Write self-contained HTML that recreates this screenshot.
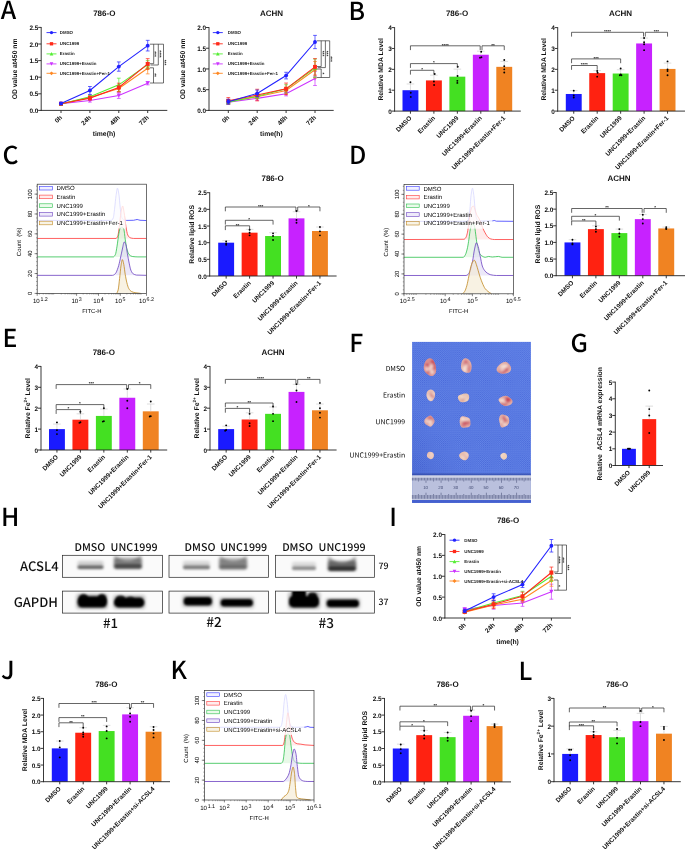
<!DOCTYPE html>
<html lang="en">
<head>
<meta charset="utf-8">
<title>Figure: UNC1999 and Erastin ferroptosis panels</title>
<style>
html,body{margin:0;padding:0;background:#fff;}
body{width:685px;height:851px;overflow:hidden;font-family:"Liberation Sans",sans-serif;}
svg{display:block;will-change:transform;}
</style>
</head>
<body>
<svg width="685" height="851" viewBox="0 0 685 851" text-rendering="geometricPrecision" font-family='"Liberation Sans", sans-serif'>
<defs><filter id="b1" x="-30%" y="-80%" width="160%" height="260%"><feGaussianBlur stdDeviation="1.1"/></filter><filter id="b2" x="-30%" y="-80%" width="160%" height="260%"><feGaussianBlur stdDeviation="1.8"/></filter><filter id="b05" x="-30%" y="-30%" width="160%" height="160%"><feGaussianBlur stdDeviation="0.7"/></filter><filter id="b08" x="-50%" y="-50%" width="200%" height="200%"><feGaussianBlur stdDeviation="1.0"/></filter><pattern id="mesh" width="2.1" height="2.1" patternUnits="userSpaceOnUse"><rect width="2.1" height="2.1" fill="#6587e8"/><circle cx="0.5" cy="0.5" r="0.58" fill="#4767d8"/><circle cx="1.55" cy="1.55" r="0.58" fill="#4767d8"/></pattern><linearGradient id="shade" x1="1" y1="0" x2="0" y2="1"><stop offset="0" stop-color="#6d8cf0" stop-opacity="0.2"/><stop offset="0.6" stop-color="#4f6fe0" stop-opacity="0"/><stop offset="1" stop-color="#2c44b0" stop-opacity="0.45"/></linearGradient></defs>
<rect width="685" height="851" fill="#fff"/>
<text x="0.71" y="19" font-size="24.8" font-weight="500" text-anchor="start" fill="#000" font-family='"Noto Sans CJK SC", "Liberation Sans", sans-serif'>A</text>
<text x="348.38" y="19.8" font-size="24.8" font-weight="500" text-anchor="start" fill="#000" font-family='"Noto Sans CJK SC", "Liberation Sans", sans-serif'>B</text>
<text x="2.4" y="163.5" font-size="24.8" font-weight="500" text-anchor="start" fill="#000" font-family='"Noto Sans CJK SC", "Liberation Sans", sans-serif'>C</text>
<text x="349" y="163.6" font-size="24.8" font-weight="500" text-anchor="start" fill="#000" font-family='"Noto Sans CJK SC", "Liberation Sans", sans-serif'>D</text>
<text x="2.4" y="346.8" font-size="24.8" font-weight="500" text-anchor="start" fill="#000" font-family='"Noto Sans CJK SC", "Liberation Sans", sans-serif'>E</text>
<text x="349.2" y="351.8" font-size="24.8" font-weight="500" text-anchor="start" fill="#000" font-family='"Noto Sans CJK SC", "Liberation Sans", sans-serif'>F</text>
<text x="570.6" y="352.1" font-size="24.8" font-weight="500" text-anchor="start" fill="#000" font-family='"Noto Sans CJK SC", "Liberation Sans", sans-serif'>G</text>
<text x="1.02" y="525.6" font-size="24.8" font-weight="500" text-anchor="start" fill="#000" font-family='"Noto Sans CJK SC", "Liberation Sans", sans-serif'>H</text>
<text x="389.2" y="525.6" font-size="24.8" font-weight="500" text-anchor="start" fill="#000" font-family='"Noto Sans CJK SC", "Liberation Sans", sans-serif'>I</text>
<text x="1.1" y="679.3" font-size="24.8" font-weight="500" text-anchor="start" fill="#000" font-family='"Noto Sans CJK SC", "Liberation Sans", sans-serif'>J</text>
<text x="170.58" y="679" font-size="24.8" font-weight="500" text-anchor="start" fill="#000" font-family='"Noto Sans CJK SC", "Liberation Sans", sans-serif'>K</text>
<text x="518.38" y="680.4" font-size="24.8" font-weight="500" text-anchor="start" fill="#000" font-family='"Noto Sans CJK SC", "Liberation Sans", sans-serif'>L</text>
<line x1="61" y1="102.76" x2="61" y2="104.76" stroke="#cc33ff" stroke-width="0.7"/>
<line x1="59.1" y1="102.76" x2="62.9" y2="102.76" stroke="#cc33ff" stroke-width="0.7"/>
<line x1="59.1" y1="104.76" x2="62.9" y2="104.76" stroke="#cc33ff" stroke-width="0.7"/>
<line x1="89.9" y1="98.78" x2="89.9" y2="102.1" stroke="#cc33ff" stroke-width="0.7"/>
<line x1="88" y1="98.78" x2="91.8" y2="98.78" stroke="#cc33ff" stroke-width="0.7"/>
<line x1="88" y1="102.1" x2="91.8" y2="102.1" stroke="#cc33ff" stroke-width="0.7"/>
<line x1="118.8" y1="92.47" x2="118.8" y2="98.45" stroke="#cc33ff" stroke-width="0.7"/>
<line x1="116.9" y1="92.47" x2="120.7" y2="92.47" stroke="#cc33ff" stroke-width="0.7"/>
<line x1="116.9" y1="98.45" x2="120.7" y2="98.45" stroke="#cc33ff" stroke-width="0.7"/>
<line x1="147.7" y1="81.52" x2="147.7" y2="84.84" stroke="#cc33ff" stroke-width="0.7"/>
<line x1="145.8" y1="81.52" x2="149.6" y2="81.52" stroke="#cc33ff" stroke-width="0.7"/>
<line x1="145.8" y1="84.84" x2="149.6" y2="84.84" stroke="#cc33ff" stroke-width="0.7"/>
<polyline points="61,103.76 89.9,100.44 118.8,95.46 147.7,83.18" fill="none" stroke="#cc33ff" stroke-width="1.1"/>
<path d="M58.85 101.81L63.15 101.81L61 105.91Z" fill="#cc33ff"/>
<path d="M87.76 98.49L92.05 98.49L89.9 102.58Z" fill="#cc33ff"/>
<path d="M116.66 93.51L120.94 93.51L118.8 97.61Z" fill="#cc33ff"/>
<path d="M145.55 81.23L149.84 81.23L147.7 85.32Z" fill="#cc33ff"/>
<line x1="61" y1="102.76" x2="61" y2="104.76" stroke="#ff8822" stroke-width="0.7"/>
<line x1="59.1" y1="102.76" x2="62.9" y2="102.76" stroke="#ff8822" stroke-width="0.7"/>
<line x1="59.1" y1="104.76" x2="62.9" y2="104.76" stroke="#ff8822" stroke-width="0.7"/>
<line x1="89.9" y1="95.79" x2="89.9" y2="99.11" stroke="#ff8822" stroke-width="0.7"/>
<line x1="88" y1="95.79" x2="91.8" y2="95.79" stroke="#ff8822" stroke-width="0.7"/>
<line x1="88" y1="99.11" x2="91.8" y2="99.11" stroke="#ff8822" stroke-width="0.7"/>
<line x1="118.8" y1="85.17" x2="118.8" y2="91.81" stroke="#ff8822" stroke-width="0.7"/>
<line x1="116.9" y1="85.17" x2="120.7" y2="85.17" stroke="#ff8822" stroke-width="0.7"/>
<line x1="116.9" y1="91.81" x2="120.7" y2="91.81" stroke="#ff8822" stroke-width="0.7"/>
<line x1="147.7" y1="62.59" x2="147.7" y2="73.88" stroke="#ff8822" stroke-width="0.7"/>
<line x1="145.8" y1="62.59" x2="149.6" y2="62.59" stroke="#ff8822" stroke-width="0.7"/>
<line x1="145.8" y1="73.88" x2="149.6" y2="73.88" stroke="#ff8822" stroke-width="0.7"/>
<polyline points="61,103.76 89.9,97.45 118.8,88.49 147.7,68.24" fill="none" stroke="#ff8822" stroke-width="1.1"/>
<path d="M58.76 103.76L61 101.52L63.24 103.76L61 106Z" fill="#ff8822"/>
<path d="M87.66 97.45L89.9 95.21L92.14 97.45L89.9 99.69Z" fill="#ff8822"/>
<path d="M116.56 88.49L118.8 86.25L121.04 88.49L118.8 90.73Z" fill="#ff8822"/>
<path d="M145.46 68.24L147.7 65.99L149.94 68.24L147.7 70.48Z" fill="#ff8822"/>
<line x1="61" y1="103.1" x2="61" y2="105.09" stroke="#55ee33" stroke-width="0.7"/>
<line x1="59.1" y1="103.1" x2="62.9" y2="103.1" stroke="#55ee33" stroke-width="0.7"/>
<line x1="59.1" y1="105.09" x2="62.9" y2="105.09" stroke="#55ee33" stroke-width="0.7"/>
<line x1="89.9" y1="95.13" x2="89.9" y2="98.45" stroke="#55ee33" stroke-width="0.7"/>
<line x1="88" y1="95.13" x2="91.8" y2="95.13" stroke="#55ee33" stroke-width="0.7"/>
<line x1="88" y1="98.45" x2="91.8" y2="98.45" stroke="#55ee33" stroke-width="0.7"/>
<line x1="118.8" y1="78.2" x2="118.8" y2="91.48" stroke="#55ee33" stroke-width="0.7"/>
<line x1="116.9" y1="78.2" x2="120.7" y2="78.2" stroke="#55ee33" stroke-width="0.7"/>
<line x1="116.9" y1="91.48" x2="120.7" y2="91.48" stroke="#55ee33" stroke-width="0.7"/>
<line x1="147.7" y1="60.6" x2="147.7" y2="68.57" stroke="#55ee33" stroke-width="0.7"/>
<line x1="145.8" y1="60.6" x2="149.6" y2="60.6" stroke="#55ee33" stroke-width="0.7"/>
<line x1="145.8" y1="68.57" x2="149.6" y2="68.57" stroke="#55ee33" stroke-width="0.7"/>
<polyline points="61,104.09 89.9,96.79 118.8,84.84 147.7,64.58" fill="none" stroke="#55ee33" stroke-width="1.1"/>
<path d="M58.85 106.04L63.15 106.04L61 101.95Z" fill="#55ee33"/>
<path d="M87.76 98.74L92.05 98.74L89.9 94.64Z" fill="#55ee33"/>
<path d="M116.66 86.79L120.94 86.79L118.8 82.69Z" fill="#55ee33"/>
<path d="M145.55 66.53L149.84 66.53L147.7 62.44Z" fill="#55ee33"/>
<line x1="61" y1="102.76" x2="61" y2="104.76" stroke="#ff2a1a" stroke-width="0.7"/>
<line x1="59.1" y1="102.76" x2="62.9" y2="102.76" stroke="#ff2a1a" stroke-width="0.7"/>
<line x1="59.1" y1="104.76" x2="62.9" y2="104.76" stroke="#ff2a1a" stroke-width="0.7"/>
<line x1="89.9" y1="96.12" x2="89.9" y2="100.11" stroke="#ff2a1a" stroke-width="0.7"/>
<line x1="88" y1="96.12" x2="91.8" y2="96.12" stroke="#ff2a1a" stroke-width="0.7"/>
<line x1="88" y1="100.11" x2="91.8" y2="100.11" stroke="#ff2a1a" stroke-width="0.7"/>
<line x1="118.8" y1="83.18" x2="118.8" y2="91.81" stroke="#ff2a1a" stroke-width="0.7"/>
<line x1="116.9" y1="83.18" x2="120.7" y2="83.18" stroke="#ff2a1a" stroke-width="0.7"/>
<line x1="116.9" y1="91.81" x2="120.7" y2="91.81" stroke="#ff2a1a" stroke-width="0.7"/>
<line x1="147.7" y1="58.61" x2="147.7" y2="69.23" stroke="#ff2a1a" stroke-width="0.7"/>
<line x1="145.8" y1="58.61" x2="149.6" y2="58.61" stroke="#ff2a1a" stroke-width="0.7"/>
<line x1="145.8" y1="69.23" x2="149.6" y2="69.23" stroke="#ff2a1a" stroke-width="0.7"/>
<polyline points="61,103.76 89.9,98.12 118.8,87.49 147.7,63.92" fill="none" stroke="#ff2a1a" stroke-width="1.1"/>
<rect x="59.05" y="101.81" width="3.9" height="3.9" fill="#ff2a1a"/>
<rect x="87.95" y="96.17" width="3.9" height="3.9" fill="#ff2a1a"/>
<rect x="116.85" y="85.54" width="3.9" height="3.9" fill="#ff2a1a"/>
<rect x="145.75" y="61.97" width="3.9" height="3.9" fill="#ff2a1a"/>
<line x1="61" y1="102.43" x2="61" y2="104.42" stroke="#2222ff" stroke-width="0.7"/>
<line x1="59.1" y1="102.43" x2="62.9" y2="102.43" stroke="#2222ff" stroke-width="0.7"/>
<line x1="59.1" y1="104.42" x2="62.9" y2="104.42" stroke="#2222ff" stroke-width="0.7"/>
<line x1="89.9" y1="86.5" x2="89.9" y2="94.46" stroke="#2222ff" stroke-width="0.7"/>
<line x1="88" y1="86.5" x2="91.8" y2="86.5" stroke="#2222ff" stroke-width="0.7"/>
<line x1="88" y1="94.46" x2="91.8" y2="94.46" stroke="#2222ff" stroke-width="0.7"/>
<line x1="118.8" y1="61.93" x2="118.8" y2="71.22" stroke="#2222ff" stroke-width="0.7"/>
<line x1="116.9" y1="61.93" x2="120.7" y2="61.93" stroke="#2222ff" stroke-width="0.7"/>
<line x1="116.9" y1="71.22" x2="120.7" y2="71.22" stroke="#2222ff" stroke-width="0.7"/>
<line x1="147.7" y1="40.35" x2="147.7" y2="50.97" stroke="#2222ff" stroke-width="0.7"/>
<line x1="145.8" y1="40.35" x2="149.6" y2="40.35" stroke="#2222ff" stroke-width="0.7"/>
<line x1="145.8" y1="50.97" x2="149.6" y2="50.97" stroke="#2222ff" stroke-width="0.7"/>
<polyline points="61,103.43 89.9,90.48 118.8,66.58 147.7,45.66" fill="none" stroke="#2222ff" stroke-width="1.1"/>
<circle cx="61" cy="103.43" r="1.95" fill="#2222ff"/>
<circle cx="89.9" cy="90.48" r="1.95" fill="#2222ff"/>
<circle cx="118.8" cy="66.58" r="1.95" fill="#2222ff"/>
<circle cx="147.7" cy="45.66" r="1.95" fill="#2222ff"/>
<line x1="40.75" y1="110.4" x2="167.3" y2="110.4" stroke="#222" stroke-width="0.9"/>
<line x1="41.2" y1="27" x2="41.2" y2="110.8" stroke="#222" stroke-width="0.9"/>
<line x1="38.2" y1="110.4" x2="41.2" y2="110.4" stroke="#222" stroke-width="0.9"/>
<text x="38.3" y="113.05" font-size="6.4" font-weight="bold" text-anchor="end" fill="#111">0.0</text>
<line x1="38.2" y1="93.8" x2="41.2" y2="93.8" stroke="#222" stroke-width="0.9"/>
<text x="38.3" y="96.45" font-size="6.4" font-weight="bold" text-anchor="end" fill="#111">0.5</text>
<line x1="38.2" y1="77.2" x2="41.2" y2="77.2" stroke="#222" stroke-width="0.9"/>
<text x="38.3" y="79.85" font-size="6.4" font-weight="bold" text-anchor="end" fill="#111">1.0</text>
<line x1="38.2" y1="60.6" x2="41.2" y2="60.6" stroke="#222" stroke-width="0.9"/>
<text x="38.3" y="63.25" font-size="6.4" font-weight="bold" text-anchor="end" fill="#111">1.5</text>
<line x1="38.2" y1="44" x2="41.2" y2="44" stroke="#222" stroke-width="0.9"/>
<text x="38.3" y="46.65" font-size="6.4" font-weight="bold" text-anchor="end" fill="#111">2.0</text>
<line x1="38.2" y1="27.4" x2="41.2" y2="27.4" stroke="#222" stroke-width="0.9"/>
<text x="38.3" y="30.05" font-size="6.4" font-weight="bold" text-anchor="end" fill="#111">2.5</text>
<line x1="61" y1="110.4" x2="61" y2="113" stroke="#222" stroke-width="0.9"/>
<text x="62.6" y="117.9" font-size="6.4" font-weight="bold" text-anchor="end" fill="#111" transform="rotate(-45 62.6 117.9)">0h</text>
<line x1="89.9" y1="110.4" x2="89.9" y2="113" stroke="#222" stroke-width="0.9"/>
<text x="91.5" y="117.9" font-size="6.4" font-weight="bold" text-anchor="end" fill="#111" transform="rotate(-45 91.5 117.9)">24h</text>
<line x1="118.8" y1="110.4" x2="118.8" y2="113" stroke="#222" stroke-width="0.9"/>
<text x="120.4" y="117.9" font-size="6.4" font-weight="bold" text-anchor="end" fill="#111" transform="rotate(-45 120.4 117.9)">48h</text>
<line x1="147.7" y1="110.4" x2="147.7" y2="113" stroke="#222" stroke-width="0.9"/>
<text x="149.3" y="117.9" font-size="6.4" font-weight="bold" text-anchor="end" fill="#111" transform="rotate(-45 149.3 117.9)">72h</text>
<line x1="46.5" y1="32.6" x2="56.5" y2="32.6" stroke="#2222ff" stroke-width="0.9"/>
<circle cx="51.5" cy="32.6" r="1.66" fill="#2222ff"/>
<text x="59.8" y="34.18" font-size="4.4" font-weight="bold" text-anchor="start" fill="#222">DMSO</text>
<line x1="46.5" y1="43.8" x2="56.5" y2="43.8" stroke="#ff2a1a" stroke-width="0.9"/>
<rect x="49.84" y="42.14" width="3.31" height="3.31" fill="#ff2a1a"/>
<text x="59.8" y="45.38" font-size="4.4" font-weight="bold" text-anchor="start" fill="#222">UNC1999</text>
<line x1="46.5" y1="53.9" x2="56.5" y2="53.9" stroke="#55ee33" stroke-width="0.9"/>
<path d="M49.68 55.56L53.32 55.56L51.5 52.08Z" fill="#55ee33"/>
<text x="59.8" y="55.48" font-size="4.4" font-weight="bold" text-anchor="start" fill="#222">Erastin</text>
<line x1="46.5" y1="63.9" x2="56.5" y2="63.9" stroke="#cc33ff" stroke-width="0.9"/>
<path d="M49.68 62.24L53.32 62.24L51.5 65.72Z" fill="#cc33ff"/>
<text x="59.8" y="65.48" font-size="4.4" font-weight="bold" text-anchor="start" fill="#222">UNC1999+Erastin</text>
<line x1="46.5" y1="73.3" x2="56.5" y2="73.3" stroke="#ff8822" stroke-width="0.9"/>
<path d="M49.59 73.3L51.5 71.39L53.41 73.3L51.5 75.21Z" fill="#ff8822"/>
<text x="59.8" y="74.88" font-size="4.4" font-weight="bold" text-anchor="start" fill="#222">UNC1999+Erastin+Fer-1</text>
<path d="M149.8 44.2H163.5V83H149.8M153.7 44.2V63.7H149.8M158.3 44.2V65H150.6M149.8 67.8H153.5V83" stroke="#222" stroke-width="0.65" fill="none"/>
<text x="153.2" y="54" font-size="4.8" font-weight="bold" text-anchor="middle" fill="#222" transform="rotate(90 153.2 54)">***</text>
<text x="157.8" y="54" font-size="4.8" font-weight="bold" text-anchor="middle" fill="#222" transform="rotate(90 157.8 54)">****</text>
<text x="163" y="62.5" font-size="4.8" font-weight="bold" text-anchor="middle" fill="#222" transform="rotate(90 163 62.5)">***</text>
<text x="153" y="75" font-size="4.8" font-weight="bold" text-anchor="middle" fill="#222" transform="rotate(90 153 75)">**</text>
<text x="104.3" y="16.2" font-size="8" font-weight="bold" text-anchor="middle" fill="#111">786-O</text>
<text x="17.5" y="68.9" font-size="6.8" font-weight="bold" text-anchor="middle" fill="#111" transform="rotate(-90 17.5 68.9)">OD value at450 nm</text>
<text x="104" y="136.2" font-size="6.8" font-weight="bold" text-anchor="middle" fill="#111">time(h)</text>
<line x1="228.3" y1="100.45" x2="228.3" y2="103.77" stroke="#cc33ff" stroke-width="0.7"/>
<line x1="226.4" y1="100.45" x2="230.2" y2="100.45" stroke="#cc33ff" stroke-width="0.7"/>
<line x1="226.4" y1="103.77" x2="230.2" y2="103.77" stroke="#cc33ff" stroke-width="0.7"/>
<line x1="257.2" y1="96.31" x2="257.2" y2="100.45" stroke="#cc33ff" stroke-width="0.7"/>
<line x1="255.3" y1="96.31" x2="259.1" y2="96.31" stroke="#cc33ff" stroke-width="0.7"/>
<line x1="255.3" y1="100.45" x2="259.1" y2="100.45" stroke="#cc33ff" stroke-width="0.7"/>
<line x1="286.1" y1="91.75" x2="286.1" y2="95.89" stroke="#cc33ff" stroke-width="0.7"/>
<line x1="284.2" y1="91.75" x2="288" y2="91.75" stroke="#cc33ff" stroke-width="0.7"/>
<line x1="284.2" y1="95.89" x2="288" y2="95.89" stroke="#cc33ff" stroke-width="0.7"/>
<line x1="315" y1="71.44" x2="315" y2="85.53" stroke="#cc33ff" stroke-width="0.7"/>
<line x1="313.1" y1="71.44" x2="316.9" y2="71.44" stroke="#cc33ff" stroke-width="0.7"/>
<line x1="313.1" y1="85.53" x2="316.9" y2="85.53" stroke="#cc33ff" stroke-width="0.7"/>
<polyline points="228.3,102.11 257.2,98.38 286.1,93.82 315,78.48" fill="none" stroke="#cc33ff" stroke-width="1.1"/>
<path d="M226.16 100.16L230.45 100.16L228.3 104.25Z" fill="#cc33ff"/>
<path d="M255.05 96.43L259.34 96.43L257.2 100.52Z" fill="#cc33ff"/>
<path d="M283.96 91.87L288.25 91.87L286.1 95.97Z" fill="#cc33ff"/>
<path d="M312.86 76.53L317.14 76.53L315 80.63Z" fill="#cc33ff"/>
<line x1="228.3" y1="100.04" x2="228.3" y2="103.35" stroke="#ff8822" stroke-width="0.7"/>
<line x1="226.4" y1="100.04" x2="230.2" y2="100.04" stroke="#ff8822" stroke-width="0.7"/>
<line x1="226.4" y1="103.35" x2="230.2" y2="103.35" stroke="#ff8822" stroke-width="0.7"/>
<line x1="257.2" y1="94.65" x2="257.2" y2="98.79" stroke="#ff8822" stroke-width="0.7"/>
<line x1="255.3" y1="94.65" x2="259.1" y2="94.65" stroke="#ff8822" stroke-width="0.7"/>
<line x1="255.3" y1="98.79" x2="259.1" y2="98.79" stroke="#ff8822" stroke-width="0.7"/>
<line x1="286.1" y1="87.19" x2="286.1" y2="93.82" stroke="#ff8822" stroke-width="0.7"/>
<line x1="284.2" y1="87.19" x2="288" y2="87.19" stroke="#ff8822" stroke-width="0.7"/>
<line x1="284.2" y1="93.82" x2="288" y2="93.82" stroke="#ff8822" stroke-width="0.7"/>
<line x1="315" y1="61.49" x2="315" y2="78.07" stroke="#ff8822" stroke-width="0.7"/>
<line x1="313.1" y1="61.49" x2="316.9" y2="61.49" stroke="#ff8822" stroke-width="0.7"/>
<line x1="313.1" y1="78.07" x2="316.9" y2="78.07" stroke="#ff8822" stroke-width="0.7"/>
<polyline points="228.3,101.7 257.2,96.72 286.1,90.5 315,69.78" fill="none" stroke="#ff8822" stroke-width="1.1"/>
<path d="M226.06 101.7L228.3 99.45L230.54 101.7L228.3 103.94Z" fill="#ff8822"/>
<path d="M254.96 96.72L257.2 94.48L259.44 96.72L257.2 98.96Z" fill="#ff8822"/>
<path d="M283.86 90.5L286.1 88.26L288.34 90.5L286.1 92.75Z" fill="#ff8822"/>
<path d="M312.76 69.78L315 67.54L317.24 69.78L315 72.02Z" fill="#ff8822"/>
<line x1="228.3" y1="100.04" x2="228.3" y2="104.18" stroke="#55ee33" stroke-width="0.7"/>
<line x1="226.4" y1="100.04" x2="230.2" y2="100.04" stroke="#55ee33" stroke-width="0.7"/>
<line x1="226.4" y1="104.18" x2="230.2" y2="104.18" stroke="#55ee33" stroke-width="0.7"/>
<line x1="257.2" y1="93.82" x2="257.2" y2="98.79" stroke="#55ee33" stroke-width="0.7"/>
<line x1="255.3" y1="93.82" x2="259.1" y2="93.82" stroke="#55ee33" stroke-width="0.7"/>
<line x1="255.3" y1="98.79" x2="259.1" y2="98.79" stroke="#55ee33" stroke-width="0.7"/>
<line x1="286.1" y1="84.7" x2="286.1" y2="92.99" stroke="#55ee33" stroke-width="0.7"/>
<line x1="284.2" y1="84.7" x2="288" y2="84.7" stroke="#55ee33" stroke-width="0.7"/>
<line x1="284.2" y1="92.99" x2="288" y2="92.99" stroke="#55ee33" stroke-width="0.7"/>
<line x1="315" y1="59" x2="315" y2="77.24" stroke="#55ee33" stroke-width="0.7"/>
<line x1="313.1" y1="59" x2="316.9" y2="59" stroke="#55ee33" stroke-width="0.7"/>
<line x1="313.1" y1="77.24" x2="316.9" y2="77.24" stroke="#55ee33" stroke-width="0.7"/>
<polyline points="228.3,102.11 257.2,96.31 286.1,88.85 315,68.12" fill="none" stroke="#55ee33" stroke-width="1.1"/>
<path d="M226.16 104.06L230.45 104.06L228.3 99.97Z" fill="#55ee33"/>
<path d="M255.05 98.26L259.34 98.26L257.2 94.16Z" fill="#55ee33"/>
<path d="M283.96 90.8L288.25 90.8L286.1 86.7Z" fill="#55ee33"/>
<path d="M312.86 70.07L317.14 70.07L315 65.98Z" fill="#55ee33"/>
<line x1="228.3" y1="97.55" x2="228.3" y2="104.18" stroke="#ff2a1a" stroke-width="0.7"/>
<line x1="226.4" y1="97.55" x2="230.2" y2="97.55" stroke="#ff2a1a" stroke-width="0.7"/>
<line x1="226.4" y1="104.18" x2="230.2" y2="104.18" stroke="#ff2a1a" stroke-width="0.7"/>
<line x1="257.2" y1="89.26" x2="257.2" y2="100.87" stroke="#ff2a1a" stroke-width="0.7"/>
<line x1="255.3" y1="89.26" x2="259.1" y2="89.26" stroke="#ff2a1a" stroke-width="0.7"/>
<line x1="255.3" y1="100.87" x2="259.1" y2="100.87" stroke="#ff2a1a" stroke-width="0.7"/>
<line x1="286.1" y1="83.04" x2="286.1" y2="94.65" stroke="#ff2a1a" stroke-width="0.7"/>
<line x1="284.2" y1="83.04" x2="288" y2="83.04" stroke="#ff2a1a" stroke-width="0.7"/>
<line x1="284.2" y1="94.65" x2="288" y2="94.65" stroke="#ff2a1a" stroke-width="0.7"/>
<line x1="315" y1="58.59" x2="315" y2="75.17" stroke="#ff2a1a" stroke-width="0.7"/>
<line x1="313.1" y1="58.59" x2="316.9" y2="58.59" stroke="#ff2a1a" stroke-width="0.7"/>
<line x1="313.1" y1="75.17" x2="316.9" y2="75.17" stroke="#ff2a1a" stroke-width="0.7"/>
<polyline points="228.3,100.87 257.2,95.06 286.1,88.85 315,66.88" fill="none" stroke="#ff2a1a" stroke-width="1.1"/>
<rect x="226.35" y="98.92" width="3.9" height="3.9" fill="#ff2a1a"/>
<rect x="255.25" y="93.11" width="3.9" height="3.9" fill="#ff2a1a"/>
<rect x="284.15" y="86.9" width="3.9" height="3.9" fill="#ff2a1a"/>
<rect x="313.05" y="64.93" width="3.9" height="3.9" fill="#ff2a1a"/>
<line x1="228.3" y1="99.21" x2="228.3" y2="104.18" stroke="#2222ff" stroke-width="0.7"/>
<line x1="226.4" y1="99.21" x2="230.2" y2="99.21" stroke="#2222ff" stroke-width="0.7"/>
<line x1="226.4" y1="104.18" x2="230.2" y2="104.18" stroke="#2222ff" stroke-width="0.7"/>
<line x1="257.2" y1="90.09" x2="257.2" y2="96.72" stroke="#2222ff" stroke-width="0.7"/>
<line x1="255.3" y1="90.09" x2="259.1" y2="90.09" stroke="#2222ff" stroke-width="0.7"/>
<line x1="255.3" y1="96.72" x2="259.1" y2="96.72" stroke="#2222ff" stroke-width="0.7"/>
<line x1="286.1" y1="72.27" x2="286.1" y2="78.9" stroke="#2222ff" stroke-width="0.7"/>
<line x1="284.2" y1="72.27" x2="288" y2="72.27" stroke="#2222ff" stroke-width="0.7"/>
<line x1="284.2" y1="78.9" x2="288" y2="78.9" stroke="#2222ff" stroke-width="0.7"/>
<line x1="315" y1="35.38" x2="315" y2="48.64" stroke="#2222ff" stroke-width="0.7"/>
<line x1="313.1" y1="35.38" x2="316.9" y2="35.38" stroke="#2222ff" stroke-width="0.7"/>
<line x1="313.1" y1="48.64" x2="316.9" y2="48.64" stroke="#2222ff" stroke-width="0.7"/>
<polyline points="228.3,101.7 257.2,93.41 286.1,75.58 315,42.01" fill="none" stroke="#2222ff" stroke-width="1.1"/>
<circle cx="228.3" cy="101.7" r="1.95" fill="#2222ff"/>
<circle cx="257.2" cy="93.41" r="1.95" fill="#2222ff"/>
<circle cx="286.1" cy="75.58" r="1.95" fill="#2222ff"/>
<circle cx="315" cy="42.01" r="1.95" fill="#2222ff"/>
<line x1="208.55" y1="110.4" x2="333.7" y2="110.4" stroke="#222" stroke-width="0.9"/>
<line x1="209" y1="27.1" x2="209" y2="110.8" stroke="#222" stroke-width="0.9"/>
<line x1="206" y1="110.4" x2="209" y2="110.4" stroke="#222" stroke-width="0.9"/>
<text x="206.1" y="113.05" font-size="6.4" font-weight="bold" text-anchor="end" fill="#111">0.0</text>
<line x1="206" y1="89.68" x2="209" y2="89.68" stroke="#222" stroke-width="0.9"/>
<text x="206.1" y="92.33" font-size="6.4" font-weight="bold" text-anchor="end" fill="#111">0.5</text>
<line x1="206" y1="68.95" x2="209" y2="68.95" stroke="#222" stroke-width="0.9"/>
<text x="206.1" y="71.6" font-size="6.4" font-weight="bold" text-anchor="end" fill="#111">1.0</text>
<line x1="206" y1="48.23" x2="209" y2="48.23" stroke="#222" stroke-width="0.9"/>
<text x="206.1" y="50.88" font-size="6.4" font-weight="bold" text-anchor="end" fill="#111">1.5</text>
<line x1="206" y1="27.5" x2="209" y2="27.5" stroke="#222" stroke-width="0.9"/>
<text x="206.1" y="30.15" font-size="6.4" font-weight="bold" text-anchor="end" fill="#111">2.0</text>
<line x1="228.3" y1="110.4" x2="228.3" y2="113" stroke="#222" stroke-width="0.9"/>
<text x="229.9" y="117.9" font-size="6.4" font-weight="bold" text-anchor="end" fill="#111" transform="rotate(-45 229.9 117.9)">0h</text>
<line x1="257.2" y1="110.4" x2="257.2" y2="113" stroke="#222" stroke-width="0.9"/>
<text x="258.8" y="117.9" font-size="6.4" font-weight="bold" text-anchor="end" fill="#111" transform="rotate(-45 258.8 117.9)">24h</text>
<line x1="286.1" y1="110.4" x2="286.1" y2="113" stroke="#222" stroke-width="0.9"/>
<text x="287.7" y="117.9" font-size="6.4" font-weight="bold" text-anchor="end" fill="#111" transform="rotate(-45 287.7 117.9)">48h</text>
<line x1="315" y1="110.4" x2="315" y2="113" stroke="#222" stroke-width="0.9"/>
<text x="316.6" y="117.9" font-size="6.4" font-weight="bold" text-anchor="end" fill="#111" transform="rotate(-45 316.6 117.9)">72h</text>
<line x1="212.8" y1="32.6" x2="222.8" y2="32.6" stroke="#2222ff" stroke-width="0.9"/>
<circle cx="217.8" cy="32.6" r="1.66" fill="#2222ff"/>
<text x="227.8" y="34.18" font-size="4.4" font-weight="bold" text-anchor="start" fill="#222">DMSO</text>
<line x1="212.8" y1="43.8" x2="222.8" y2="43.8" stroke="#ff2a1a" stroke-width="0.9"/>
<rect x="216.14" y="42.14" width="3.31" height="3.31" fill="#ff2a1a"/>
<text x="227.8" y="45.38" font-size="4.4" font-weight="bold" text-anchor="start" fill="#222">UNC1999</text>
<line x1="212.8" y1="53.9" x2="222.8" y2="53.9" stroke="#55ee33" stroke-width="0.9"/>
<path d="M215.98 55.56L219.62 55.56L217.8 52.08Z" fill="#55ee33"/>
<text x="227.8" y="55.48" font-size="4.4" font-weight="bold" text-anchor="start" fill="#222">Erastin</text>
<line x1="212.8" y1="63.9" x2="222.8" y2="63.9" stroke="#cc33ff" stroke-width="0.9"/>
<path d="M215.98 62.24L219.62 62.24L217.8 65.72Z" fill="#cc33ff"/>
<text x="227.8" y="65.48" font-size="4.4" font-weight="bold" text-anchor="start" fill="#222">UNC1999+Erastin</text>
<line x1="212.8" y1="73.3" x2="222.8" y2="73.3" stroke="#ff8822" stroke-width="0.9"/>
<path d="M215.89 73.3L217.8 71.39L219.71 73.3L217.8 75.21Z" fill="#ff8822"/>
<text x="227.8" y="74.88" font-size="4.4" font-weight="bold" text-anchor="start" fill="#222">UNC1999+Erastin+Fer-1</text>
<path d="M317 40.8H329.7V77.5H317M321.2 40.8V66.5H317M325.4 40.8V67.6H317.8M317 69H321.2V77.5" stroke="#222" stroke-width="0.65" fill="none"/>
<text x="320.7" y="53.5" font-size="4.8" font-weight="bold" text-anchor="middle" fill="#222" transform="rotate(90 320.7 53.5)">***</text>
<text x="324.9" y="53.5" font-size="4.8" font-weight="bold" text-anchor="middle" fill="#222" transform="rotate(90 324.9 53.5)">***</text>
<text x="329.2" y="59" font-size="4.8" font-weight="bold" text-anchor="middle" fill="#222" transform="rotate(90 329.2 59)">***</text>
<text x="320.7" y="73.5" font-size="4.8" font-weight="bold" text-anchor="middle" fill="#222" transform="rotate(90 320.7 73.5)">*</text>
<text x="271.5" y="16.2" font-size="8" font-weight="bold" text-anchor="middle" fill="#111">ACHN</text>
<text x="185.2" y="68.95" font-size="6.8" font-weight="bold" text-anchor="middle" fill="#111" transform="rotate(-90 185.2 68.95)">OD value at450 nm</text>
<text x="271.4" y="136.2" font-size="6.8" font-weight="bold" text-anchor="middle" fill="#111">time(h)</text>
<rect x="402.5" y="90.22" width="15.9" height="20.88" fill="#1a1aff"/>
<rect x="425.95" y="80.41" width="15.9" height="30.69" fill="#ff2211"/>
<rect x="449.4" y="76.66" width="15.9" height="34.44" fill="#44e022"/>
<rect x="472.85" y="54.74" width="15.9" height="56.36" fill="#c722ff"/>
<rect x="496.3" y="66.84" width="15.9" height="44.26" fill="#f08322"/>
<line x1="410.45" y1="83.96" x2="410.45" y2="90.22" stroke="#c8c8c8" stroke-width="0.6"/>
<line x1="406.65" y1="83.96" x2="414.25" y2="83.96" stroke="#c8c8c8" stroke-width="0.6"/>
<line x1="433.9" y1="75.19" x2="433.9" y2="80.41" stroke="#c8c8c8" stroke-width="0.6"/>
<line x1="430.1" y1="75.19" x2="437.7" y2="75.19" stroke="#c8c8c8" stroke-width="0.6"/>
<line x1="457.35" y1="69.14" x2="457.35" y2="76.66" stroke="#c8c8c8" stroke-width="0.6"/>
<line x1="453.55" y1="69.14" x2="461.15" y2="69.14" stroke="#c8c8c8" stroke-width="0.6"/>
<line x1="480.8" y1="51.19" x2="480.8" y2="54.74" stroke="#c8c8c8" stroke-width="0.6"/>
<line x1="477" y1="51.19" x2="484.6" y2="51.19" stroke="#c8c8c8" stroke-width="0.6"/>
<line x1="504.25" y1="61.42" x2="504.25" y2="66.84" stroke="#c8c8c8" stroke-width="0.6"/>
<line x1="500.45" y1="61.42" x2="508.05" y2="61.42" stroke="#c8c8c8" stroke-width="0.6"/>
<circle cx="410.45" cy="82.29" r="0.95" fill="#000"/>
<circle cx="410.75" cy="92.73" r="0.95" fill="#000"/>
<circle cx="410.75" cy="96.91" r="0.95" fill="#000"/>
<circle cx="434.7" cy="73.94" r="0.95" fill="#000"/>
<circle cx="433.9" cy="81.46" r="0.95" fill="#000"/>
<circle cx="434.1" cy="85.01" r="0.95" fill="#000"/>
<circle cx="457.75" cy="66.64" r="0.95" fill="#000"/>
<circle cx="457.55" cy="76.03" r="0.95" fill="#000"/>
<circle cx="457.35" cy="80.83" r="0.95" fill="#000"/>
<circle cx="457.35" cy="82.92" r="0.95" fill="#000"/>
<circle cx="481.2" cy="51.81" r="0.95" fill="#000"/>
<circle cx="481.4" cy="57.24" r="0.95" fill="#000"/>
<circle cx="480" cy="57.66" r="0.95" fill="#000"/>
<circle cx="504.25" cy="59.96" r="0.95" fill="#000"/>
<circle cx="504.25" cy="66.22" r="0.95" fill="#000"/>
<circle cx="504.25" cy="69.35" r="0.95" fill="#000"/>
<circle cx="504.25" cy="72.48" r="0.95" fill="#000"/>
<line x1="394.15" y1="111.1" x2="520.8" y2="111.1" stroke="#222" stroke-width="0.9"/>
<line x1="394.6" y1="27.2" x2="394.6" y2="111.5" stroke="#222" stroke-width="0.9"/>
<line x1="391.6" y1="111.1" x2="394.6" y2="111.1" stroke="#222" stroke-width="0.9"/>
<text x="391.7" y="113.75" font-size="6.4" font-weight="bold" text-anchor="end" fill="#111">0</text>
<line x1="391.6" y1="90.22" x2="394.6" y2="90.22" stroke="#222" stroke-width="0.9"/>
<text x="391.7" y="92.88" font-size="6.4" font-weight="bold" text-anchor="end" fill="#111">1</text>
<line x1="391.6" y1="69.35" x2="394.6" y2="69.35" stroke="#222" stroke-width="0.9"/>
<text x="391.7" y="72" font-size="6.4" font-weight="bold" text-anchor="end" fill="#111">2</text>
<line x1="391.6" y1="48.47" x2="394.6" y2="48.47" stroke="#222" stroke-width="0.9"/>
<text x="391.7" y="51.13" font-size="6.4" font-weight="bold" text-anchor="end" fill="#111">3</text>
<line x1="391.6" y1="27.6" x2="394.6" y2="27.6" stroke="#222" stroke-width="0.9"/>
<text x="391.7" y="30.25" font-size="6.4" font-weight="bold" text-anchor="end" fill="#111">4</text>
<line x1="410.45" y1="111.1" x2="410.45" y2="113.7" stroke="#222" stroke-width="0.9"/>
<text x="412.05" y="118.6" font-size="6.4" font-weight="bold" text-anchor="end" fill="#111" transform="rotate(-45 412.05 118.6)">DMSO</text>
<line x1="433.9" y1="111.1" x2="433.9" y2="113.7" stroke="#222" stroke-width="0.9"/>
<text x="435.5" y="118.6" font-size="6.4" font-weight="bold" text-anchor="end" fill="#111" transform="rotate(-45 435.5 118.6)">Erastin</text>
<line x1="457.35" y1="111.1" x2="457.35" y2="113.7" stroke="#222" stroke-width="0.9"/>
<text x="458.95" y="118.6" font-size="6.4" font-weight="bold" text-anchor="end" fill="#111" transform="rotate(-45 458.95 118.6)">UNC1999</text>
<line x1="480.8" y1="111.1" x2="480.8" y2="113.7" stroke="#222" stroke-width="0.9"/>
<text x="482.4" y="118.6" font-size="6.4" font-weight="bold" text-anchor="end" fill="#111" transform="rotate(-45 482.4 118.6)">UNC1999+Erastin</text>
<line x1="504.25" y1="111.1" x2="504.25" y2="113.7" stroke="#222" stroke-width="0.9"/>
<text x="505.85" y="118.6" font-size="6.4" font-weight="bold" text-anchor="end" fill="#111" transform="rotate(-45 505.85 118.6)">UNC1999+Erastin+Fer-1</text>
<path d="M410.45 50.1V45.8H480.2V50.1" stroke="#2a2a2a" stroke-width="0.72" fill="none"/>
<text x="445.32" y="46.5" font-size="4.5" font-weight="bold" text-anchor="middle" fill="#111">****</text>
<path d="M482 50.1V45.8H504.25V50.1" stroke="#2a2a2a" stroke-width="0.72" fill="none"/>
<text x="493.12" y="46.5" font-size="4.5" font-weight="bold" text-anchor="middle" fill="#111">**</text>
<path d="M410.45 67.9V63.6H457.35V67.9" stroke="#2a2a2a" stroke-width="0.72" fill="none"/>
<text x="433.9" y="64.3" font-size="4.5" font-weight="bold" text-anchor="middle" fill="#111">*</text>
<path d="M410.45 74.6V70.3H433.9V74.6" stroke="#2a2a2a" stroke-width="0.72" fill="none"/>
<text x="422.17" y="71" font-size="4.5" font-weight="bold" text-anchor="middle" fill="#111">*</text>
<text x="457" y="16.2" font-size="8" font-weight="bold" text-anchor="middle" fill="#111">786-O</text>
<text x="383.5" y="69.35" font-size="6.8" font-weight="bold" text-anchor="middle" fill="#111" transform="rotate(-90 383.5 69.35)">Relative MDA Level</text>
<rect x="565.8" y="93.98" width="15.9" height="17.12" fill="#1a1aff"/>
<rect x="589.25" y="73.11" width="15.9" height="37.99" fill="#ff2211"/>
<rect x="612.7" y="73.52" width="15.9" height="37.58" fill="#44e022"/>
<rect x="636.15" y="43.46" width="15.9" height="67.64" fill="#c722ff"/>
<rect x="659.6" y="68.93" width="15.9" height="42.17" fill="#f08322"/>
<line x1="573.75" y1="90.64" x2="573.75" y2="93.98" stroke="#c8c8c8" stroke-width="0.6"/>
<line x1="569.95" y1="90.64" x2="577.55" y2="90.64" stroke="#c8c8c8" stroke-width="0.6"/>
<line x1="597.2" y1="70.6" x2="597.2" y2="73.11" stroke="#c8c8c8" stroke-width="0.6"/>
<line x1="593.4" y1="70.6" x2="601" y2="70.6" stroke="#c8c8c8" stroke-width="0.6"/>
<line x1="620.65" y1="69.77" x2="620.65" y2="73.52" stroke="#c8c8c8" stroke-width="0.6"/>
<line x1="616.85" y1="69.77" x2="624.45" y2="69.77" stroke="#c8c8c8" stroke-width="0.6"/>
<line x1="644.1" y1="38.04" x2="644.1" y2="43.46" stroke="#c8c8c8" stroke-width="0.6"/>
<line x1="640.3" y1="38.04" x2="647.9" y2="38.04" stroke="#c8c8c8" stroke-width="0.6"/>
<line x1="667.55" y1="63.09" x2="667.55" y2="68.93" stroke="#c8c8c8" stroke-width="0.6"/>
<line x1="663.75" y1="63.09" x2="671.35" y2="63.09" stroke="#c8c8c8" stroke-width="0.6"/>
<circle cx="573.75" cy="90.64" r="0.95" fill="#000"/>
<circle cx="573.75" cy="95.44" r="0.95" fill="#000"/>
<circle cx="573.75" cy="97.53" r="0.95" fill="#000"/>
<circle cx="597.2" cy="71.02" r="0.95" fill="#000"/>
<circle cx="597.6" cy="72.69" r="0.95" fill="#000"/>
<circle cx="597.2" cy="76.66" r="0.95" fill="#000"/>
<circle cx="620.65" cy="68.51" r="0.95" fill="#000"/>
<circle cx="620.65" cy="74.57" r="0.95" fill="#000"/>
<circle cx="621.45" cy="75.19" r="0.95" fill="#000"/>
<circle cx="619.85" cy="75.19" r="0.95" fill="#000"/>
<circle cx="644.1" cy="38.04" r="0.95" fill="#000"/>
<circle cx="644.1" cy="42.21" r="0.95" fill="#000"/>
<circle cx="644.1" cy="44.3" r="0.95" fill="#000"/>
<circle cx="644.1" cy="50.14" r="0.95" fill="#000"/>
<circle cx="667.55" cy="61.42" r="0.95" fill="#000"/>
<circle cx="667.55" cy="69.35" r="0.95" fill="#000"/>
<circle cx="667.55" cy="71.02" r="0.95" fill="#000"/>
<circle cx="667.55" cy="75.19" r="0.95" fill="#000"/>
<line x1="557.25" y1="111.1" x2="685" y2="111.1" stroke="#222" stroke-width="0.9"/>
<line x1="557.7" y1="27.2" x2="557.7" y2="111.5" stroke="#222" stroke-width="0.9"/>
<line x1="554.7" y1="111.1" x2="557.7" y2="111.1" stroke="#222" stroke-width="0.9"/>
<text x="554.8" y="113.75" font-size="6.4" font-weight="bold" text-anchor="end" fill="#111">0</text>
<line x1="554.7" y1="90.22" x2="557.7" y2="90.22" stroke="#222" stroke-width="0.9"/>
<text x="554.8" y="92.88" font-size="6.4" font-weight="bold" text-anchor="end" fill="#111">1</text>
<line x1="554.7" y1="69.35" x2="557.7" y2="69.35" stroke="#222" stroke-width="0.9"/>
<text x="554.8" y="72" font-size="6.4" font-weight="bold" text-anchor="end" fill="#111">2</text>
<line x1="554.7" y1="48.47" x2="557.7" y2="48.47" stroke="#222" stroke-width="0.9"/>
<text x="554.8" y="51.13" font-size="6.4" font-weight="bold" text-anchor="end" fill="#111">3</text>
<line x1="554.7" y1="27.6" x2="557.7" y2="27.6" stroke="#222" stroke-width="0.9"/>
<text x="554.8" y="30.25" font-size="6.4" font-weight="bold" text-anchor="end" fill="#111">4</text>
<line x1="573.75" y1="111.1" x2="573.75" y2="113.7" stroke="#222" stroke-width="0.9"/>
<text x="575.35" y="118.6" font-size="6.4" font-weight="bold" text-anchor="end" fill="#111" transform="rotate(-45 575.35 118.6)">DMSO</text>
<line x1="597.2" y1="111.1" x2="597.2" y2="113.7" stroke="#222" stroke-width="0.9"/>
<text x="598.8" y="118.6" font-size="6.4" font-weight="bold" text-anchor="end" fill="#111" transform="rotate(-45 598.8 118.6)">Erastin</text>
<line x1="620.65" y1="111.1" x2="620.65" y2="113.7" stroke="#222" stroke-width="0.9"/>
<text x="622.25" y="118.6" font-size="6.4" font-weight="bold" text-anchor="end" fill="#111" transform="rotate(-45 622.25 118.6)">UNC1999</text>
<line x1="644.1" y1="111.1" x2="644.1" y2="113.7" stroke="#222" stroke-width="0.9"/>
<text x="645.7" y="118.6" font-size="6.4" font-weight="bold" text-anchor="end" fill="#111" transform="rotate(-45 645.7 118.6)">UNC1999+Erastin</text>
<line x1="667.55" y1="111.1" x2="667.55" y2="113.7" stroke="#222" stroke-width="0.9"/>
<text x="669.15" y="118.6" font-size="6.4" font-weight="bold" text-anchor="end" fill="#111" transform="rotate(-45 669.15 118.6)">UNC1999+Erastin+Fer-1</text>
<path d="M571.55 36.6V32.3H643.5V36.6" stroke="#2a2a2a" stroke-width="0.72" fill="none"/>
<text x="607.52" y="33" font-size="4.5" font-weight="bold" text-anchor="middle" fill="#111">****</text>
<path d="M645.3 36.6V32.3H667.55V36.6" stroke="#2a2a2a" stroke-width="0.72" fill="none"/>
<text x="656.42" y="33" font-size="4.5" font-weight="bold" text-anchor="middle" fill="#111">***</text>
<path d="M571.55 63.2V58.9H620.65V63.2" stroke="#2a2a2a" stroke-width="0.72" fill="none"/>
<text x="596.1" y="59.6" font-size="4.5" font-weight="bold" text-anchor="middle" fill="#111">***</text>
<path d="M571.55 69.8V65.5H597.2V69.8" stroke="#2a2a2a" stroke-width="0.72" fill="none"/>
<text x="584.38" y="66.2" font-size="4.5" font-weight="bold" text-anchor="middle" fill="#111">****</text>
<text x="620.5" y="16.2" font-size="8" font-weight="bold" text-anchor="middle" fill="#111">ACHN</text>
<text x="546.5" y="69.35" font-size="6.8" font-weight="bold" text-anchor="middle" fill="#111" transform="rotate(-90 546.5 69.35)">Relative MDA Level</text>
<clipPath id="fc37"><rect x="37.2" y="184.2" width="109.3" height="109.2"/></clipPath>
<g clip-path="url(#fc37)">
<path d="M37.2 220.42C61.84 220.42 86.49 220.42 111.13 220.42C111.83 220.42 112.54 219.47 113.24 218.03C113.71 217.07 114.18 211.87 114.65 208.17C115.12 204.47 115.59 198.6 116.06 195.49C116.53 192.41 116.99 188.17 117.46 188.17C117.93 188.17 118.4 191.3 118.87 194.08C119.34 196.86 119.81 204.47 120.28 208.17C120.75 211.87 121.22 216.37 121.69 217.32C122.39 218.75 123.1 219.42 123.8 219.72C124.74 220.12 125.68 220.42 126.62 220.42C128.97 220.42 131.31 220.38 133.66 220.28C134.83 220.23 136.01 219.44 137.18 219.44C138.12 219.44 139.06 220.2 140 220.28C142.17 220.46 144.33 220.47 146.5 220.56L146.5 220.56L37.2 220.56Z" fill="#e4e4ff" fill-opacity="0.6" stroke="none"/>
<path d="M37.2 220.42C61.84 220.42 86.49 220.42 111.13 220.42C111.83 220.42 112.54 219.47 113.24 218.03C113.71 217.07 114.18 211.87 114.65 208.17C115.12 204.47 115.59 198.6 116.06 195.49C116.53 192.41 116.99 188.17 117.46 188.17C117.93 188.17 118.4 191.3 118.87 194.08C119.34 196.86 119.81 204.47 120.28 208.17C120.75 211.87 121.22 216.37 121.69 217.32C122.39 218.75 123.1 219.42 123.8 219.72C124.74 220.12 125.68 220.42 126.62 220.42C128.97 220.42 131.31 220.38 133.66 220.28C134.83 220.23 136.01 219.44 137.18 219.44C138.12 219.44 139.06 220.2 140 220.28C142.17 220.46 144.33 220.47 146.5 220.56" fill="none" stroke="#3a3aff" stroke-width="0.8"/>
<path d="M37.2 238.45C63.49 238.45 89.77 238.45 116.06 238.45C116.67 238.45 117.28 237.19 117.89 235.63C118.36 234.43 118.83 229.9 119.3 226.48C119.86 222.38 120.43 215.3 120.99 212.39C121.55 209.48 122.12 206.06 122.68 206.06C123.15 206.06 123.61 209.77 124.08 212.39C124.69 215.84 125.31 222.95 125.92 226.48C126.53 229.99 127.14 233.75 127.75 234.93C128.55 236.47 129.34 237.47 130.14 237.75C131.31 238.17 132.49 238.45 133.66 238.45C137.94 238.45 142.22 238.45 146.5 238.45L146.5 238.45L37.2 238.45Z" fill="#ffdede" fill-opacity="0.6" stroke="none"/>
<path d="M37.2 238.45C63.49 238.45 89.77 238.45 116.06 238.45C116.67 238.45 117.28 237.19 117.89 235.63C118.36 234.43 118.83 229.9 119.3 226.48C119.86 222.38 120.43 215.3 120.99 212.39C121.55 209.48 122.12 206.06 122.68 206.06C123.15 206.06 123.61 209.77 124.08 212.39C124.69 215.84 125.31 222.95 125.92 226.48C126.53 229.99 127.14 233.75 127.75 234.93C128.55 236.47 129.34 237.47 130.14 237.75C131.31 238.17 132.49 238.45 133.66 238.45C137.94 238.45 142.22 238.45 146.5 238.45" fill="none" stroke="#ff3a3a" stroke-width="0.8"/>
<path d="M37.2 256.9C62.55 256.9 87.89 256.9 113.24 256.9C113.94 256.9 114.65 255.92 115.35 254.65C115.91 253.64 116.48 249.47 117.04 246.2C117.65 242.66 118.26 236.57 118.87 233.52C119.34 231.17 119.81 228.23 120.28 227.89C120.89 227.44 121.5 227.18 122.11 227.18C122.67 227.18 123.24 228.08 123.8 229.3C124.27 230.32 124.74 236.15 125.21 239.15C125.77 242.74 126.34 247 126.9 249.01C127.65 251.69 128.4 253.91 129.15 254.65C130.18 255.67 131.22 256.33 132.25 256.48C134.13 256.75 136.01 256.9 137.89 256.9C140.76 256.9 143.63 256.9 146.5 256.9L146.5 256.9L37.2 256.9Z" fill="#d8f5d8" fill-opacity="0.6" stroke="none"/>
<path d="M37.2 256.9C62.55 256.9 87.89 256.9 113.24 256.9C113.94 256.9 114.65 255.92 115.35 254.65C115.91 253.64 116.48 249.47 117.04 246.2C117.65 242.66 118.26 236.57 118.87 233.52C119.34 231.17 119.81 228.23 120.28 227.89C120.89 227.44 121.5 227.18 122.11 227.18C122.67 227.18 123.24 228.08 123.8 229.3C124.27 230.32 124.74 236.15 125.21 239.15C125.77 242.74 126.34 247 126.9 249.01C127.65 251.69 128.4 253.91 129.15 254.65C130.18 255.67 131.22 256.33 132.25 256.48C134.13 256.75 136.01 256.9 137.89 256.9C140.76 256.9 143.63 256.9 146.5 256.9" fill="none" stroke="#2cc04c" stroke-width="0.8"/>
<path d="M37.2 275.35C62.31 275.35 87.43 275.35 112.54 275.35C113.48 275.35 114.41 274.55 115.35 273.66C116.29 272.77 117.23 270.06 118.17 267.32C118.87 265.27 119.58 261.9 120.28 258.87C120.98 255.84 121.69 251.96 122.39 249.01C123 246.44 123.62 241.97 124.23 241.97C124.79 241.97 125.36 243.29 125.92 244.79C126.39 246.03 126.85 250.58 127.32 253.24C127.93 256.72 128.54 260.25 129.15 263.1C129.72 265.75 130.28 268.77 130.85 270.14C131.55 271.84 132.26 273.18 132.96 273.66C134.13 274.46 135.31 275 136.48 275.07C139.82 275.27 143.16 275.26 146.5 275.35L146.5 275.35L37.2 275.35Z" fill="#e0d8f5" fill-opacity="0.6" stroke="none"/>
<path d="M37.2 275.35C62.31 275.35 87.43 275.35 112.54 275.35C113.48 275.35 114.41 274.55 115.35 273.66C116.29 272.77 117.23 270.06 118.17 267.32C118.87 265.27 119.58 261.9 120.28 258.87C120.98 255.84 121.69 251.96 122.39 249.01C123 246.44 123.62 241.97 124.23 241.97C124.79 241.97 125.36 243.29 125.92 244.79C126.39 246.03 126.85 250.58 127.32 253.24C127.93 256.72 128.54 260.25 129.15 263.1C129.72 265.75 130.28 268.77 130.85 270.14C131.55 271.84 132.26 273.18 132.96 273.66C134.13 274.46 135.31 275 136.48 275.07C139.82 275.27 143.16 275.26 146.5 275.35" fill="none" stroke="#6a3fc0" stroke-width="0.8"/>
<path d="M116.76 293.4C117.23 292.22 117.7 291.66 118.17 289.86C118.64 288.06 119.11 282.57 119.58 278.59C120.05 274.61 120.52 268.75 120.99 265.92C121.46 263.11 121.92 259.58 122.39 259.58C122.86 259.58 123.33 262.32 123.8 264.51C124.27 266.7 124.74 271.62 125.21 274.37C125.77 277.67 126.34 280.67 126.9 282.82C127.51 285.15 128.12 287.43 128.73 288.45C129.67 290.03 130.61 291.07 131.55 291.55C132.72 292.15 133.9 292.46 135.07 292.68C136.95 293.03 138.82 293.16 140.7 293.4L140.7 293.4L116.76 293.4Z" fill="#f3ead0" fill-opacity="0.6" stroke="none"/>
<path d="M116.76 293.4C117.23 292.22 117.7 291.66 118.17 289.86C118.64 288.06 119.11 282.57 119.58 278.59C120.05 274.61 120.52 268.75 120.99 265.92C121.46 263.11 121.92 259.58 122.39 259.58C122.86 259.58 123.33 262.32 123.8 264.51C124.27 266.7 124.74 271.62 125.21 274.37C125.77 277.67 126.34 280.67 126.9 282.82C127.51 285.15 128.12 287.43 128.73 288.45C129.67 290.03 130.61 291.07 131.55 291.55C132.72 292.15 133.9 292.46 135.07 292.68C136.95 293.03 138.82 293.16 140.7 293.4" fill="none" stroke="#c08820" stroke-width="0.8"/>
</g>
<rect x="37.5" y="184.5" width="88.3" height="44" fill="#fff" fill-opacity="0.8"/>
<rect x="37.2" y="184.2" width="109.3" height="109.2" fill="none" stroke="#333" stroke-width="0.7"/>
<line x1="34.6" y1="293.4" x2="37.2" y2="293.4" stroke="#333" stroke-width="0.6"/>
<text x="32" y="293.4" font-size="6" font-weight="normal" text-anchor="middle" fill="#000" transform="rotate(-90 32 293.4)">0</text>
<line x1="34.6" y1="273.55" x2="37.2" y2="273.55" stroke="#333" stroke-width="0.6"/>
<text x="32" y="273.55" font-size="6" font-weight="normal" text-anchor="middle" fill="#000" transform="rotate(-90 32 273.55)">20</text>
<line x1="34.6" y1="253.69" x2="37.2" y2="253.69" stroke="#333" stroke-width="0.6"/>
<text x="32" y="253.69" font-size="6" font-weight="normal" text-anchor="middle" fill="#000" transform="rotate(-90 32 253.69)">40</text>
<line x1="34.6" y1="233.84" x2="37.2" y2="233.84" stroke="#333" stroke-width="0.6"/>
<text x="32" y="233.84" font-size="6" font-weight="normal" text-anchor="middle" fill="#000" transform="rotate(-90 32 233.84)">60</text>
<line x1="34.6" y1="213.98" x2="37.2" y2="213.98" stroke="#333" stroke-width="0.6"/>
<text x="32" y="213.98" font-size="6" font-weight="normal" text-anchor="middle" fill="#000" transform="rotate(-90 32 213.98)">80</text>
<line x1="34.6" y1="194.13" x2="37.2" y2="194.13" stroke="#333" stroke-width="0.6"/>
<text x="32" y="194.13" font-size="6" font-weight="normal" text-anchor="middle" fill="#000" transform="rotate(-90 32 194.13)">100</text>
<line x1="36" y1="293.4" x2="37.2" y2="293.4" stroke="#333" stroke-width="0.4"/>
<line x1="36" y1="289.43" x2="37.2" y2="289.43" stroke="#333" stroke-width="0.4"/>
<line x1="36" y1="285.46" x2="37.2" y2="285.46" stroke="#333" stroke-width="0.4"/>
<line x1="36" y1="281.49" x2="37.2" y2="281.49" stroke="#333" stroke-width="0.4"/>
<line x1="36" y1="277.52" x2="37.2" y2="277.52" stroke="#333" stroke-width="0.4"/>
<line x1="36" y1="273.55" x2="37.2" y2="273.55" stroke="#333" stroke-width="0.4"/>
<line x1="36" y1="269.57" x2="37.2" y2="269.57" stroke="#333" stroke-width="0.4"/>
<line x1="36" y1="265.6" x2="37.2" y2="265.6" stroke="#333" stroke-width="0.4"/>
<line x1="36" y1="261.63" x2="37.2" y2="261.63" stroke="#333" stroke-width="0.4"/>
<line x1="36" y1="257.66" x2="37.2" y2="257.66" stroke="#333" stroke-width="0.4"/>
<line x1="36" y1="253.69" x2="37.2" y2="253.69" stroke="#333" stroke-width="0.4"/>
<line x1="36" y1="249.72" x2="37.2" y2="249.72" stroke="#333" stroke-width="0.4"/>
<line x1="36" y1="245.75" x2="37.2" y2="245.75" stroke="#333" stroke-width="0.4"/>
<line x1="36" y1="241.78" x2="37.2" y2="241.78" stroke="#333" stroke-width="0.4"/>
<line x1="36" y1="237.81" x2="37.2" y2="237.81" stroke="#333" stroke-width="0.4"/>
<line x1="36" y1="233.84" x2="37.2" y2="233.84" stroke="#333" stroke-width="0.4"/>
<line x1="36" y1="229.87" x2="37.2" y2="229.87" stroke="#333" stroke-width="0.4"/>
<line x1="36" y1="225.89" x2="37.2" y2="225.89" stroke="#333" stroke-width="0.4"/>
<line x1="36" y1="221.92" x2="37.2" y2="221.92" stroke="#333" stroke-width="0.4"/>
<line x1="36" y1="217.95" x2="37.2" y2="217.95" stroke="#333" stroke-width="0.4"/>
<line x1="36" y1="213.98" x2="37.2" y2="213.98" stroke="#333" stroke-width="0.4"/>
<line x1="36" y1="210.01" x2="37.2" y2="210.01" stroke="#333" stroke-width="0.4"/>
<line x1="36" y1="206.04" x2="37.2" y2="206.04" stroke="#333" stroke-width="0.4"/>
<line x1="36" y1="202.07" x2="37.2" y2="202.07" stroke="#333" stroke-width="0.4"/>
<line x1="36" y1="198.1" x2="37.2" y2="198.1" stroke="#333" stroke-width="0.4"/>
<line x1="36" y1="194.13" x2="37.2" y2="194.13" stroke="#333" stroke-width="0.4"/>
<line x1="36" y1="190.16" x2="37.2" y2="190.16" stroke="#333" stroke-width="0.4"/>
<line x1="36" y1="186.19" x2="37.2" y2="186.19" stroke="#333" stroke-width="0.4"/>
<text x="21.2" y="241.8" font-size="6" font-weight="normal" text-anchor="middle" fill="#000" transform="rotate(-90 21.2 241.8)">Count&#160; (%)</text>
<line x1="37.2" y1="293.4" x2="37.2" y2="295.8" stroke="#333" stroke-width="0.6"/>
<text x="40.4" y="303" font-size="6.1" font-weight="normal" text-anchor="middle" fill="#000">10<tspan dx="0.7" dy="-2" font-size="5.3">1.2</tspan></text>
<line x1="76.6" y1="293.4" x2="76.6" y2="295.8" stroke="#333" stroke-width="0.6"/>
<text x="76.6" y="303" font-size="6.1" font-weight="normal" text-anchor="middle" fill="#000">10<tspan dx="0.7" dy="-2" font-size="5.3">3</tspan></text>
<line x1="98.5" y1="293.4" x2="98.5" y2="295.8" stroke="#333" stroke-width="0.6"/>
<text x="98.5" y="303" font-size="6.1" font-weight="normal" text-anchor="middle" fill="#000">10<tspan dx="0.7" dy="-2" font-size="5.3">4</tspan></text>
<line x1="120.3" y1="293.4" x2="120.3" y2="295.8" stroke="#333" stroke-width="0.6"/>
<text x="120.3" y="303" font-size="6.1" font-weight="normal" text-anchor="middle" fill="#000">10<tspan dx="0.7" dy="-2" font-size="5.3">5</tspan></text>
<line x1="146.5" y1="293.4" x2="146.5" y2="295.8" stroke="#333" stroke-width="0.6"/>
<text x="146.5" y="303" font-size="6.1" font-weight="normal" text-anchor="middle" fill="#000">10<tspan dx="0.7" dy="-2" font-size="5.3">6.2</tspan></text>
<line x1="39.41" y1="293.4" x2="39.41" y2="294.6" stroke="#333" stroke-width="0.35"/>
<line x1="43.26" y1="293.4" x2="43.26" y2="294.6" stroke="#333" stroke-width="0.35"/>
<line x1="45.99" y1="293.4" x2="45.99" y2="294.6" stroke="#333" stroke-width="0.35"/>
<line x1="48.11" y1="293.4" x2="48.11" y2="294.6" stroke="#333" stroke-width="0.35"/>
<line x1="49.84" y1="293.4" x2="49.84" y2="294.6" stroke="#333" stroke-width="0.35"/>
<line x1="51.3" y1="293.4" x2="51.3" y2="294.6" stroke="#333" stroke-width="0.35"/>
<line x1="52.57" y1="293.4" x2="52.57" y2="294.6" stroke="#333" stroke-width="0.35"/>
<line x1="53.69" y1="293.4" x2="53.69" y2="294.6" stroke="#333" stroke-width="0.35"/>
<line x1="61.27" y1="293.4" x2="61.27" y2="294.6" stroke="#333" stroke-width="0.35"/>
<line x1="65.12" y1="293.4" x2="65.12" y2="294.6" stroke="#333" stroke-width="0.35"/>
<line x1="67.85" y1="293.4" x2="67.85" y2="294.6" stroke="#333" stroke-width="0.35"/>
<line x1="69.97" y1="293.4" x2="69.97" y2="294.6" stroke="#333" stroke-width="0.35"/>
<line x1="71.7" y1="293.4" x2="71.7" y2="294.6" stroke="#333" stroke-width="0.35"/>
<line x1="73.16" y1="293.4" x2="73.16" y2="294.6" stroke="#333" stroke-width="0.35"/>
<line x1="74.43" y1="293.4" x2="74.43" y2="294.6" stroke="#333" stroke-width="0.35"/>
<line x1="75.55" y1="293.4" x2="75.55" y2="294.6" stroke="#333" stroke-width="0.35"/>
<line x1="83.13" y1="293.4" x2="83.13" y2="294.6" stroke="#333" stroke-width="0.35"/>
<line x1="86.98" y1="293.4" x2="86.98" y2="294.6" stroke="#333" stroke-width="0.35"/>
<line x1="89.71" y1="293.4" x2="89.71" y2="294.6" stroke="#333" stroke-width="0.35"/>
<line x1="91.83" y1="293.4" x2="91.83" y2="294.6" stroke="#333" stroke-width="0.35"/>
<line x1="93.56" y1="293.4" x2="93.56" y2="294.6" stroke="#333" stroke-width="0.35"/>
<line x1="95.02" y1="293.4" x2="95.02" y2="294.6" stroke="#333" stroke-width="0.35"/>
<line x1="96.29" y1="293.4" x2="96.29" y2="294.6" stroke="#333" stroke-width="0.35"/>
<line x1="97.41" y1="293.4" x2="97.41" y2="294.6" stroke="#333" stroke-width="0.35"/>
<line x1="104.99" y1="293.4" x2="104.99" y2="294.6" stroke="#333" stroke-width="0.35"/>
<line x1="108.84" y1="293.4" x2="108.84" y2="294.6" stroke="#333" stroke-width="0.35"/>
<line x1="111.57" y1="293.4" x2="111.57" y2="294.6" stroke="#333" stroke-width="0.35"/>
<line x1="113.69" y1="293.4" x2="113.69" y2="294.6" stroke="#333" stroke-width="0.35"/>
<line x1="115.42" y1="293.4" x2="115.42" y2="294.6" stroke="#333" stroke-width="0.35"/>
<line x1="116.88" y1="293.4" x2="116.88" y2="294.6" stroke="#333" stroke-width="0.35"/>
<line x1="118.15" y1="293.4" x2="118.15" y2="294.6" stroke="#333" stroke-width="0.35"/>
<line x1="119.27" y1="293.4" x2="119.27" y2="294.6" stroke="#333" stroke-width="0.35"/>
<line x1="126.85" y1="293.4" x2="126.85" y2="294.6" stroke="#333" stroke-width="0.35"/>
<line x1="130.7" y1="293.4" x2="130.7" y2="294.6" stroke="#333" stroke-width="0.35"/>
<line x1="133.43" y1="293.4" x2="133.43" y2="294.6" stroke="#333" stroke-width="0.35"/>
<line x1="135.55" y1="293.4" x2="135.55" y2="294.6" stroke="#333" stroke-width="0.35"/>
<line x1="137.28" y1="293.4" x2="137.28" y2="294.6" stroke="#333" stroke-width="0.35"/>
<line x1="138.74" y1="293.4" x2="138.74" y2="294.6" stroke="#333" stroke-width="0.35"/>
<line x1="140.01" y1="293.4" x2="140.01" y2="294.6" stroke="#333" stroke-width="0.35"/>
<line x1="141.13" y1="293.4" x2="141.13" y2="294.6" stroke="#333" stroke-width="0.35"/>
<text x="91.85" y="312.9" font-size="5.9" font-weight="normal" text-anchor="middle" fill="#000">FITC-H</text>
<rect x="39.6" y="186.4" width="12.8" height="3.6" fill="#e4e4ff" fill-opacity="0.55" stroke="#3a3aff" stroke-width="0.6"/>
<text x="56.6" y="190.3" font-size="6" font-weight="normal" text-anchor="start" fill="#000">DMSO</text>
<rect x="39.6" y="195.1" width="12.8" height="3.6" fill="#ffdede" fill-opacity="0.55" stroke="#ff3a3a" stroke-width="0.6"/>
<text x="56.6" y="199" font-size="6" font-weight="normal" text-anchor="start" fill="#000">Erastin</text>
<rect x="39.6" y="203.8" width="12.8" height="3.6" fill="#d8f5d8" fill-opacity="0.55" stroke="#2cc04c" stroke-width="0.6"/>
<text x="56.6" y="207.7" font-size="6" font-weight="normal" text-anchor="start" fill="#000">UNC1999</text>
<rect x="39.6" y="212.5" width="12.8" height="3.6" fill="#e0d8f5" fill-opacity="0.55" stroke="#6a3fc0" stroke-width="0.6"/>
<text x="56.6" y="216.4" font-size="6" font-weight="normal" text-anchor="start" fill="#000">UNC1999+Erastin</text>
<rect x="39.6" y="221.2" width="12.8" height="3.6" fill="#f3ead0" fill-opacity="0.55" stroke="#c08820" stroke-width="0.6"/>
<text x="56.6" y="225.1" font-size="6" font-weight="normal" text-anchor="start" fill="#000">UNC1999+Erastin+Fer-1</text>
<rect x="218.2" y="242.68" width="15.9" height="33.32" fill="#1a1aff"/>
<rect x="241.65" y="232.68" width="15.9" height="43.32" fill="#ff2211"/>
<rect x="265.1" y="236.02" width="15.9" height="39.98" fill="#44e022"/>
<rect x="288.55" y="218.36" width="15.9" height="57.64" fill="#c722ff"/>
<rect x="312" y="231.02" width="15.9" height="44.98" fill="#f08322"/>
<line x1="226.15" y1="240.68" x2="226.15" y2="242.68" stroke="#c8c8c8" stroke-width="0.6"/>
<line x1="222.35" y1="240.68" x2="229.95" y2="240.68" stroke="#c8c8c8" stroke-width="0.6"/>
<line x1="249.6" y1="229.35" x2="249.6" y2="232.68" stroke="#c8c8c8" stroke-width="0.6"/>
<line x1="245.8" y1="229.35" x2="253.4" y2="229.35" stroke="#c8c8c8" stroke-width="0.6"/>
<line x1="273.05" y1="232.68" x2="273.05" y2="236.02" stroke="#c8c8c8" stroke-width="0.6"/>
<line x1="269.25" y1="232.68" x2="276.85" y2="232.68" stroke="#c8c8c8" stroke-width="0.6"/>
<line x1="296.5" y1="211.69" x2="296.5" y2="218.36" stroke="#c8c8c8" stroke-width="0.6"/>
<line x1="292.7" y1="211.69" x2="300.3" y2="211.69" stroke="#c8c8c8" stroke-width="0.6"/>
<line x1="319.95" y1="227.02" x2="319.95" y2="231.02" stroke="#c8c8c8" stroke-width="0.6"/>
<line x1="316.15" y1="227.02" x2="323.75" y2="227.02" stroke="#c8c8c8" stroke-width="0.6"/>
<circle cx="226.15" cy="241.35" r="0.95" fill="#000"/>
<circle cx="226.15" cy="243.35" r="0.95" fill="#000"/>
<circle cx="226.15" cy="244.68" r="0.95" fill="#000"/>
<circle cx="249.6" cy="229.69" r="0.95" fill="#000"/>
<circle cx="249.6" cy="232.68" r="0.95" fill="#000"/>
<circle cx="249.6" cy="235.35" r="0.95" fill="#000"/>
<circle cx="273.05" cy="233.35" r="0.95" fill="#000"/>
<circle cx="273.05" cy="236.02" r="0.95" fill="#000"/>
<circle cx="273.05" cy="240.01" r="0.95" fill="#000"/>
<circle cx="296.5" cy="211.03" r="0.95" fill="#000"/>
<circle cx="296.5" cy="220.02" r="0.95" fill="#000"/>
<circle cx="296.5" cy="222.69" r="0.95" fill="#000"/>
<circle cx="319.95" cy="227.02" r="0.95" fill="#000"/>
<circle cx="319.95" cy="231.35" r="0.95" fill="#000"/>
<circle cx="319.95" cy="235.35" r="0.95" fill="#000"/>
<line x1="209.25" y1="276" x2="336.6" y2="276" stroke="#222" stroke-width="0.9"/>
<line x1="209.7" y1="192.3" x2="209.7" y2="276.4" stroke="#222" stroke-width="0.9"/>
<line x1="206.7" y1="276" x2="209.7" y2="276" stroke="#222" stroke-width="0.9"/>
<text x="206.8" y="278.65" font-size="6.4" font-weight="bold" text-anchor="end" fill="#111">0.0</text>
<line x1="206.7" y1="259.34" x2="209.7" y2="259.34" stroke="#222" stroke-width="0.9"/>
<text x="206.8" y="261.99" font-size="6.4" font-weight="bold" text-anchor="end" fill="#111">0.5</text>
<line x1="206.7" y1="242.68" x2="209.7" y2="242.68" stroke="#222" stroke-width="0.9"/>
<text x="206.8" y="245.33" font-size="6.4" font-weight="bold" text-anchor="end" fill="#111">1.0</text>
<line x1="206.7" y1="226.02" x2="209.7" y2="226.02" stroke="#222" stroke-width="0.9"/>
<text x="206.8" y="228.67" font-size="6.4" font-weight="bold" text-anchor="end" fill="#111">1.5</text>
<line x1="206.7" y1="209.36" x2="209.7" y2="209.36" stroke="#222" stroke-width="0.9"/>
<text x="206.8" y="212.01" font-size="6.4" font-weight="bold" text-anchor="end" fill="#111">2.0</text>
<line x1="206.7" y1="192.7" x2="209.7" y2="192.7" stroke="#222" stroke-width="0.9"/>
<text x="206.8" y="195.35" font-size="6.4" font-weight="bold" text-anchor="end" fill="#111">2.5</text>
<line x1="226.15" y1="276" x2="226.15" y2="278.6" stroke="#222" stroke-width="0.9"/>
<text x="227.75" y="283.5" font-size="6.4" font-weight="bold" text-anchor="end" fill="#111" transform="rotate(-45 227.75 283.5)">DMSO</text>
<line x1="249.6" y1="276" x2="249.6" y2="278.6" stroke="#222" stroke-width="0.9"/>
<text x="251.2" y="283.5" font-size="6.4" font-weight="bold" text-anchor="end" fill="#111" transform="rotate(-45 251.2 283.5)">Erastin</text>
<line x1="273.05" y1="276" x2="273.05" y2="278.6" stroke="#222" stroke-width="0.9"/>
<text x="274.65" y="283.5" font-size="6.4" font-weight="bold" text-anchor="end" fill="#111" transform="rotate(-45 274.65 283.5)">UNC1999</text>
<line x1="296.5" y1="276" x2="296.5" y2="278.6" stroke="#222" stroke-width="0.9"/>
<text x="298.1" y="283.5" font-size="6.4" font-weight="bold" text-anchor="end" fill="#111" transform="rotate(-45 298.1 283.5)">UNC1999+Erastin</text>
<line x1="319.95" y1="276" x2="319.95" y2="278.6" stroke="#222" stroke-width="0.9"/>
<text x="321.55" y="283.5" font-size="6.4" font-weight="bold" text-anchor="end" fill="#111" transform="rotate(-45 321.55 283.5)">UNC1999+Erastin+Fer-1</text>
<path d="M225.35 211.3V207H295.9V211.3" stroke="#2a2a2a" stroke-width="0.72" fill="none"/>
<text x="260.62" y="207.7" font-size="4.5" font-weight="bold" text-anchor="middle" fill="#111">***</text>
<path d="M297.7 211.3V207H319.95V211.3" stroke="#2a2a2a" stroke-width="0.72" fill="none"/>
<text x="308.82" y="207.7" font-size="4.5" font-weight="bold" text-anchor="middle" fill="#111">*</text>
<path d="M225.35 224.6V220.3H273.05V224.6" stroke="#2a2a2a" stroke-width="0.72" fill="none"/>
<text x="249.2" y="221" font-size="4.5" font-weight="bold" text-anchor="middle" fill="#111">*</text>
<path d="M225.35 230.1V225.8H249.6V230.1" stroke="#2a2a2a" stroke-width="0.72" fill="none"/>
<text x="237.47" y="226.5" font-size="4.5" font-weight="bold" text-anchor="middle" fill="#111">**</text>
<text x="272.6" y="181.3" font-size="8" font-weight="bold" text-anchor="middle" fill="#111">786-O</text>
<text x="194" y="234.35" font-size="6.8" font-weight="bold" text-anchor="middle" fill="#111" transform="rotate(-90 194 234.35)">Relative lipid ROS</text>
<clipPath id="fc404"><rect x="404" y="184.4" width="109.4" height="109.4"/></clipPath>
<g clip-path="url(#fc404)">
<path d="M404 221.33C424.93 221.33 445.87 221.33 466.8 221.33C467.27 221.33 467.74 220.86 468.21 220.2C468.68 219.54 469.15 215.99 469.62 212.44C470.09 208.89 470.56 198.92 471.03 195.51C471.5 192.1 471.97 188.18 472.44 188.18C472.91 188.18 473.38 192.19 473.85 195.51C474.32 198.83 474.79 207.32 475.26 211.03C475.64 214 476.01 217.13 476.39 218.08C476.95 219.5 477.52 220.5 478.08 220.62C479.49 220.92 480.9 221.04 482.31 221.04C485.6 221.04 488.9 221.01 492.19 220.9C492.89 220.88 493.6 220.48 494.3 220.48C495.01 220.48 495.71 221.16 496.42 221.18C502.08 221.31 507.74 221.28 513.4 221.33L513.4 221.33L404 221.33Z" fill="#e4e4ff" fill-opacity="0.6" stroke="none"/>
<path d="M404 221.33C424.93 221.33 445.87 221.33 466.8 221.33C467.27 221.33 467.74 220.86 468.21 220.2C468.68 219.54 469.15 215.99 469.62 212.44C470.09 208.89 470.56 198.92 471.03 195.51C471.5 192.1 471.97 188.18 472.44 188.18C472.91 188.18 473.38 192.19 473.85 195.51C474.32 198.83 474.79 207.32 475.26 211.03C475.64 214 476.01 217.13 476.39 218.08C476.95 219.5 477.52 220.5 478.08 220.62C479.49 220.92 480.9 221.04 482.31 221.04C485.6 221.04 488.9 221.01 492.19 220.9C492.89 220.88 493.6 220.48 494.3 220.48C495.01 220.48 495.71 221.16 496.42 221.18C502.08 221.31 507.74 221.28 513.4 221.33" fill="none" stroke="#3a3aff" stroke-width="0.8"/>
<path d="M404 239.52C423.99 239.43 443.99 239.51 463.98 239.24C464.68 239.23 465.39 238.26 466.09 237.12C466.56 236.36 467.03 234.38 467.5 232.19C467.97 230 468.44 225.6 468.91 222.31C469.38 219.02 469.85 214.48 470.32 212.44C470.93 209.78 471.55 207.31 472.16 206.8C472.63 206.41 473.1 206.09 473.57 206.09C474.13 206.09 474.7 208.8 475.26 210.32C475.82 211.84 476.39 214.12 476.95 215.26C477.56 216.5 478.18 216.95 478.79 218.08C479.49 219.38 480.2 221.27 480.9 223.02C481.61 224.78 482.31 227.04 483.02 228.66C483.72 230.27 484.43 231.67 485.13 232.89C486.07 234.51 487.01 236.27 487.95 237.12C488.89 237.98 489.84 238.71 490.78 238.96C491.95 239.27 493.13 239.52 494.3 239.52C500.67 239.52 507.03 239.52 513.4 239.52L513.4 239.52L404 239.52Z" fill="#ffdede" fill-opacity="0.6" stroke="none"/>
<path d="M404 239.52C423.99 239.43 443.99 239.51 463.98 239.24C464.68 239.23 465.39 238.26 466.09 237.12C466.56 236.36 467.03 234.38 467.5 232.19C467.97 230 468.44 225.6 468.91 222.31C469.38 219.02 469.85 214.48 470.32 212.44C470.93 209.78 471.55 207.31 472.16 206.8C472.63 206.41 473.1 206.09 473.57 206.09C474.13 206.09 474.7 208.8 475.26 210.32C475.82 211.84 476.39 214.12 476.95 215.26C477.56 216.5 478.18 216.95 478.79 218.08C479.49 219.38 480.2 221.27 480.9 223.02C481.61 224.78 482.31 227.04 483.02 228.66C483.72 230.27 484.43 231.67 485.13 232.89C486.07 234.51 487.01 236.27 487.95 237.12C488.89 237.98 489.84 238.71 490.78 238.96C491.95 239.27 493.13 239.52 494.3 239.52C500.67 239.52 507.03 239.52 513.4 239.52" fill="none" stroke="#ff3a3a" stroke-width="0.8"/>
<path d="M404 257.29C423.76 257.29 443.51 257.29 463.27 257.29C463.98 257.29 464.68 256 465.39 254.75C466.09 253.51 466.8 250.78 467.5 247.7C467.97 245.64 468.44 242.28 468.91 239.24C469.38 236.2 469.85 231.44 470.32 229.37C470.79 227.3 471.26 225.38 471.73 224.85C472.3 224.21 472.86 223.72 473.43 223.72C473.9 223.72 474.37 225.9 474.84 227.95C475.22 229.59 475.59 233.69 475.97 236.42C476.44 239.83 476.91 244.11 477.38 246.29C478.08 249.55 478.79 252.23 479.49 253.34C480.43 254.83 481.37 255.62 482.31 256.16C483.25 256.7 484.19 257.29 485.13 257.29C486.31 257.29 487.48 256.45 488.66 256.45C489.84 256.45 491.01 257.01 492.19 257.01C494.3 257.01 496.42 256.45 498.53 256.45C499.71 256.45 500.88 257.29 502.06 257.29C505.84 257.29 509.62 257.29 513.4 257.29L513.4 257.29L404 257.29Z" fill="#d8f5d8" fill-opacity="0.6" stroke="none"/>
<path d="M404 257.29C423.76 257.29 443.51 257.29 463.27 257.29C463.98 257.29 464.68 256 465.39 254.75C466.09 253.51 466.8 250.78 467.5 247.7C467.97 245.64 468.44 242.28 468.91 239.24C469.38 236.2 469.85 231.44 470.32 229.37C470.79 227.3 471.26 225.38 471.73 224.85C472.3 224.21 472.86 223.72 473.43 223.72C473.9 223.72 474.37 225.9 474.84 227.95C475.22 229.59 475.59 233.69 475.97 236.42C476.44 239.83 476.91 244.11 477.38 246.29C478.08 249.55 478.79 252.23 479.49 253.34C480.43 254.83 481.37 255.62 482.31 256.16C483.25 256.7 484.19 257.29 485.13 257.29C486.31 257.29 487.48 256.45 488.66 256.45C489.84 256.45 491.01 257.01 492.19 257.01C494.3 257.01 496.42 256.45 498.53 256.45C499.71 256.45 500.88 257.29 502.06 257.29C505.84 257.29 509.62 257.29 513.4 257.29" fill="none" stroke="#2cc04c" stroke-width="0.8"/>
<path d="M404 275.49C424.7 275.49 445.39 275.49 466.09 275.49C466.8 275.49 467.5 274.86 468.21 274.22C468.91 273.58 469.62 272.06 470.32 270.27C471.03 268.47 471.73 265.2 472.44 261.81C473.15 258.42 473.85 252.2 474.56 249.11C475.17 246.45 475.78 242.76 476.39 242.76C476.95 242.76 477.52 244.69 478.08 246.29C478.79 248.3 479.49 252.86 480.2 256.16C480.9 259.44 481.61 264.07 482.31 266.04C483.02 268.02 483.72 269.31 484.43 270.27C485.37 271.54 486.31 272.47 487.25 273.09C488.43 273.86 489.6 274.53 490.78 274.78C492.66 275.17 494.54 275.49 496.42 275.49C502.08 275.49 507.74 275.49 513.4 275.49L513.4 275.49L404 275.49Z" fill="#e0d8f5" fill-opacity="0.6" stroke="none"/>
<path d="M404 275.49C424.7 275.49 445.39 275.49 466.09 275.49C466.8 275.49 467.5 274.86 468.21 274.22C468.91 273.58 469.62 272.06 470.32 270.27C471.03 268.47 471.73 265.2 472.44 261.81C473.15 258.42 473.85 252.2 474.56 249.11C475.17 246.45 475.78 242.76 476.39 242.76C476.95 242.76 477.52 244.69 478.08 246.29C478.79 248.3 479.49 252.86 480.2 256.16C480.9 259.44 481.61 264.07 482.31 266.04C483.02 268.02 483.72 269.31 484.43 270.27C485.37 271.54 486.31 272.47 487.25 273.09C488.43 273.86 489.6 274.53 490.78 274.78C492.66 275.17 494.54 275.49 496.42 275.49C502.08 275.49 507.74 275.49 513.4 275.49" fill="none" stroke="#6a3fc0" stroke-width="0.8"/>
<path d="M462.57 293.8C463.27 293.01 463.98 292.53 464.68 291.42C465.39 290.3 466.09 288.18 466.8 285.78C467.5 283.39 468.21 279.19 468.91 275.91C469.62 272.61 470.32 268.23 471.03 266.04C471.74 263.85 472.44 261.66 473.15 261.1C473.62 260.73 474.09 260.39 474.56 260.39C475.17 260.39 475.78 262.96 476.39 264.63C476.95 266.17 477.52 268.39 478.08 270.27C478.79 272.62 479.49 275.23 480.2 277.32C480.9 279.4 481.61 281.34 482.31 282.96C483.25 285.13 484.19 287.35 485.13 288.6C486.07 289.85 487.01 290.66 487.95 291.42C489.13 292.37 490.3 293.01 491.48 293.8L491.48 293.8L462.57 293.8Z" fill="#f3ead0" fill-opacity="0.6" stroke="none"/>
<path d="M462.57 293.8C463.27 293.01 463.98 292.53 464.68 291.42C465.39 290.3 466.09 288.18 466.8 285.78C467.5 283.39 468.21 279.19 468.91 275.91C469.62 272.61 470.32 268.23 471.03 266.04C471.74 263.85 472.44 261.66 473.15 261.1C473.62 260.73 474.09 260.39 474.56 260.39C475.17 260.39 475.78 262.96 476.39 264.63C476.95 266.17 477.52 268.39 478.08 270.27C478.79 272.62 479.49 275.23 480.2 277.32C480.9 279.4 481.61 281.34 482.31 282.96C483.25 285.13 484.19 287.35 485.13 288.6C486.07 289.85 487.01 290.66 487.95 291.42C489.13 292.37 490.3 293.01 491.48 293.8" fill="none" stroke="#c08820" stroke-width="0.8"/>
</g>
<rect x="404.3" y="184.7" width="88" height="44" fill="#fff" fill-opacity="0.8"/>
<rect x="404" y="184.4" width="109.4" height="109.4" fill="none" stroke="#333" stroke-width="0.7"/>
<line x1="401.4" y1="293.8" x2="404" y2="293.8" stroke="#333" stroke-width="0.6"/>
<text x="398.8" y="293.8" font-size="6" font-weight="normal" text-anchor="middle" fill="#000" transform="rotate(-90 398.8 293.8)">0</text>
<line x1="401.4" y1="273.91" x2="404" y2="273.91" stroke="#333" stroke-width="0.6"/>
<text x="398.8" y="273.91" font-size="6" font-weight="normal" text-anchor="middle" fill="#000" transform="rotate(-90 398.8 273.91)">20</text>
<line x1="401.4" y1="254.02" x2="404" y2="254.02" stroke="#333" stroke-width="0.6"/>
<text x="398.8" y="254.02" font-size="6" font-weight="normal" text-anchor="middle" fill="#000" transform="rotate(-90 398.8 254.02)">40</text>
<line x1="401.4" y1="234.13" x2="404" y2="234.13" stroke="#333" stroke-width="0.6"/>
<text x="398.8" y="234.13" font-size="6" font-weight="normal" text-anchor="middle" fill="#000" transform="rotate(-90 398.8 234.13)">60</text>
<line x1="401.4" y1="214.24" x2="404" y2="214.24" stroke="#333" stroke-width="0.6"/>
<text x="398.8" y="214.24" font-size="6" font-weight="normal" text-anchor="middle" fill="#000" transform="rotate(-90 398.8 214.24)">80</text>
<line x1="401.4" y1="194.35" x2="404" y2="194.35" stroke="#333" stroke-width="0.6"/>
<text x="398.8" y="194.35" font-size="6" font-weight="normal" text-anchor="middle" fill="#000" transform="rotate(-90 398.8 194.35)">100</text>
<line x1="402.8" y1="293.8" x2="404" y2="293.8" stroke="#333" stroke-width="0.4"/>
<line x1="402.8" y1="289.82" x2="404" y2="289.82" stroke="#333" stroke-width="0.4"/>
<line x1="402.8" y1="285.84" x2="404" y2="285.84" stroke="#333" stroke-width="0.4"/>
<line x1="402.8" y1="281.87" x2="404" y2="281.87" stroke="#333" stroke-width="0.4"/>
<line x1="402.8" y1="277.89" x2="404" y2="277.89" stroke="#333" stroke-width="0.4"/>
<line x1="402.8" y1="273.91" x2="404" y2="273.91" stroke="#333" stroke-width="0.4"/>
<line x1="402.8" y1="269.93" x2="404" y2="269.93" stroke="#333" stroke-width="0.4"/>
<line x1="402.8" y1="265.95" x2="404" y2="265.95" stroke="#333" stroke-width="0.4"/>
<line x1="402.8" y1="261.97" x2="404" y2="261.97" stroke="#333" stroke-width="0.4"/>
<line x1="402.8" y1="258" x2="404" y2="258" stroke="#333" stroke-width="0.4"/>
<line x1="402.8" y1="254.02" x2="404" y2="254.02" stroke="#333" stroke-width="0.4"/>
<line x1="402.8" y1="250.04" x2="404" y2="250.04" stroke="#333" stroke-width="0.4"/>
<line x1="402.8" y1="246.06" x2="404" y2="246.06" stroke="#333" stroke-width="0.4"/>
<line x1="402.8" y1="242.08" x2="404" y2="242.08" stroke="#333" stroke-width="0.4"/>
<line x1="402.8" y1="238.11" x2="404" y2="238.11" stroke="#333" stroke-width="0.4"/>
<line x1="402.8" y1="234.13" x2="404" y2="234.13" stroke="#333" stroke-width="0.4"/>
<line x1="402.8" y1="230.15" x2="404" y2="230.15" stroke="#333" stroke-width="0.4"/>
<line x1="402.8" y1="226.17" x2="404" y2="226.17" stroke="#333" stroke-width="0.4"/>
<line x1="402.8" y1="222.19" x2="404" y2="222.19" stroke="#333" stroke-width="0.4"/>
<line x1="402.8" y1="218.21" x2="404" y2="218.21" stroke="#333" stroke-width="0.4"/>
<line x1="402.8" y1="214.24" x2="404" y2="214.24" stroke="#333" stroke-width="0.4"/>
<line x1="402.8" y1="210.26" x2="404" y2="210.26" stroke="#333" stroke-width="0.4"/>
<line x1="402.8" y1="206.28" x2="404" y2="206.28" stroke="#333" stroke-width="0.4"/>
<line x1="402.8" y1="202.3" x2="404" y2="202.3" stroke="#333" stroke-width="0.4"/>
<line x1="402.8" y1="198.32" x2="404" y2="198.32" stroke="#333" stroke-width="0.4"/>
<line x1="402.8" y1="194.35" x2="404" y2="194.35" stroke="#333" stroke-width="0.4"/>
<line x1="402.8" y1="190.37" x2="404" y2="190.37" stroke="#333" stroke-width="0.4"/>
<line x1="402.8" y1="186.39" x2="404" y2="186.39" stroke="#333" stroke-width="0.4"/>
<text x="388" y="242.1" font-size="6" font-weight="normal" text-anchor="middle" fill="#000" transform="rotate(-90 388 242.1)">Count&#160; (%)</text>
<line x1="404" y1="293.8" x2="404" y2="296.2" stroke="#333" stroke-width="0.6"/>
<text x="407.2" y="303.4" font-size="6.1" font-weight="normal" text-anchor="middle" fill="#000">10<tspan dx="0.7" dy="-2" font-size="5.3">2.5</tspan></text>
<line x1="445.2" y1="293.8" x2="445.2" y2="296.2" stroke="#333" stroke-width="0.6"/>
<text x="445.2" y="303.4" font-size="6.1" font-weight="normal" text-anchor="middle" fill="#000">10<tspan dx="0.7" dy="-2" font-size="5.3">4</tspan></text>
<line x1="472.4" y1="293.8" x2="472.4" y2="296.2" stroke="#333" stroke-width="0.6"/>
<text x="472.4" y="303.4" font-size="6.1" font-weight="normal" text-anchor="middle" fill="#000">10<tspan dx="0.7" dy="-2" font-size="5.3">5</tspan></text>
<line x1="513.4" y1="293.8" x2="513.4" y2="296.2" stroke="#333" stroke-width="0.6"/>
<text x="513.4" y="303.4" font-size="6.1" font-weight="normal" text-anchor="middle" fill="#000">10<tspan dx="0.7" dy="-2" font-size="5.3">6.5</tspan></text>
<line x1="406.79" y1="293.8" x2="406.79" y2="295" stroke="#333" stroke-width="0.35"/>
<line x1="409.44" y1="293.8" x2="409.44" y2="295" stroke="#333" stroke-width="0.35"/>
<line x1="411.61" y1="293.8" x2="411.61" y2="295" stroke="#333" stroke-width="0.35"/>
<line x1="413.44" y1="293.8" x2="413.44" y2="295" stroke="#333" stroke-width="0.35"/>
<line x1="415.02" y1="293.8" x2="415.02" y2="295" stroke="#333" stroke-width="0.35"/>
<line x1="416.42" y1="293.8" x2="416.42" y2="295" stroke="#333" stroke-width="0.35"/>
<line x1="425.91" y1="293.8" x2="425.91" y2="295" stroke="#333" stroke-width="0.35"/>
<line x1="430.72" y1="293.8" x2="430.72" y2="295" stroke="#333" stroke-width="0.35"/>
<line x1="434.14" y1="293.8" x2="434.14" y2="295" stroke="#333" stroke-width="0.35"/>
<line x1="436.79" y1="293.8" x2="436.79" y2="295" stroke="#333" stroke-width="0.35"/>
<line x1="438.96" y1="293.8" x2="438.96" y2="295" stroke="#333" stroke-width="0.35"/>
<line x1="440.79" y1="293.8" x2="440.79" y2="295" stroke="#333" stroke-width="0.35"/>
<line x1="442.37" y1="293.8" x2="442.37" y2="295" stroke="#333" stroke-width="0.35"/>
<line x1="443.77" y1="293.8" x2="443.77" y2="295" stroke="#333" stroke-width="0.35"/>
<line x1="453.26" y1="293.8" x2="453.26" y2="295" stroke="#333" stroke-width="0.35"/>
<line x1="458.07" y1="293.8" x2="458.07" y2="295" stroke="#333" stroke-width="0.35"/>
<line x1="461.49" y1="293.8" x2="461.49" y2="295" stroke="#333" stroke-width="0.35"/>
<line x1="464.14" y1="293.8" x2="464.14" y2="295" stroke="#333" stroke-width="0.35"/>
<line x1="466.31" y1="293.8" x2="466.31" y2="295" stroke="#333" stroke-width="0.35"/>
<line x1="468.14" y1="293.8" x2="468.14" y2="295" stroke="#333" stroke-width="0.35"/>
<line x1="469.72" y1="293.8" x2="469.72" y2="295" stroke="#333" stroke-width="0.35"/>
<line x1="471.12" y1="293.8" x2="471.12" y2="295" stroke="#333" stroke-width="0.35"/>
<line x1="480.61" y1="293.8" x2="480.61" y2="295" stroke="#333" stroke-width="0.35"/>
<line x1="485.42" y1="293.8" x2="485.42" y2="295" stroke="#333" stroke-width="0.35"/>
<line x1="488.84" y1="293.8" x2="488.84" y2="295" stroke="#333" stroke-width="0.35"/>
<line x1="491.49" y1="293.8" x2="491.49" y2="295" stroke="#333" stroke-width="0.35"/>
<line x1="493.66" y1="293.8" x2="493.66" y2="295" stroke="#333" stroke-width="0.35"/>
<line x1="495.49" y1="293.8" x2="495.49" y2="295" stroke="#333" stroke-width="0.35"/>
<line x1="497.07" y1="293.8" x2="497.07" y2="295" stroke="#333" stroke-width="0.35"/>
<line x1="498.47" y1="293.8" x2="498.47" y2="295" stroke="#333" stroke-width="0.35"/>
<line x1="507.96" y1="293.8" x2="507.96" y2="295" stroke="#333" stroke-width="0.35"/>
<line x1="512.77" y1="293.8" x2="512.77" y2="295" stroke="#333" stroke-width="0.35"/>
<text x="458.7" y="313.3" font-size="5.9" font-weight="normal" text-anchor="middle" fill="#000">FITC-H</text>
<rect x="406.4" y="186.6" width="12.8" height="3.6" fill="#e4e4ff" fill-opacity="0.55" stroke="#3a3aff" stroke-width="0.6"/>
<text x="423.4" y="190.5" font-size="6" font-weight="normal" text-anchor="start" fill="#000">DMSO</text>
<rect x="406.4" y="195.3" width="12.8" height="3.6" fill="#ffdede" fill-opacity="0.55" stroke="#ff3a3a" stroke-width="0.6"/>
<text x="423.4" y="199.2" font-size="6" font-weight="normal" text-anchor="start" fill="#000">Erastin</text>
<rect x="406.4" y="204" width="12.8" height="3.6" fill="#d8f5d8" fill-opacity="0.55" stroke="#2cc04c" stroke-width="0.6"/>
<text x="423.4" y="207.9" font-size="6" font-weight="normal" text-anchor="start" fill="#000">UNC1999</text>
<rect x="406.4" y="212.7" width="12.8" height="3.6" fill="#e0d8f5" fill-opacity="0.55" stroke="#6a3fc0" stroke-width="0.6"/>
<text x="423.4" y="216.6" font-size="6" font-weight="normal" text-anchor="start" fill="#000">UNC1999+Erastin</text>
<rect x="406.4" y="221.4" width="12.8" height="3.6" fill="#f3ead0" fill-opacity="0.55" stroke="#c08820" stroke-width="0.6"/>
<text x="423.4" y="225.3" font-size="6" font-weight="normal" text-anchor="start" fill="#000">UNC1999+Erastin+Fer-1</text>
<rect x="564.5" y="242.42" width="15.9" height="33.28" fill="#1a1aff"/>
<rect x="587.95" y="229.11" width="15.9" height="46.59" fill="#ff2211"/>
<rect x="611.4" y="233.1" width="15.9" height="42.6" fill="#44e022"/>
<rect x="634.85" y="219.12" width="15.9" height="56.58" fill="#c722ff"/>
<rect x="658.3" y="228.44" width="15.9" height="47.26" fill="#f08322"/>
<line x1="572.45" y1="239.76" x2="572.45" y2="242.42" stroke="#c8c8c8" stroke-width="0.6"/>
<line x1="568.65" y1="239.76" x2="576.25" y2="239.76" stroke="#c8c8c8" stroke-width="0.6"/>
<line x1="595.9" y1="225.78" x2="595.9" y2="229.11" stroke="#c8c8c8" stroke-width="0.6"/>
<line x1="592.1" y1="225.78" x2="599.7" y2="225.78" stroke="#c8c8c8" stroke-width="0.6"/>
<line x1="619.35" y1="229.11" x2="619.35" y2="233.1" stroke="#c8c8c8" stroke-width="0.6"/>
<line x1="615.55" y1="229.11" x2="623.15" y2="229.11" stroke="#c8c8c8" stroke-width="0.6"/>
<line x1="642.8" y1="214.46" x2="642.8" y2="219.12" stroke="#c8c8c8" stroke-width="0.6"/>
<line x1="639" y1="214.46" x2="646.6" y2="214.46" stroke="#c8c8c8" stroke-width="0.6"/>
<line x1="666.25" y1="227.11" x2="666.25" y2="228.44" stroke="#c8c8c8" stroke-width="0.6"/>
<line x1="662.45" y1="227.11" x2="670.05" y2="227.11" stroke="#c8c8c8" stroke-width="0.6"/>
<circle cx="572.45" cy="239.76" r="0.95" fill="#000"/>
<circle cx="572.45" cy="243.42" r="0.95" fill="#000"/>
<circle cx="572.45" cy="244.42" r="0.95" fill="#000"/>
<circle cx="595.9" cy="226.45" r="0.95" fill="#000"/>
<circle cx="595.9" cy="229.11" r="0.95" fill="#000"/>
<circle cx="595.9" cy="231.77" r="0.95" fill="#000"/>
<circle cx="619.35" cy="229.11" r="0.95" fill="#000"/>
<circle cx="619.35" cy="233.43" r="0.95" fill="#000"/>
<circle cx="619.35" cy="236.76" r="0.95" fill="#000"/>
<circle cx="642.8" cy="214.8" r="0.95" fill="#000"/>
<circle cx="642.8" cy="219.12" r="0.95" fill="#000"/>
<circle cx="642.8" cy="223.45" r="0.95" fill="#000"/>
<circle cx="666.25" cy="227.11" r="0.95" fill="#000"/>
<circle cx="666.25" cy="228.44" r="0.95" fill="#000"/>
<circle cx="666.25" cy="229.11" r="0.95" fill="#000"/>
<line x1="555.75" y1="275.7" x2="685" y2="275.7" stroke="#222" stroke-width="0.9"/>
<line x1="556.2" y1="192.1" x2="556.2" y2="276.1" stroke="#222" stroke-width="0.9"/>
<line x1="553.2" y1="275.7" x2="556.2" y2="275.7" stroke="#222" stroke-width="0.9"/>
<text x="553.3" y="278.35" font-size="6.4" font-weight="bold" text-anchor="end" fill="#111">0.0</text>
<line x1="553.2" y1="259.06" x2="556.2" y2="259.06" stroke="#222" stroke-width="0.9"/>
<text x="553.3" y="261.71" font-size="6.4" font-weight="bold" text-anchor="end" fill="#111">0.5</text>
<line x1="553.2" y1="242.42" x2="556.2" y2="242.42" stroke="#222" stroke-width="0.9"/>
<text x="553.3" y="245.07" font-size="6.4" font-weight="bold" text-anchor="end" fill="#111">1.0</text>
<line x1="553.2" y1="225.78" x2="556.2" y2="225.78" stroke="#222" stroke-width="0.9"/>
<text x="553.3" y="228.43" font-size="6.4" font-weight="bold" text-anchor="end" fill="#111">1.5</text>
<line x1="553.2" y1="209.14" x2="556.2" y2="209.14" stroke="#222" stroke-width="0.9"/>
<text x="553.3" y="211.79" font-size="6.4" font-weight="bold" text-anchor="end" fill="#111">2.0</text>
<line x1="553.2" y1="192.5" x2="556.2" y2="192.5" stroke="#222" stroke-width="0.9"/>
<text x="553.3" y="195.15" font-size="6.4" font-weight="bold" text-anchor="end" fill="#111">2.5</text>
<line x1="572.45" y1="275.7" x2="572.45" y2="278.3" stroke="#222" stroke-width="0.9"/>
<text x="574.05" y="283.2" font-size="6.4" font-weight="bold" text-anchor="end" fill="#111" transform="rotate(-45 574.05 283.2)">DMSO</text>
<line x1="595.9" y1="275.7" x2="595.9" y2="278.3" stroke="#222" stroke-width="0.9"/>
<text x="597.5" y="283.2" font-size="6.4" font-weight="bold" text-anchor="end" fill="#111" transform="rotate(-45 597.5 283.2)">Erastin</text>
<line x1="619.35" y1="275.7" x2="619.35" y2="278.3" stroke="#222" stroke-width="0.9"/>
<text x="620.95" y="283.2" font-size="6.4" font-weight="bold" text-anchor="end" fill="#111" transform="rotate(-45 620.95 283.2)">UNC1999</text>
<line x1="642.8" y1="275.7" x2="642.8" y2="278.3" stroke="#222" stroke-width="0.9"/>
<text x="644.4" y="283.2" font-size="6.4" font-weight="bold" text-anchor="end" fill="#111" transform="rotate(-45 644.4 283.2)">UNC1999+Erastin</text>
<line x1="666.25" y1="275.7" x2="666.25" y2="278.3" stroke="#222" stroke-width="0.9"/>
<text x="667.85" y="283.2" font-size="6.4" font-weight="bold" text-anchor="end" fill="#111" transform="rotate(-45 667.85 283.2)">UNC1999+Erastin+Fer-1</text>
<path d="M571.65 212.8V208.5H642.2V212.8" stroke="#2a2a2a" stroke-width="0.72" fill="none"/>
<text x="606.93" y="209.2" font-size="4.5" font-weight="bold" text-anchor="middle" fill="#111">**</text>
<path d="M644 212.8V208.5H666.25V212.8" stroke="#2a2a2a" stroke-width="0.72" fill="none"/>
<text x="655.12" y="209.2" font-size="4.5" font-weight="bold" text-anchor="middle" fill="#111">*</text>
<path d="M571.65 220.6V216.3H619.35V220.6" stroke="#2a2a2a" stroke-width="0.72" fill="none"/>
<text x="595.5" y="217" font-size="4.5" font-weight="bold" text-anchor="middle" fill="#111">*</text>
<path d="M571.65 225.3V221H595.9V225.3" stroke="#2a2a2a" stroke-width="0.72" fill="none"/>
<text x="583.78" y="221.7" font-size="4.5" font-weight="bold" text-anchor="middle" fill="#111">**</text>
<text x="619" y="181.3" font-size="8" font-weight="bold" text-anchor="middle" fill="#111">ACHN</text>
<text x="540.2" y="234.1" font-size="6.8" font-weight="bold" text-anchor="middle" fill="#111" transform="rotate(-90 540.2 234.1)">Relative lipid ROS</text>
<rect x="49" y="429.1" width="15.9" height="20.9" fill="#1a1aff"/>
<rect x="72.45" y="419.69" width="15.9" height="30.31" fill="#ff2211"/>
<rect x="95.9" y="415.93" width="15.9" height="34.07" fill="#44e022"/>
<rect x="119.35" y="397.75" width="15.9" height="52.25" fill="#c722ff"/>
<rect x="142.8" y="411.33" width="15.9" height="38.67" fill="#f08322"/>
<line x1="56.95" y1="424.08" x2="56.95" y2="429.1" stroke="#c8c8c8" stroke-width="0.6"/>
<line x1="53.15" y1="424.08" x2="60.75" y2="424.08" stroke="#c8c8c8" stroke-width="0.6"/>
<line x1="80.4" y1="413.84" x2="80.4" y2="419.69" stroke="#c8c8c8" stroke-width="0.6"/>
<line x1="76.6" y1="413.84" x2="84.2" y2="413.84" stroke="#c8c8c8" stroke-width="0.6"/>
<line x1="103.85" y1="409.04" x2="103.85" y2="415.93" stroke="#c8c8c8" stroke-width="0.6"/>
<line x1="100.05" y1="409.04" x2="107.65" y2="409.04" stroke="#c8c8c8" stroke-width="0.6"/>
<line x1="127.3" y1="388.97" x2="127.3" y2="397.75" stroke="#c8c8c8" stroke-width="0.6"/>
<line x1="123.5" y1="388.97" x2="131.1" y2="388.97" stroke="#c8c8c8" stroke-width="0.6"/>
<line x1="150.75" y1="404.02" x2="150.75" y2="411.33" stroke="#c8c8c8" stroke-width="0.6"/>
<line x1="146.95" y1="404.02" x2="154.55" y2="404.02" stroke="#c8c8c8" stroke-width="0.6"/>
<circle cx="56.95" cy="422.41" r="0.95" fill="#000"/>
<circle cx="56.95" cy="430.14" r="0.95" fill="#000"/>
<circle cx="56.95" cy="434.12" r="0.95" fill="#000"/>
<circle cx="80.4" cy="411.75" r="0.95" fill="#000"/>
<circle cx="80.4" cy="422.2" r="0.95" fill="#000"/>
<circle cx="79.4" cy="422.83" r="0.95" fill="#000"/>
<circle cx="103.85" cy="408.2" r="0.95" fill="#000"/>
<circle cx="103.85" cy="421.16" r="0.95" fill="#000"/>
<circle cx="102.85" cy="421.58" r="0.95" fill="#000"/>
<circle cx="127.3" cy="388.97" r="0.95" fill="#000"/>
<circle cx="127.3" cy="400.68" r="0.95" fill="#000"/>
<circle cx="127.3" cy="408.2" r="0.95" fill="#000"/>
<circle cx="150.75" cy="401.51" r="0.95" fill="#000"/>
<circle cx="150.75" cy="416.14" r="0.95" fill="#000"/>
<circle cx="149.75" cy="416.56" r="0.95" fill="#000"/>
<line x1="40.55" y1="450" x2="167.2" y2="450" stroke="#222" stroke-width="0.9"/>
<line x1="41" y1="366" x2="41" y2="450.4" stroke="#222" stroke-width="0.9"/>
<line x1="38" y1="450" x2="41" y2="450" stroke="#222" stroke-width="0.9"/>
<text x="38.1" y="452.65" font-size="6.4" font-weight="bold" text-anchor="end" fill="#111">0</text>
<line x1="38" y1="429.1" x2="41" y2="429.1" stroke="#222" stroke-width="0.9"/>
<text x="38.1" y="431.75" font-size="6.4" font-weight="bold" text-anchor="end" fill="#111">1</text>
<line x1="38" y1="408.2" x2="41" y2="408.2" stroke="#222" stroke-width="0.9"/>
<text x="38.1" y="410.85" font-size="6.4" font-weight="bold" text-anchor="end" fill="#111">2</text>
<line x1="38" y1="387.3" x2="41" y2="387.3" stroke="#222" stroke-width="0.9"/>
<text x="38.1" y="389.95" font-size="6.4" font-weight="bold" text-anchor="end" fill="#111">3</text>
<line x1="38" y1="366.4" x2="41" y2="366.4" stroke="#222" stroke-width="0.9"/>
<text x="38.1" y="369.05" font-size="6.4" font-weight="bold" text-anchor="end" fill="#111">4</text>
<line x1="56.95" y1="450" x2="56.95" y2="452.6" stroke="#222" stroke-width="0.9"/>
<text x="58.55" y="457.5" font-size="6.4" font-weight="bold" text-anchor="end" fill="#111" transform="rotate(-45 58.55 457.5)">DMSO</text>
<line x1="80.4" y1="450" x2="80.4" y2="452.6" stroke="#222" stroke-width="0.9"/>
<text x="82" y="457.5" font-size="6.4" font-weight="bold" text-anchor="end" fill="#111" transform="rotate(-45 82 457.5)">UNC1999</text>
<line x1="103.85" y1="450" x2="103.85" y2="452.6" stroke="#222" stroke-width="0.9"/>
<text x="105.45" y="457.5" font-size="6.4" font-weight="bold" text-anchor="end" fill="#111" transform="rotate(-45 105.45 457.5)">Erastin</text>
<line x1="127.3" y1="450" x2="127.3" y2="452.6" stroke="#222" stroke-width="0.9"/>
<text x="128.9" y="457.5" font-size="6.4" font-weight="bold" text-anchor="end" fill="#111" transform="rotate(-45 128.9 457.5)">UNC1999+Erastin</text>
<line x1="150.75" y1="450" x2="150.75" y2="452.6" stroke="#222" stroke-width="0.9"/>
<text x="152.35" y="457.5" font-size="6.4" font-weight="bold" text-anchor="end" fill="#111" transform="rotate(-45 152.35 457.5)">UNC1999+Erastin+Fer-1</text>
<path d="M56.15 388.9V384.6H126.7V388.9" stroke="#2a2a2a" stroke-width="0.72" fill="none"/>
<text x="91.43" y="385.3" font-size="4.5" font-weight="bold" text-anchor="middle" fill="#111">***</text>
<path d="M128.5 388.9V384.6H150.75V388.9" stroke="#2a2a2a" stroke-width="0.72" fill="none"/>
<text x="139.62" y="385.3" font-size="4.5" font-weight="bold" text-anchor="middle" fill="#111">*</text>
<path d="M56.15 408.9V404.6H103.85V408.9" stroke="#2a2a2a" stroke-width="0.72" fill="none"/>
<text x="80" y="405.3" font-size="4.5" font-weight="bold" text-anchor="middle" fill="#111">*</text>
<path d="M56.15 413.9V409.6H80.4V413.9" stroke="#2a2a2a" stroke-width="0.72" fill="none"/>
<text x="68.28" y="410.3" font-size="4.5" font-weight="bold" text-anchor="middle" fill="#111">*</text>
<text x="103.8" y="355.3" font-size="8" font-weight="bold" text-anchor="middle" fill="#111">786-O</text>
<text x="30" y="408.2" font-size="6.8" font-weight="bold" text-anchor="middle" fill="#111" transform="rotate(-90 30 408.2)">Relative Fe<tspan dy="-2.6" font-size="4.6">2+</tspan><tspan dy="2.6"> Level</tspan></text>
<rect x="218.2" y="429.1" width="15.9" height="20.9" fill="#1a1aff"/>
<rect x="241.65" y="419.49" width="15.9" height="30.51" fill="#ff2211"/>
<rect x="265.1" y="413.84" width="15.9" height="36.16" fill="#44e022"/>
<rect x="288.55" y="391.9" width="15.9" height="58.1" fill="#c722ff"/>
<rect x="312" y="410.29" width="15.9" height="39.71" fill="#f08322"/>
<line x1="226.15" y1="426.17" x2="226.15" y2="429.1" stroke="#c8c8c8" stroke-width="0.6"/>
<line x1="222.35" y1="426.17" x2="229.95" y2="426.17" stroke="#c8c8c8" stroke-width="0.6"/>
<line x1="249.6" y1="412.8" x2="249.6" y2="419.49" stroke="#c8c8c8" stroke-width="0.6"/>
<line x1="245.8" y1="412.8" x2="253.4" y2="412.8" stroke="#c8c8c8" stroke-width="0.6"/>
<line x1="273.05" y1="406.95" x2="273.05" y2="413.84" stroke="#c8c8c8" stroke-width="0.6"/>
<line x1="269.25" y1="406.95" x2="276.85" y2="406.95" stroke="#c8c8c8" stroke-width="0.6"/>
<line x1="296.5" y1="384.37" x2="296.5" y2="391.9" stroke="#c8c8c8" stroke-width="0.6"/>
<line x1="292.7" y1="384.37" x2="300.3" y2="384.37" stroke="#c8c8c8" stroke-width="0.6"/>
<line x1="319.95" y1="404.02" x2="319.95" y2="410.29" stroke="#c8c8c8" stroke-width="0.6"/>
<line x1="316.15" y1="404.02" x2="323.75" y2="404.02" stroke="#c8c8c8" stroke-width="0.6"/>
<circle cx="226.15" cy="425.34" r="0.95" fill="#000"/>
<circle cx="226.15" cy="429.94" r="0.95" fill="#000"/>
<circle cx="225.15" cy="430.77" r="0.95" fill="#000"/>
<circle cx="249.6" cy="413.84" r="0.95" fill="#000"/>
<circle cx="249.6" cy="423.25" r="0.95" fill="#000"/>
<circle cx="249.6" cy="425.96" r="0.95" fill="#000"/>
<circle cx="273.05" cy="406.53" r="0.95" fill="#000"/>
<circle cx="273.05" cy="413.84" r="0.95" fill="#000"/>
<circle cx="273.05" cy="421.16" r="0.95" fill="#000"/>
<circle cx="296.5" cy="384.16" r="0.95" fill="#000"/>
<circle cx="296.5" cy="390.44" r="0.95" fill="#000"/>
<circle cx="296.5" cy="401.93" r="0.95" fill="#000"/>
<circle cx="319.95" cy="402.97" r="0.95" fill="#000"/>
<circle cx="319.95" cy="408.2" r="0.95" fill="#000"/>
<circle cx="319.95" cy="412.8" r="0.95" fill="#000"/>
<circle cx="319.95" cy="417.61" r="0.95" fill="#000"/>
<line x1="209.55" y1="450" x2="336.6" y2="450" stroke="#222" stroke-width="0.9"/>
<line x1="210" y1="366" x2="210" y2="450.4" stroke="#222" stroke-width="0.9"/>
<line x1="207" y1="450" x2="210" y2="450" stroke="#222" stroke-width="0.9"/>
<text x="207.1" y="452.65" font-size="6.4" font-weight="bold" text-anchor="end" fill="#111">0</text>
<line x1="207" y1="429.1" x2="210" y2="429.1" stroke="#222" stroke-width="0.9"/>
<text x="207.1" y="431.75" font-size="6.4" font-weight="bold" text-anchor="end" fill="#111">1</text>
<line x1="207" y1="408.2" x2="210" y2="408.2" stroke="#222" stroke-width="0.9"/>
<text x="207.1" y="410.85" font-size="6.4" font-weight="bold" text-anchor="end" fill="#111">2</text>
<line x1="207" y1="387.3" x2="210" y2="387.3" stroke="#222" stroke-width="0.9"/>
<text x="207.1" y="389.95" font-size="6.4" font-weight="bold" text-anchor="end" fill="#111">3</text>
<line x1="207" y1="366.4" x2="210" y2="366.4" stroke="#222" stroke-width="0.9"/>
<text x="207.1" y="369.05" font-size="6.4" font-weight="bold" text-anchor="end" fill="#111">4</text>
<line x1="226.15" y1="450" x2="226.15" y2="452.6" stroke="#222" stroke-width="0.9"/>
<text x="227.75" y="457.5" font-size="6.4" font-weight="bold" text-anchor="end" fill="#111" transform="rotate(-45 227.75 457.5)">DMSO</text>
<line x1="249.6" y1="450" x2="249.6" y2="452.6" stroke="#222" stroke-width="0.9"/>
<text x="251.2" y="457.5" font-size="6.4" font-weight="bold" text-anchor="end" fill="#111" transform="rotate(-45 251.2 457.5)">UNC1999</text>
<line x1="273.05" y1="450" x2="273.05" y2="452.6" stroke="#222" stroke-width="0.9"/>
<text x="274.65" y="457.5" font-size="6.4" font-weight="bold" text-anchor="end" fill="#111" transform="rotate(-45 274.65 457.5)">Erastin</text>
<line x1="296.5" y1="450" x2="296.5" y2="452.6" stroke="#222" stroke-width="0.9"/>
<text x="298.1" y="457.5" font-size="6.4" font-weight="bold" text-anchor="end" fill="#111" transform="rotate(-45 298.1 457.5)">UNC1999+Erastin</text>
<line x1="319.95" y1="450" x2="319.95" y2="452.6" stroke="#222" stroke-width="0.9"/>
<text x="321.55" y="457.5" font-size="6.4" font-weight="bold" text-anchor="end" fill="#111" transform="rotate(-45 321.55 457.5)">UNC1999+Erastin+Fer-1</text>
<path d="M225.35 383.7V379.4H295.9V383.7" stroke="#2a2a2a" stroke-width="0.72" fill="none"/>
<text x="260.62" y="380.1" font-size="4.5" font-weight="bold" text-anchor="middle" fill="#111">****</text>
<path d="M297.7 383.7V379.4H319.95V383.7" stroke="#2a2a2a" stroke-width="0.72" fill="none"/>
<text x="308.82" y="380.1" font-size="4.5" font-weight="bold" text-anchor="middle" fill="#111">**</text>
<path d="M225.35 407.3V403H273.05V407.3" stroke="#2a2a2a" stroke-width="0.72" fill="none"/>
<text x="249.2" y="403.7" font-size="4.5" font-weight="bold" text-anchor="middle" fill="#111">**</text>
<path d="M225.35 412.7V408.4H249.6V412.7" stroke="#2a2a2a" stroke-width="0.72" fill="none"/>
<text x="237.47" y="409.1" font-size="4.5" font-weight="bold" text-anchor="middle" fill="#111">*</text>
<text x="273" y="355.3" font-size="8" font-weight="bold" text-anchor="middle" fill="#111">ACHN</text>
<text x="199" y="408.2" font-size="6.8" font-weight="bold" text-anchor="middle" fill="#111" transform="rotate(-90 199 408.2)">Relative Fe<tspan dy="-2.6" font-size="4.6">2+</tspan><tspan dy="2.6"> Level</tspan></text>
<rect x="412.1" y="341.9" width="118.8" height="160.9" fill="url(#mesh)"/>
<rect x="412.1" y="341.9" width="118.8" height="160.9" fill="url(#shade)"/>
<rect x="412.1" y="473.4" width="118.8" height="2.4" fill="#2c3f9a" fill-opacity="0.55" filter="url(#b05)"/>
<rect x="412.1" y="475.5" width="118.8" height="24.4" fill="#bac0dd"/>
<rect x="412.1" y="475.5" width="118.8" height="2.3" fill="#cfd3e6"/>
<rect x="412.1" y="498.8" width="118.8" height="1.3" fill="#c3c8de"/>
<rect x="412.1" y="500.1" width="118.8" height="2.7" fill="#4560cf"/>
<line x1="412.4" y1="477.8" x2="412.4" y2="480.5" stroke="#434b74" stroke-width="0.55"/>
<line x1="412.4" y1="498.8" x2="412.4" y2="495" stroke="#434b74" stroke-width="0.55"/>
<line x1="413.91" y1="477.8" x2="413.91" y2="480.5" stroke="#434b74" stroke-width="0.55"/>
<line x1="413.91" y1="498.8" x2="413.91" y2="495" stroke="#434b74" stroke-width="0.55"/>
<line x1="415.42" y1="477.8" x2="415.42" y2="480.5" stroke="#434b74" stroke-width="0.55"/>
<line x1="415.42" y1="498.8" x2="415.42" y2="495" stroke="#434b74" stroke-width="0.55"/>
<line x1="416.93" y1="477.8" x2="416.93" y2="480.5" stroke="#434b74" stroke-width="0.55"/>
<line x1="416.93" y1="498.8" x2="416.93" y2="495" stroke="#434b74" stroke-width="0.55"/>
<line x1="418.44" y1="477.8" x2="418.44" y2="481.5" stroke="#434b74" stroke-width="0.55"/>
<line x1="418.44" y1="498.8" x2="418.44" y2="494" stroke="#434b74" stroke-width="0.55"/>
<line x1="419.95" y1="477.8" x2="419.95" y2="480.5" stroke="#434b74" stroke-width="0.55"/>
<line x1="419.95" y1="498.8" x2="419.95" y2="495" stroke="#434b74" stroke-width="0.55"/>
<line x1="421.46" y1="477.8" x2="421.46" y2="480.5" stroke="#434b74" stroke-width="0.55"/>
<line x1="421.46" y1="498.8" x2="421.46" y2="495" stroke="#434b74" stroke-width="0.55"/>
<line x1="422.97" y1="477.8" x2="422.97" y2="480.5" stroke="#434b74" stroke-width="0.55"/>
<line x1="422.97" y1="498.8" x2="422.97" y2="495" stroke="#434b74" stroke-width="0.55"/>
<line x1="424.48" y1="477.8" x2="424.48" y2="480.5" stroke="#434b74" stroke-width="0.55"/>
<line x1="424.48" y1="498.8" x2="424.48" y2="495" stroke="#434b74" stroke-width="0.55"/>
<line x1="425.99" y1="477.8" x2="425.99" y2="482.8" stroke="#434b74" stroke-width="0.55"/>
<line x1="425.99" y1="498.8" x2="425.99" y2="492.7" stroke="#434b74" stroke-width="0.55"/>
<line x1="427.5" y1="477.8" x2="427.5" y2="480.5" stroke="#434b74" stroke-width="0.55"/>
<line x1="427.5" y1="498.8" x2="427.5" y2="495" stroke="#434b74" stroke-width="0.55"/>
<line x1="429.01" y1="477.8" x2="429.01" y2="480.5" stroke="#434b74" stroke-width="0.55"/>
<line x1="429.01" y1="498.8" x2="429.01" y2="495" stroke="#434b74" stroke-width="0.55"/>
<line x1="430.52" y1="477.8" x2="430.52" y2="480.5" stroke="#434b74" stroke-width="0.55"/>
<line x1="430.52" y1="498.8" x2="430.52" y2="495" stroke="#434b74" stroke-width="0.55"/>
<line x1="432.03" y1="477.8" x2="432.03" y2="480.5" stroke="#434b74" stroke-width="0.55"/>
<line x1="432.03" y1="498.8" x2="432.03" y2="495" stroke="#434b74" stroke-width="0.55"/>
<line x1="433.54" y1="477.8" x2="433.54" y2="481.5" stroke="#434b74" stroke-width="0.55"/>
<line x1="433.54" y1="498.8" x2="433.54" y2="494" stroke="#434b74" stroke-width="0.55"/>
<line x1="435.05" y1="477.8" x2="435.05" y2="480.5" stroke="#434b74" stroke-width="0.55"/>
<line x1="435.05" y1="498.8" x2="435.05" y2="495" stroke="#434b74" stroke-width="0.55"/>
<line x1="436.56" y1="477.8" x2="436.56" y2="480.5" stroke="#434b74" stroke-width="0.55"/>
<line x1="436.56" y1="498.8" x2="436.56" y2="495" stroke="#434b74" stroke-width="0.55"/>
<line x1="438.07" y1="477.8" x2="438.07" y2="480.5" stroke="#434b74" stroke-width="0.55"/>
<line x1="438.07" y1="498.8" x2="438.07" y2="495" stroke="#434b74" stroke-width="0.55"/>
<line x1="439.58" y1="477.8" x2="439.58" y2="480.5" stroke="#434b74" stroke-width="0.55"/>
<line x1="439.58" y1="498.8" x2="439.58" y2="495" stroke="#434b74" stroke-width="0.55"/>
<line x1="441.09" y1="477.8" x2="441.09" y2="482.8" stroke="#434b74" stroke-width="0.55"/>
<line x1="441.09" y1="498.8" x2="441.09" y2="492.7" stroke="#434b74" stroke-width="0.55"/>
<line x1="442.6" y1="477.8" x2="442.6" y2="480.5" stroke="#434b74" stroke-width="0.55"/>
<line x1="442.6" y1="498.8" x2="442.6" y2="495" stroke="#434b74" stroke-width="0.55"/>
<line x1="444.11" y1="477.8" x2="444.11" y2="480.5" stroke="#434b74" stroke-width="0.55"/>
<line x1="444.11" y1="498.8" x2="444.11" y2="495" stroke="#434b74" stroke-width="0.55"/>
<line x1="445.62" y1="477.8" x2="445.62" y2="480.5" stroke="#434b74" stroke-width="0.55"/>
<line x1="445.62" y1="498.8" x2="445.62" y2="495" stroke="#434b74" stroke-width="0.55"/>
<line x1="447.13" y1="477.8" x2="447.13" y2="480.5" stroke="#434b74" stroke-width="0.55"/>
<line x1="447.13" y1="498.8" x2="447.13" y2="495" stroke="#434b74" stroke-width="0.55"/>
<line x1="448.64" y1="477.8" x2="448.64" y2="481.5" stroke="#434b74" stroke-width="0.55"/>
<line x1="448.64" y1="498.8" x2="448.64" y2="494" stroke="#434b74" stroke-width="0.55"/>
<line x1="450.15" y1="477.8" x2="450.15" y2="480.5" stroke="#434b74" stroke-width="0.55"/>
<line x1="450.15" y1="498.8" x2="450.15" y2="495" stroke="#434b74" stroke-width="0.55"/>
<line x1="451.66" y1="477.8" x2="451.66" y2="480.5" stroke="#434b74" stroke-width="0.55"/>
<line x1="451.66" y1="498.8" x2="451.66" y2="495" stroke="#434b74" stroke-width="0.55"/>
<line x1="453.17" y1="477.8" x2="453.17" y2="480.5" stroke="#434b74" stroke-width="0.55"/>
<line x1="453.17" y1="498.8" x2="453.17" y2="495" stroke="#434b74" stroke-width="0.55"/>
<line x1="454.68" y1="477.8" x2="454.68" y2="480.5" stroke="#434b74" stroke-width="0.55"/>
<line x1="454.68" y1="498.8" x2="454.68" y2="495" stroke="#434b74" stroke-width="0.55"/>
<line x1="456.19" y1="477.8" x2="456.19" y2="482.8" stroke="#434b74" stroke-width="0.55"/>
<line x1="456.19" y1="498.8" x2="456.19" y2="492.7" stroke="#434b74" stroke-width="0.55"/>
<line x1="457.7" y1="477.8" x2="457.7" y2="480.5" stroke="#434b74" stroke-width="0.55"/>
<line x1="457.7" y1="498.8" x2="457.7" y2="495" stroke="#434b74" stroke-width="0.55"/>
<line x1="459.21" y1="477.8" x2="459.21" y2="480.5" stroke="#434b74" stroke-width="0.55"/>
<line x1="459.21" y1="498.8" x2="459.21" y2="495" stroke="#434b74" stroke-width="0.55"/>
<line x1="460.72" y1="477.8" x2="460.72" y2="480.5" stroke="#434b74" stroke-width="0.55"/>
<line x1="460.72" y1="498.8" x2="460.72" y2="495" stroke="#434b74" stroke-width="0.55"/>
<line x1="462.23" y1="477.8" x2="462.23" y2="480.5" stroke="#434b74" stroke-width="0.55"/>
<line x1="462.23" y1="498.8" x2="462.23" y2="495" stroke="#434b74" stroke-width="0.55"/>
<line x1="463.74" y1="477.8" x2="463.74" y2="481.5" stroke="#434b74" stroke-width="0.55"/>
<line x1="463.74" y1="498.8" x2="463.74" y2="494" stroke="#434b74" stroke-width="0.55"/>
<line x1="465.25" y1="477.8" x2="465.25" y2="480.5" stroke="#434b74" stroke-width="0.55"/>
<line x1="465.25" y1="498.8" x2="465.25" y2="495" stroke="#434b74" stroke-width="0.55"/>
<line x1="466.76" y1="477.8" x2="466.76" y2="480.5" stroke="#434b74" stroke-width="0.55"/>
<line x1="466.76" y1="498.8" x2="466.76" y2="495" stroke="#434b74" stroke-width="0.55"/>
<line x1="468.27" y1="477.8" x2="468.27" y2="480.5" stroke="#434b74" stroke-width="0.55"/>
<line x1="468.27" y1="498.8" x2="468.27" y2="495" stroke="#434b74" stroke-width="0.55"/>
<line x1="469.78" y1="477.8" x2="469.78" y2="480.5" stroke="#434b74" stroke-width="0.55"/>
<line x1="469.78" y1="498.8" x2="469.78" y2="495" stroke="#434b74" stroke-width="0.55"/>
<line x1="471.29" y1="477.8" x2="471.29" y2="482.8" stroke="#434b74" stroke-width="0.55"/>
<line x1="471.29" y1="498.8" x2="471.29" y2="492.7" stroke="#434b74" stroke-width="0.55"/>
<line x1="472.8" y1="477.8" x2="472.8" y2="480.5" stroke="#434b74" stroke-width="0.55"/>
<line x1="472.8" y1="498.8" x2="472.8" y2="495" stroke="#434b74" stroke-width="0.55"/>
<line x1="474.31" y1="477.8" x2="474.31" y2="480.5" stroke="#434b74" stroke-width="0.55"/>
<line x1="474.31" y1="498.8" x2="474.31" y2="495" stroke="#434b74" stroke-width="0.55"/>
<line x1="475.82" y1="477.8" x2="475.82" y2="480.5" stroke="#434b74" stroke-width="0.55"/>
<line x1="475.82" y1="498.8" x2="475.82" y2="495" stroke="#434b74" stroke-width="0.55"/>
<line x1="477.33" y1="477.8" x2="477.33" y2="480.5" stroke="#434b74" stroke-width="0.55"/>
<line x1="477.33" y1="498.8" x2="477.33" y2="495" stroke="#434b74" stroke-width="0.55"/>
<line x1="478.84" y1="477.8" x2="478.84" y2="481.5" stroke="#434b74" stroke-width="0.55"/>
<line x1="478.84" y1="498.8" x2="478.84" y2="494" stroke="#434b74" stroke-width="0.55"/>
<line x1="480.35" y1="477.8" x2="480.35" y2="480.5" stroke="#434b74" stroke-width="0.55"/>
<line x1="480.35" y1="498.8" x2="480.35" y2="495" stroke="#434b74" stroke-width="0.55"/>
<line x1="481.86" y1="477.8" x2="481.86" y2="480.5" stroke="#434b74" stroke-width="0.55"/>
<line x1="481.86" y1="498.8" x2="481.86" y2="495" stroke="#434b74" stroke-width="0.55"/>
<line x1="483.37" y1="477.8" x2="483.37" y2="480.5" stroke="#434b74" stroke-width="0.55"/>
<line x1="483.37" y1="498.8" x2="483.37" y2="495" stroke="#434b74" stroke-width="0.55"/>
<line x1="484.88" y1="477.8" x2="484.88" y2="480.5" stroke="#434b74" stroke-width="0.55"/>
<line x1="484.88" y1="498.8" x2="484.88" y2="495" stroke="#434b74" stroke-width="0.55"/>
<line x1="486.39" y1="477.8" x2="486.39" y2="482.8" stroke="#434b74" stroke-width="0.55"/>
<line x1="486.39" y1="498.8" x2="486.39" y2="492.7" stroke="#434b74" stroke-width="0.55"/>
<line x1="487.9" y1="477.8" x2="487.9" y2="480.5" stroke="#434b74" stroke-width="0.55"/>
<line x1="487.9" y1="498.8" x2="487.9" y2="495" stroke="#434b74" stroke-width="0.55"/>
<line x1="489.41" y1="477.8" x2="489.41" y2="480.5" stroke="#434b74" stroke-width="0.55"/>
<line x1="489.41" y1="498.8" x2="489.41" y2="495" stroke="#434b74" stroke-width="0.55"/>
<line x1="490.92" y1="477.8" x2="490.92" y2="480.5" stroke="#434b74" stroke-width="0.55"/>
<line x1="490.92" y1="498.8" x2="490.92" y2="495" stroke="#434b74" stroke-width="0.55"/>
<line x1="492.43" y1="477.8" x2="492.43" y2="480.5" stroke="#434b74" stroke-width="0.55"/>
<line x1="492.43" y1="498.8" x2="492.43" y2="495" stroke="#434b74" stroke-width="0.55"/>
<line x1="493.94" y1="477.8" x2="493.94" y2="481.5" stroke="#434b74" stroke-width="0.55"/>
<line x1="493.94" y1="498.8" x2="493.94" y2="494" stroke="#434b74" stroke-width="0.55"/>
<line x1="495.45" y1="477.8" x2="495.45" y2="480.5" stroke="#434b74" stroke-width="0.55"/>
<line x1="495.45" y1="498.8" x2="495.45" y2="495" stroke="#434b74" stroke-width="0.55"/>
<line x1="496.96" y1="477.8" x2="496.96" y2="480.5" stroke="#434b74" stroke-width="0.55"/>
<line x1="496.96" y1="498.8" x2="496.96" y2="495" stroke="#434b74" stroke-width="0.55"/>
<line x1="498.47" y1="477.8" x2="498.47" y2="480.5" stroke="#434b74" stroke-width="0.55"/>
<line x1="498.47" y1="498.8" x2="498.47" y2="495" stroke="#434b74" stroke-width="0.55"/>
<line x1="499.98" y1="477.8" x2="499.98" y2="480.5" stroke="#434b74" stroke-width="0.55"/>
<line x1="499.98" y1="498.8" x2="499.98" y2="495" stroke="#434b74" stroke-width="0.55"/>
<line x1="501.49" y1="477.8" x2="501.49" y2="482.8" stroke="#434b74" stroke-width="0.55"/>
<line x1="501.49" y1="498.8" x2="501.49" y2="492.7" stroke="#434b74" stroke-width="0.55"/>
<line x1="503" y1="477.8" x2="503" y2="480.5" stroke="#434b74" stroke-width="0.55"/>
<line x1="503" y1="498.8" x2="503" y2="495" stroke="#434b74" stroke-width="0.55"/>
<line x1="504.51" y1="477.8" x2="504.51" y2="480.5" stroke="#434b74" stroke-width="0.55"/>
<line x1="504.51" y1="498.8" x2="504.51" y2="495" stroke="#434b74" stroke-width="0.55"/>
<line x1="506.02" y1="477.8" x2="506.02" y2="480.5" stroke="#434b74" stroke-width="0.55"/>
<line x1="506.02" y1="498.8" x2="506.02" y2="495" stroke="#434b74" stroke-width="0.55"/>
<line x1="507.53" y1="477.8" x2="507.53" y2="480.5" stroke="#434b74" stroke-width="0.55"/>
<line x1="507.53" y1="498.8" x2="507.53" y2="495" stroke="#434b74" stroke-width="0.55"/>
<line x1="509.04" y1="477.8" x2="509.04" y2="481.5" stroke="#434b74" stroke-width="0.55"/>
<line x1="509.04" y1="498.8" x2="509.04" y2="494" stroke="#434b74" stroke-width="0.55"/>
<line x1="510.55" y1="477.8" x2="510.55" y2="480.5" stroke="#434b74" stroke-width="0.55"/>
<line x1="510.55" y1="498.8" x2="510.55" y2="495" stroke="#434b74" stroke-width="0.55"/>
<line x1="512.06" y1="477.8" x2="512.06" y2="480.5" stroke="#434b74" stroke-width="0.55"/>
<line x1="512.06" y1="498.8" x2="512.06" y2="495" stroke="#434b74" stroke-width="0.55"/>
<line x1="513.57" y1="477.8" x2="513.57" y2="480.5" stroke="#434b74" stroke-width="0.55"/>
<line x1="513.57" y1="498.8" x2="513.57" y2="495" stroke="#434b74" stroke-width="0.55"/>
<line x1="515.08" y1="477.8" x2="515.08" y2="480.5" stroke="#434b74" stroke-width="0.55"/>
<line x1="515.08" y1="498.8" x2="515.08" y2="495" stroke="#434b74" stroke-width="0.55"/>
<line x1="516.59" y1="477.8" x2="516.59" y2="482.8" stroke="#434b74" stroke-width="0.55"/>
<line x1="516.59" y1="498.8" x2="516.59" y2="492.7" stroke="#434b74" stroke-width="0.55"/>
<line x1="518.1" y1="477.8" x2="518.1" y2="480.5" stroke="#434b74" stroke-width="0.55"/>
<line x1="518.1" y1="498.8" x2="518.1" y2="495" stroke="#434b74" stroke-width="0.55"/>
<line x1="519.61" y1="477.8" x2="519.61" y2="480.5" stroke="#434b74" stroke-width="0.55"/>
<line x1="519.61" y1="498.8" x2="519.61" y2="495" stroke="#434b74" stroke-width="0.55"/>
<line x1="521.12" y1="477.8" x2="521.12" y2="480.5" stroke="#434b74" stroke-width="0.55"/>
<line x1="521.12" y1="498.8" x2="521.12" y2="495" stroke="#434b74" stroke-width="0.55"/>
<line x1="522.63" y1="477.8" x2="522.63" y2="480.5" stroke="#434b74" stroke-width="0.55"/>
<line x1="522.63" y1="498.8" x2="522.63" y2="495" stroke="#434b74" stroke-width="0.55"/>
<line x1="524.14" y1="477.8" x2="524.14" y2="481.5" stroke="#434b74" stroke-width="0.55"/>
<line x1="524.14" y1="498.8" x2="524.14" y2="494" stroke="#434b74" stroke-width="0.55"/>
<line x1="525.65" y1="477.8" x2="525.65" y2="480.5" stroke="#434b74" stroke-width="0.55"/>
<line x1="525.65" y1="498.8" x2="525.65" y2="495" stroke="#434b74" stroke-width="0.55"/>
<line x1="527.16" y1="477.8" x2="527.16" y2="480.5" stroke="#434b74" stroke-width="0.55"/>
<line x1="527.16" y1="498.8" x2="527.16" y2="495" stroke="#434b74" stroke-width="0.55"/>
<line x1="528.67" y1="477.8" x2="528.67" y2="480.5" stroke="#434b74" stroke-width="0.55"/>
<line x1="528.67" y1="498.8" x2="528.67" y2="495" stroke="#434b74" stroke-width="0.55"/>
<line x1="530.18" y1="477.8" x2="530.18" y2="480.5" stroke="#434b74" stroke-width="0.55"/>
<line x1="530.18" y1="498.8" x2="530.18" y2="495" stroke="#434b74" stroke-width="0.55"/>
<text x="425.6" y="488.6" font-size="4.4" font-weight="normal" text-anchor="middle" fill="#434b74">10</text>
<text x="440.7" y="488.6" font-size="4.4" font-weight="normal" text-anchor="middle" fill="#434b74">20</text>
<text x="455.8" y="488.6" font-size="4.4" font-weight="normal" text-anchor="middle" fill="#434b74">30</text>
<text x="470.9" y="488.6" font-size="4.4" font-weight="normal" text-anchor="middle" fill="#434b74">40</text>
<text x="486" y="488.6" font-size="4.4" font-weight="normal" text-anchor="middle" fill="#434b74">50</text>
<text x="501.1" y="488.6" font-size="4.4" font-weight="normal" text-anchor="middle" fill="#434b74">60</text>
<text x="516.2" y="488.6" font-size="4.4" font-weight="normal" text-anchor="middle" fill="#434b74">70</text>
<clipPath id="tc1"><path d="M435.43 364.83Q436.18 367.2 436.24 370.42Q436.31 373.64 433.93 375.21Q431.54 376.78 429.29 375.43Q427.04 374.07 425.34 372.14Q423.63 370.2 423.69 367.23Q423.76 364.25 425.12 361.68Q426.49 359.12 429.02 358.32Q431.56 357.53 433.12 360Q434.69 362.46 435.43 364.83Z"/></clipPath>
<g filter="url(#b05)">
<path d="M435.43 364.83Q436.18 367.2 436.24 370.42Q436.31 373.64 433.93 375.21Q431.54 376.78 429.29 375.43Q427.04 374.07 425.34 372.14Q423.63 370.2 423.69 367.23Q423.76 364.25 425.12 361.68Q426.49 359.12 429.02 358.32Q431.56 357.53 433.12 360Q434.69 362.46 435.43 364.83Z" fill="#d98f8f"/>
<g clip-path="url(#tc1)"><g filter="url(#b08)">
<path d="M429.63 368.49Q429.93 370.45 429.51 372.24Q429.09 374.03 427.56 373.6Q426.02 373.16 424.77 372.63Q423.52 372.11 423.26 370.31Q423 368.5 424.46 367.86Q425.92 367.22 427.62 366.87Q429.33 366.53 429.63 368.49Z" fill="#c43c50" fill-opacity="0.75"/>
<path d="M435.33 361.55Q435.79 362.66 435.66 364.24Q435.53 365.83 433.92 366.68Q432.31 367.53 431.33 365.89Q430.36 364.25 430.52 362.74Q430.67 361.23 431.61 360.1Q432.55 358.98 433.7 359.71Q434.86 360.43 435.33 361.55Z" fill="#c43c50" fill-opacity="0.75"/>
<path d="M430.58 365.5Q431.55 366.6 430.72 367.9Q429.89 369.2 428.65 369.52Q427.4 369.84 426.42 368.93Q425.44 368.03 425.21 366.47Q424.98 364.92 426.18 364.07Q427.38 363.22 428.49 363.81Q429.61 364.39 430.58 365.5Z" fill="#c43c50" fill-opacity="0.75"/>
<path d="M435.93 365.99Q436.6 367.75 435.58 369Q434.57 370.26 433.18 371.5Q431.79 372.75 430.38 371.29Q428.96 369.84 429.66 368.13Q430.36 366.42 431.23 365.35Q432.1 364.27 433.69 364.26Q435.27 364.24 435.93 365.99Z" fill="#c43c50" fill-opacity="0.75"/>
<path d="M434 370.56Q434.24 371.81 434 373.05Q433.75 374.28 432.57 374.46Q431.39 374.65 430.74 373.73Q430.08 372.82 429.9 371.71Q429.72 370.6 430.52 369.62Q431.32 368.64 432.54 368.98Q433.77 369.32 434 370.56Z" fill="#f6e4d8" fill-opacity="0.8"/>
<path d="M431.93 366.98Q431.96 368.14 431.73 369.01Q431.5 369.89 430.56 370.53Q429.62 371.17 428.92 370.2Q428.21 369.23 428.37 368.22Q428.52 367.22 429.11 366.35Q429.7 365.49 430.8 365.66Q431.91 365.82 431.93 366.98Z" fill="#f6e4d8" fill-opacity="0.8"/>
<path d="M433.34 365.14Q433.96 365.88 433.56 366.91Q433.16 367.95 432.1 368.42Q431.05 368.88 430.27 367.96Q429.49 367.04 429.58 365.92Q429.66 364.8 430.4 364.06Q431.14 363.32 431.94 363.86Q432.73 364.4 433.34 365.14Z" fill="#f6e4d8" fill-opacity="0.8"/>
<path d="M428.76 368.15Q429.44 369.35 428.68 370.44Q427.93 371.53 426.9 371.64Q425.87 371.76 425.26 371.01Q424.65 370.27 424.43 369.23Q424.22 368.2 424.95 367.12Q425.68 366.03 426.89 366.49Q428.09 366.95 428.76 368.15Z" fill="#f6e4d8" fill-opacity="0.8"/>
</g></g></g>
<clipPath id="tc2"><path d="M471.15 363.25Q472.11 366.1 471.41 369.32Q470.72 372.54 468.82 372.76Q466.91 372.99 465.51 372.61Q464.12 372.24 462.49 370.82Q460.87 369.4 460.96 366.16Q461.06 362.92 462.29 360.58Q463.53 358.24 465.27 358.31Q467 358.37 468.6 359.39Q470.19 360.4 471.15 363.25Z"/></clipPath>
<g filter="url(#b05)">
<path d="M471.15 363.25Q472.11 366.1 471.41 369.32Q470.72 372.54 468.82 372.76Q466.91 372.99 465.51 372.61Q464.12 372.24 462.49 370.82Q460.87 369.4 460.96 366.16Q461.06 362.92 462.29 360.58Q463.53 358.24 465.27 358.31Q467 358.37 468.6 359.39Q470.19 360.4 471.15 363.25Z" fill="#e3aea6"/>
<g clip-path="url(#tc2)"><g filter="url(#b08)">
<path d="M468.58 365.32Q468.77 366.86 468.53 368.29Q468.28 369.73 467.27 370.04Q466.27 370.35 465.25 369.55Q464.23 368.74 464.05 366.72Q463.87 364.71 464.97 363.42Q466.08 362.12 467.23 362.96Q468.39 363.79 468.58 365.32Z" fill="#c43c50" fill-opacity="0.35"/>
<path d="M467.59 362.41Q467.7 363.93 467.36 365Q467.01 366.08 466.18 366.83Q465.35 367.58 464.62 366.5Q463.89 365.41 463.85 363.9Q463.81 362.39 464.51 360.86Q465.21 359.33 466.34 360.11Q467.48 360.9 467.59 362.41Z" fill="#c43c50" fill-opacity="0.35"/>
<path d="M468.06 362.42Q468.32 363.63 468.12 364.97Q467.93 366.31 467.01 366.43Q466.1 366.55 465.18 365.93Q464.27 365.3 463.94 363.39Q463.61 361.48 464.76 360.49Q465.92 359.51 466.86 360.36Q467.79 361.21 468.06 362.42Z" fill="#c43c50" fill-opacity="0.35"/>
<path d="M470.79 366.97Q471.22 368.87 470.76 370.73Q470.3 372.59 469.01 372.89Q467.72 373.19 466.72 372.01Q465.72 370.82 466.02 369.09Q466.31 367.36 466.98 365.72Q467.65 364.07 469 364.56Q470.36 365.06 470.79 366.97Z" fill="#c43c50" fill-opacity="0.35"/>
<path d="M465.76 367.5Q466.09 368.69 465.64 369.66Q465.2 370.64 464.49 370.93Q463.78 371.22 463.21 370.51Q462.64 369.79 462.44 368.55Q462.25 367.3 463.02 366.75Q463.79 366.2 464.61 366.25Q465.44 366.3 465.76 367.5Z" fill="#f6e4d8" fill-opacity="0.8"/>
<path d="M466.82 369.17Q467.43 370.01 466.89 370.98Q466.36 371.95 465.64 372.27Q464.93 372.59 464.17 371.99Q463.41 371.39 463.5 370.07Q463.59 368.75 464.27 368.14Q464.95 367.54 465.58 367.94Q466.21 368.34 466.82 369.17Z" fill="#f6e4d8" fill-opacity="0.8"/>
<path d="M466.42 367.02Q466.51 368.14 466.49 369.38Q466.47 370.62 465.64 370.45Q464.82 370.28 464.03 369.9Q463.24 369.52 463.51 368.34Q463.79 367.16 464.23 366.06Q464.67 364.97 465.5 365.43Q466.34 365.9 466.42 367.02Z" fill="#f6e4d8" fill-opacity="0.8"/>
<path d="M467.72 365.21Q468.08 366.28 467.71 367.33Q467.34 368.38 466.62 368.43Q465.89 368.49 465.43 367.84Q464.96 367.19 464.82 366.18Q464.68 365.17 465.22 364.16Q465.75 363.15 466.56 363.64Q467.36 364.14 467.72 365.21Z" fill="#f6e4d8" fill-opacity="0.8"/>
</g></g></g>
<clipPath id="tc3"><path d="M510.55 366.18Q511.39 368 510.91 370.04Q510.43 372.09 507.89 372.96Q505.36 373.83 502.53 373.74Q499.7 373.64 497.78 371.94Q495.86 370.25 496.73 368.24Q497.59 366.23 499.14 364.94Q500.68 363.64 503.15 362.33Q505.63 361.01 507.67 362.69Q509.71 364.37 510.55 366.18Z"/></clipPath>
<g filter="url(#b05)">
<path d="M510.55 366.18Q511.39 368 510.91 370.04Q510.43 372.09 507.89 372.96Q505.36 373.83 502.53 373.74Q499.7 373.64 497.78 371.94Q495.86 370.25 496.73 368.24Q497.59 366.23 499.14 364.94Q500.68 363.64 503.15 362.33Q505.63 361.01 507.67 362.69Q509.71 364.37 510.55 366.18Z" fill="#e3aea6"/>
<g clip-path="url(#tc3)"><g filter="url(#b08)">
<path d="M505.18 370.07Q505.64 371.41 505.16 372.73Q504.68 374.05 502.68 374.08Q500.68 374.11 499.12 373.42Q497.56 372.73 498.11 371.59Q498.65 370.44 499.62 369.44Q500.6 368.44 502.66 368.58Q504.73 368.72 505.18 370.07Z" fill="#c43c50" fill-opacity="0.5"/>
<path d="M508.05 368.32Q508.76 369.66 507.43 370.47Q506.11 371.28 504.63 372.05Q503.15 372.83 501.72 371.89Q500.29 370.95 500.61 369.76Q500.94 368.58 502.24 368.14Q503.55 367.69 505.45 367.33Q507.35 366.98 508.05 368.32Z" fill="#c43c50" fill-opacity="0.5"/>
<path d="M507.91 368.12Q508.82 369.5 507.74 370.75Q506.66 371.99 504.63 372.46Q502.6 372.94 501.44 371.79Q500.27 370.65 499.82 369.36Q499.37 368.06 501.12 367.46Q502.87 366.85 504.93 366.79Q507 366.73 507.91 368.12Z" fill="#c43c50" fill-opacity="0.5"/>
<path d="M510.34 364.13Q510.66 365.23 510.12 366.15Q509.57 367.06 507.92 367.9Q506.26 368.74 505.06 367.57Q503.86 366.41 503.65 365.16Q503.44 363.92 505.03 363.37Q506.63 362.82 508.33 362.92Q510.02 363.02 510.34 364.13Z" fill="#c43c50" fill-opacity="0.5"/>
<path d="M505.48 365.93Q505.82 366.88 505.26 367.65Q504.71 368.42 503.4 368.79Q502.09 369.15 501.08 368.47Q500.07 367.78 499.88 366.82Q499.69 365.86 500.9 365.26Q502.11 364.66 503.62 364.82Q505.13 364.98 505.48 365.93Z" fill="#f6e4d8" fill-opacity="0.8"/>
<path d="M508.45 364.59Q509.11 365.47 508.52 366.41Q507.93 367.35 506.43 367.55Q504.92 367.75 503.99 367.03Q503.06 366.32 502.95 365.44Q502.84 364.56 504.01 364.26Q505.18 363.96 506.49 363.84Q507.79 363.72 508.45 364.59Z" fill="#f6e4d8" fill-opacity="0.8"/>
<path d="M506.45 365.81Q506.8 366.39 506.82 367.28Q506.85 368.16 505.38 368.46Q503.92 368.75 503.37 367.88Q502.82 367 502.28 366.21Q501.74 365.43 502.94 365.04Q504.14 364.66 505.12 364.94Q506.11 365.23 506.45 365.81Z" fill="#f6e4d8" fill-opacity="0.8"/>
<path d="M504.75 369.12Q505.39 370.02 504.31 370.55Q503.23 371.08 502.26 371.53Q501.29 371.97 500.71 371.29Q500.12 370.61 499.61 369.85Q499.1 369.1 500.25 368.73Q501.4 368.37 502.75 368.29Q504.11 368.21 504.75 369.12Z" fill="#f6e4d8" fill-opacity="0.8"/>
</g></g></g>
<clipPath id="tc4"><path d="M435.05 393.87Q435.17 396 434.55 397.62Q433.92 399.24 432.73 400.45Q431.53 401.66 430.04 401.07Q428.55 400.48 427.68 399.09Q426.82 397.7 426.5 395.86Q426.19 394.03 426.98 391.98Q427.78 389.94 429.73 389.66Q431.67 389.38 433.3 390.56Q434.94 391.73 435.05 393.87Z"/></clipPath>
<g filter="url(#b05)">
<path d="M435.05 393.87Q435.17 396 434.55 397.62Q433.92 399.24 432.73 400.45Q431.53 401.66 430.04 401.07Q428.55 400.48 427.68 399.09Q426.82 397.7 426.5 395.86Q426.19 394.03 426.98 391.98Q427.78 389.94 429.73 389.66Q431.67 389.38 433.3 390.56Q434.94 391.73 435.05 393.87Z" fill="#e8c0b4"/>
<g clip-path="url(#tc4)"><g filter="url(#b08)">
<path d="M431.18 394.99Q431.34 396.24 430.88 397.09Q430.42 397.94 429.58 398.1Q428.75 398.25 428.02 397.73Q427.3 397.21 426.82 395.99Q426.34 394.77 427.42 393.93Q428.5 393.09 429.76 393.42Q431.02 393.74 431.18 394.99Z" fill="#c43c50" fill-opacity="0.2"/>
<path d="M434.29 392.85Q434.57 393.98 434.3 395.11Q434.03 396.25 432.87 396.61Q431.72 396.98 430.67 396.19Q429.62 395.4 429.6 393.97Q429.59 392.54 430.76 392.27Q431.93 392 432.97 391.86Q434.01 391.73 434.29 392.85Z" fill="#c43c50" fill-opacity="0.2"/>
<path d="M433.34 395.11Q433.66 396.04 433.42 397.08Q433.18 398.12 432.2 398.07Q431.23 398.02 430.01 397.77Q428.8 397.52 428.85 396.06Q428.9 394.61 429.99 393.97Q431.07 393.33 432.04 393.76Q433.02 394.18 433.34 395.11Z" fill="#c43c50" fill-opacity="0.2"/>
<path d="M435.11 395.64Q436.02 396.48 435.43 397.75Q434.83 399.03 433.61 399.08Q432.39 399.12 431.6 398.36Q430.81 397.59 430.69 396.41Q430.56 395.24 431.49 394.6Q432.42 393.95 433.3 394.37Q434.19 394.8 435.11 395.64Z" fill="#c43c50" fill-opacity="0.2"/>
<path d="M430.63 397.61Q430.76 398.25 430.53 398.76Q430.3 399.27 429.71 399.71Q429.12 400.14 428.66 399.53Q428.2 398.93 428.08 398.19Q427.97 397.45 428.56 396.99Q429.16 396.53 429.82 396.75Q430.49 396.98 430.63 397.61Z" fill="#f6e4d8" fill-opacity="0.8"/>
<path d="M434.96 393.18Q435.29 393.81 434.92 394.39Q434.55 394.96 433.91 395.33Q433.28 395.7 432.82 395.09Q432.36 394.48 432.32 393.79Q432.28 393.09 432.77 392.44Q433.25 391.79 433.94 392.17Q434.63 392.55 434.96 393.18Z" fill="#f6e4d8" fill-opacity="0.8"/>
<path d="M432.17 398.28Q432.34 398.91 432.09 399.43Q431.83 399.95 431.28 400.16Q430.73 400.38 430.01 400.1Q429.28 399.82 429.34 398.95Q429.41 398.08 430.07 397.75Q430.73 397.43 431.37 397.54Q432 397.65 432.17 398.28Z" fill="#f6e4d8" fill-opacity="0.8"/>
<path d="M429.76 395.2Q430 395.7 429.97 396.49Q429.95 397.28 429.12 397.58Q428.3 397.88 427.56 397.29Q426.82 396.7 426.92 395.76Q427.02 394.81 427.65 394.14Q428.28 393.47 428.9 394.09Q429.52 394.7 429.76 395.2Z" fill="#f6e4d8" fill-opacity="0.8"/>
</g></g></g>
<clipPath id="tc5"><path d="M469.07 395.8Q469.47 397.5 468.9 399.09Q468.32 400.67 466.54 401.56Q464.77 402.45 462.62 402.27Q460.46 402.09 459.25 400.64Q458.04 399.19 457.85 397.44Q457.66 395.7 459.56 395.02Q461.47 394.34 463.06 393.73Q464.64 393.13 466.65 393.61Q468.66 394.09 469.07 395.8Z"/></clipPath>
<g filter="url(#b05)">
<path d="M469.07 395.8Q469.47 397.5 468.9 399.09Q468.32 400.67 466.54 401.56Q464.77 402.45 462.62 402.27Q460.46 402.09 459.25 400.64Q458.04 399.19 457.85 397.44Q457.66 395.7 459.56 395.02Q461.47 394.34 463.06 393.73Q464.64 393.13 466.65 393.61Q468.66 394.09 469.07 395.8Z" fill="#e8c4b0"/>
<g clip-path="url(#tc5)"><g filter="url(#b08)">
<path d="M466.37 398.83Q466.71 399.48 466.5 400.26Q466.28 401.04 465.18 401.1Q464.08 401.16 463.07 400.77Q462.06 400.39 462.04 399.48Q462.01 398.57 463.09 398.33Q464.17 398.09 465.1 398.13Q466.02 398.17 466.37 398.83Z" fill="#c43c50" fill-opacity="0.12"/>
<path d="M464.56 399.01Q465.55 399.56 464.64 400.19Q463.73 400.82 462.69 401.35Q461.64 401.89 461.04 401.07Q460.43 400.25 460.07 399.43Q459.71 398.62 460.8 398.32Q461.89 398.03 462.73 398.24Q463.57 398.45 464.56 399.01Z" fill="#c43c50" fill-opacity="0.12"/>
<path d="M468.04 395.19Q468.23 396.06 468.19 397.08Q468.16 398.1 466.68 398.29Q465.2 398.48 464.49 397.65Q463.78 396.83 463.28 395.88Q462.78 394.94 464.05 394.49Q465.32 394.04 466.58 394.18Q467.84 394.31 468.04 395.19Z" fill="#c43c50" fill-opacity="0.12"/>
<path d="M464.12 399.06Q464.98 399.68 464.54 400.7Q464.11 401.71 462.63 401.92Q461.16 402.12 460.45 401.29Q459.74 400.46 459.69 399.67Q459.64 398.88 460.53 398.49Q461.42 398.1 462.34 398.27Q463.26 398.44 464.12 399.06Z" fill="#c43c50" fill-opacity="0.12"/>
<path d="M462.4 395.91Q462.82 396.43 462.23 396.8Q461.65 397.17 461.01 397.53Q460.37 397.88 459.84 397.42Q459.31 396.96 459.32 396.43Q459.34 395.91 459.84 395.38Q460.33 394.86 461.16 395.12Q461.98 395.38 462.4 395.91Z" fill="#f6e4d8" fill-opacity="0.8"/>
<path d="M463.95 397.02Q464.58 397.4 463.96 397.79Q463.34 398.17 462.64 398.63Q461.95 399.09 461.62 398.45Q461.28 397.82 460.91 397.27Q460.55 396.73 461.26 396.27Q461.98 395.81 462.65 396.23Q463.31 396.65 463.95 397.02Z" fill="#f6e4d8" fill-opacity="0.8"/>
<path d="M467.25 396.17Q467.56 396.78 466.99 397.15Q466.42 397.52 465.86 397.63Q465.3 397.74 464.77 397.49Q464.24 397.25 463.85 396.64Q463.45 396.03 464.36 395.87Q465.26 395.7 466.1 395.63Q466.94 395.56 467.25 396.17Z" fill="#f6e4d8" fill-opacity="0.8"/>
<path d="M468.07 399.27Q468.23 399.89 467.92 400.37Q467.6 400.85 466.86 401.04Q466.11 401.22 465.34 400.9Q464.57 400.57 464.91 400Q465.25 399.44 465.65 398.91Q466.06 398.37 466.98 398.51Q467.91 398.64 468.07 399.27Z" fill="#f6e4d8" fill-opacity="0.8"/>
</g></g></g>
<clipPath id="tc6"><path d="M511.69 399.51Q513.09 401.1 512.19 402.99Q511.28 404.87 508.81 405.53Q506.33 406.19 504.1 405.68Q501.87 405.17 500.79 403.85Q499.72 402.52 498.83 400.86Q497.94 399.21 499.76 397.93Q501.57 396.65 504.02 396.05Q506.47 395.45 508.38 396.69Q510.3 397.93 511.69 399.51Z"/></clipPath>
<g filter="url(#b05)">
<path d="M511.69 399.51Q513.09 401.1 512.19 402.99Q511.28 404.87 508.81 405.53Q506.33 406.19 504.1 405.68Q501.87 405.17 500.79 403.85Q499.72 402.52 498.83 400.86Q497.94 399.21 499.76 397.93Q501.57 396.65 504.02 396.05Q506.47 395.45 508.38 396.69Q510.3 397.93 511.69 399.51Z" fill="#e3aea6"/>
<g clip-path="url(#tc6)"><g filter="url(#b08)">
<path d="M510.49 398.86Q511.45 399.8 510.6 400.84Q509.76 401.88 508.12 401.92Q506.47 401.96 505.2 401.4Q503.93 400.84 503.79 399.76Q503.65 398.67 505.11 398.31Q506.58 397.94 508.05 397.93Q509.53 397.91 510.49 398.86Z" fill="#c43c50" fill-opacity="0.65"/>
<path d="M510.93 398.68Q511.73 399.76 510.85 400.78Q509.98 401.79 508.26 402.15Q506.54 402.51 505.57 401.59Q504.6 400.67 504.83 399.83Q505.07 398.99 505.81 398.03Q506.56 397.07 508.35 397.33Q510.14 397.59 510.93 398.68Z" fill="#c43c50" fill-opacity="0.65"/>
<path d="M507.35 397.78Q507.59 398.78 507.34 399.77Q507.08 400.75 505.53 400.76Q503.97 400.77 502.27 400.42Q500.58 400.07 500.93 398.89Q501.28 397.71 502.65 397.31Q504.02 396.9 505.56 396.84Q507.11 396.78 507.35 397.78Z" fill="#c43c50" fill-opacity="0.65"/>
<path d="M507.03 402.92Q508.46 403.58 507.35 404.5Q506.25 405.42 504.69 405.74Q503.14 406.05 501.77 405.38Q500.4 404.71 500.29 403.54Q500.19 402.37 501.58 401.51Q502.98 400.64 504.29 401.45Q505.6 402.26 507.03 402.92Z" fill="#c43c50" fill-opacity="0.65"/>
<path d="M505.82 401.07Q506.06 401.73 505.78 402.38Q505.51 403.02 504.51 402.95Q503.5 402.88 502.36 402.72Q501.22 402.57 501.45 401.81Q501.69 401.05 502.59 400.81Q503.49 400.56 504.53 400.48Q505.57 400.4 505.82 401.07Z" fill="#f6e4d8" fill-opacity="0.8"/>
<path d="M505.58 398.49Q505.9 399.2 505.29 399.68Q504.68 400.16 503.86 400.31Q503.04 400.46 501.93 400.25Q500.82 400.03 500.93 399.24Q501.04 398.45 502.07 398.29Q503.11 398.13 504.18 397.95Q505.26 397.78 505.58 398.49Z" fill="#f6e4d8" fill-opacity="0.8"/>
<path d="M503.45 399.26Q503.98 400.06 503.28 400.71Q502.58 401.37 501.53 401.38Q500.48 401.4 499.7 401.04Q498.93 400.68 498.92 400.05Q498.91 399.43 499.72 399.15Q500.54 398.88 501.73 398.67Q502.93 398.47 503.45 399.26Z" fill="#f6e4d8" fill-opacity="0.8"/>
<path d="M503.5 399.95Q504.06 400.62 503.38 401.19Q502.69 401.76 501.63 402.17Q500.57 402.58 500 401.89Q499.42 401.19 498.93 400.47Q498.45 399.75 499.53 399.24Q500.6 398.74 501.77 399.01Q502.94 399.27 503.5 399.95Z" fill="#f6e4d8" fill-opacity="0.8"/>
</g></g></g>
<clipPath id="tc7"><path d="M434.15 419.43Q435.04 421 434.25 422.66Q433.46 424.32 432.07 425.79Q430.68 427.27 428.93 426.29Q427.18 425.31 425.6 424.19Q424.02 423.08 424.21 421.07Q424.4 419.06 425.8 417.89Q427.19 416.72 428.91 415.9Q430.62 415.07 431.94 416.47Q433.25 417.86 434.15 419.43Z"/></clipPath>
<g filter="url(#b05)">
<path d="M434.15 419.43Q435.04 421 434.25 422.66Q433.46 424.32 432.07 425.79Q430.68 427.27 428.93 426.29Q427.18 425.31 425.6 424.19Q424.02 423.08 424.21 421.07Q424.4 419.06 425.8 417.89Q427.19 416.72 428.91 415.9Q430.62 415.07 431.94 416.47Q433.25 417.86 434.15 419.43Z" fill="#e0a4a0"/>
<g clip-path="url(#tc7)"><g filter="url(#b08)">
<path d="M431.43 416.82Q431.38 418.16 431.15 419.17Q430.91 420.18 429.65 420.74Q428.39 421.31 427.76 420.19Q427.13 419.07 427.05 418.13Q426.98 417.18 427.72 416.26Q428.47 415.33 429.98 415.41Q431.49 415.48 431.43 416.82Z" fill="#c43c50" fill-opacity="0.3"/>
<path d="M432.78 419.38Q433.86 420.32 432.64 421.09Q431.42 421.85 430.36 422.69Q429.31 423.52 428.55 422.43Q427.79 421.34 427.91 420.37Q428.02 419.4 428.81 418.84Q429.59 418.29 430.65 418.37Q431.71 418.45 432.78 419.38Z" fill="#c43c50" fill-opacity="0.3"/>
<path d="M433.92 418.02Q434.7 418.89 434.16 420.04Q433.61 421.18 432.32 421.25Q431.03 421.32 429.98 420.71Q428.92 420.1 429.31 419.06Q429.69 418.03 430.42 417.49Q431.16 416.96 432.15 417.06Q433.14 417.15 433.92 418.02Z" fill="#c43c50" fill-opacity="0.3"/>
<path d="M432.83 419.63Q433.36 420.52 433.02 421.63Q432.68 422.74 431.4 422.91Q430.13 423.08 429.29 422.32Q428.44 421.55 428.05 420.35Q427.66 419.14 428.85 418.36Q430.03 417.58 431.17 418.16Q432.3 418.74 432.83 419.63Z" fill="#c43c50" fill-opacity="0.3"/>
<path d="M432.06 420.37Q432.56 421.18 432.05 421.98Q431.53 422.78 430.63 422.75Q429.74 422.71 428.78 422.45Q427.81 422.19 428.28 421.38Q428.74 420.58 429.22 420.05Q429.7 419.51 430.63 419.53Q431.55 419.56 432.06 420.37Z" fill="#f6e4d8" fill-opacity="0.8"/>
<path d="M428.57 420.13Q428.6 420.92 428.56 421.7Q428.52 422.47 427.58 422.71Q426.64 422.95 425.97 422.34Q425.29 421.74 425.12 420.85Q424.96 419.96 425.86 419.66Q426.76 419.36 427.65 419.36Q428.54 419.35 428.57 420.13Z" fill="#f6e4d8" fill-opacity="0.8"/>
<path d="M431.93 420.79Q432.2 421.58 431.98 422.42Q431.76 423.27 430.73 423.53Q429.7 423.8 429.1 423.07Q428.5 422.34 428.4 421.53Q428.29 420.72 429.12 420.5Q429.94 420.28 430.79 420.14Q431.65 420 431.93 420.79Z" fill="#f6e4d8" fill-opacity="0.8"/>
<path d="M432.32 423.99Q433.01 424.55 432.36 425.16Q431.71 425.78 430.97 425.98Q430.22 426.18 429.44 425.8Q428.66 425.41 429.01 424.7Q429.35 423.99 429.78 423.41Q430.2 422.84 430.91 423.13Q431.63 423.42 432.32 423.99Z" fill="#f6e4d8" fill-opacity="0.8"/>
</g></g></g>
<clipPath id="tc8"><path d="M470.16 420.09Q470.41 422.2 470.46 424.56Q470.52 426.92 468.12 427.16Q465.73 427.39 463.56 427.7Q461.39 428.01 460.63 425.99Q459.86 423.97 459.67 422.13Q459.48 420.29 460.25 418.03Q461.02 415.76 463.39 416.28Q465.77 416.8 467.83 417.4Q469.9 417.99 470.16 420.09Z"/></clipPath>
<g filter="url(#b05)">
<path d="M470.16 420.09Q470.41 422.2 470.46 424.56Q470.52 426.92 468.12 427.16Q465.73 427.39 463.56 427.7Q461.39 428.01 460.63 425.99Q459.86 423.97 459.67 422.13Q459.48 420.29 460.25 418.03Q461.02 415.76 463.39 416.28Q465.77 416.8 467.83 417.4Q469.9 417.99 470.16 420.09Z" fill="#e3aea6"/>
<g clip-path="url(#tc8)"><g filter="url(#b08)">
<path d="M466.93 420.94Q467.66 421.88 466.89 422.77Q466.12 423.66 464.9 424.4Q463.68 425.14 463.03 423.97Q462.38 422.79 462.25 421.83Q462.13 420.86 463.07 420.4Q464.02 419.94 465.11 419.97Q466.21 420 466.93 420.94Z" fill="#c43c50" fill-opacity="0.45"/>
<path d="M466.53 423.93Q467.08 424.94 466.38 425.78Q465.67 426.62 464.61 426.94Q463.56 427.27 462.02 426.89Q460.48 426.51 461.28 425.28Q462.07 424.05 462.74 423.04Q463.41 422.03 464.69 422.47Q465.98 422.92 466.53 423.93Z" fill="#c43c50" fill-opacity="0.45"/>
<path d="M468.4 420.29Q469.43 421.1 468.65 422.19Q467.88 423.28 466.51 423.67Q465.15 424.06 463.77 423.33Q462.39 422.6 462.67 421.21Q462.94 419.83 464.15 419.4Q465.36 418.96 466.36 419.22Q467.37 419.49 468.4 420.29Z" fill="#c43c50" fill-opacity="0.45"/>
<path d="M470.07 421.13Q470.46 422.12 470.42 423.51Q470.38 424.89 468.77 424.93Q467.16 424.97 465.91 424.24Q464.66 423.5 464.53 422.07Q464.4 420.64 465.84 420.19Q467.28 419.75 468.48 419.94Q469.69 420.13 470.07 421.13Z" fill="#c43c50" fill-opacity="0.45"/>
<path d="M469.57 418.76Q470.14 419.48 469.41 420.04Q468.67 420.59 467.9 421.05Q467.13 421.5 466.31 420.95Q465.49 420.39 465.35 419.42Q465.21 418.46 466.15 417.88Q467.08 417.3 468.04 417.66Q469 418.03 469.57 418.76Z" fill="#f6e4d8" fill-opacity="0.8"/>
<path d="M464.16 418.99Q464.69 419.6 464.28 420.33Q463.86 421.06 463.01 421Q462.16 420.94 461.14 420.77Q460.12 420.6 460.35 419.69Q460.58 418.79 461.28 418.18Q461.98 417.56 462.8 417.98Q463.63 418.39 464.16 418.99Z" fill="#f6e4d8" fill-opacity="0.8"/>
<path d="M464.37 417.98Q464.8 418.57 464.41 419.19Q464.01 419.82 463.21 420.06Q462.41 420.3 461.74 419.81Q461.08 419.32 460.81 418.46Q460.55 417.6 461.41 416.96Q462.28 416.33 463.11 416.86Q463.94 417.4 464.37 417.98Z" fill="#f6e4d8" fill-opacity="0.8"/>
<path d="M465.97 418.87Q466.37 419.72 466.05 420.65Q465.73 421.58 464.68 421.4Q463.62 421.21 462.7 420.93Q461.78 420.65 462.05 419.83Q462.32 419.01 463 418.72Q463.68 418.43 464.62 418.23Q465.56 418.03 465.97 418.87Z" fill="#f6e4d8" fill-opacity="0.8"/>
</g></g></g>
<clipPath id="tc9"><path d="M508.99 418.7Q509.57 421 508.84 423.14Q508.11 425.27 506.47 426.08Q504.84 426.9 502.8 427.42Q500.76 427.95 500.25 425.44Q499.74 422.92 499.21 420.76Q498.68 418.6 499.7 416.29Q500.72 413.97 502.77 414.62Q504.82 415.26 506.62 415.83Q508.42 416.4 508.99 418.7Z"/></clipPath>
<g filter="url(#b05)">
<path d="M508.99 418.7Q509.57 421 508.84 423.14Q508.11 425.27 506.47 426.08Q504.84 426.9 502.8 427.42Q500.76 427.95 500.25 425.44Q499.74 422.92 499.21 420.76Q498.68 418.6 499.7 416.29Q500.72 413.97 502.77 414.62Q504.82 415.26 506.62 415.83Q508.42 416.4 508.99 418.7Z" fill="#e3aea6"/>
<g clip-path="url(#tc9)"><g filter="url(#b08)">
<path d="M506.71 416.52Q507.34 417.46 507.02 418.85Q506.7 420.23 505.41 420.34Q504.11 420.45 502.98 419.73Q501.84 419.02 502.27 417.7Q502.7 416.38 503.45 415.63Q504.2 414.88 505.14 415.23Q506.08 415.58 506.71 416.52Z" fill="#c43c50" fill-opacity="0.4"/>
<path d="M506.5 422.9Q507.02 424.26 506.55 425.7Q506.09 427.13 504.77 427.13Q503.45 427.12 502.29 426.48Q501.12 425.83 501.61 424.53Q502.1 423.22 502.8 422.4Q503.49 421.58 504.74 421.56Q505.98 421.54 506.5 422.9Z" fill="#c43c50" fill-opacity="0.4"/>
<path d="M507.55 418.88Q507.53 420.4 507.22 421.46Q506.92 422.52 505.9 422.72Q504.88 422.93 504.04 422.26Q503.19 421.58 502.79 420.18Q502.38 418.78 503.64 418.33Q504.89 417.88 506.23 417.62Q507.57 417.36 507.55 418.88Z" fill="#c43c50" fill-opacity="0.4"/>
<path d="M508.6 416.27Q508.98 417.57 508.54 418.8Q508.11 420.02 507.01 419.89Q505.91 419.76 504.92 419.32Q503.93 418.88 503.56 417.37Q503.19 415.87 504.53 415.54Q505.88 415.22 507.05 415.09Q508.22 414.97 508.6 416.27Z" fill="#c43c50" fill-opacity="0.4"/>
<path d="M503.07 421.04Q503.81 421.66 503.11 422.34Q502.42 423.01 501.77 423.06Q501.13 423.1 500.63 422.72Q500.13 422.34 499.9 421.54Q499.66 420.73 500.39 420.47Q501.13 420.21 501.73 420.32Q502.33 420.43 503.07 421.04Z" fill="#f6e4d8" fill-opacity="0.8"/>
<path d="M505.53 423.66Q505.81 424.54 505.45 425.31Q505.1 426.08 504.31 426.42Q503.51 426.75 503.09 425.99Q502.67 425.22 502.42 424.4Q502.16 423.58 502.9 423.24Q503.63 422.89 504.44 422.84Q505.25 422.79 505.53 423.66Z" fill="#f6e4d8" fill-opacity="0.8"/>
<path d="M508.56 416.62Q509.09 417.26 508.74 418.13Q508.38 419 507.58 418.94Q506.77 418.87 506.19 418.46Q505.62 418.04 505.24 417.06Q504.86 416.07 505.71 415.33Q506.55 414.6 507.29 415.29Q508.03 415.99 508.56 416.62Z" fill="#f6e4d8" fill-opacity="0.8"/>
<path d="M506.9 423.83Q507.01 424.79 506.84 425.66Q506.67 426.54 505.88 426.41Q505.08 426.27 504.44 425.95Q503.8 425.63 503.64 424.7Q503.48 423.78 504.21 423.21Q504.94 422.63 505.87 422.75Q506.79 422.88 506.9 423.83Z" fill="#f6e4d8" fill-opacity="0.8"/>
</g></g></g>
<clipPath id="tc10"><path d="M433.75 454.06Q434.2 455.4 433.7 456.7Q433.2 457.99 432.22 458.8Q431.23 459.61 430.14 459.09Q429.06 458.57 427.98 457.78Q426.9 457 426.89 455.4Q426.89 453.8 427.81 452.69Q428.74 451.59 429.93 451.73Q431.13 451.87 432.21 452.29Q433.3 452.71 433.75 454.06Z"/></clipPath>
<g filter="url(#b05)">
<path d="M433.75 454.06Q434.2 455.4 433.7 456.7Q433.2 457.99 432.22 458.8Q431.23 459.61 430.14 459.09Q429.06 458.57 427.98 457.78Q426.9 457 426.89 455.4Q426.89 453.8 427.81 452.69Q428.74 451.59 429.93 451.73Q431.13 451.87 432.21 452.29Q433.3 452.71 433.75 454.06Z" fill="#ecc4b4"/>
<g clip-path="url(#tc10)"><g filter="url(#b08)">
<path d="M431.52 453.62Q432.16 454.26 431.76 455.21Q431.35 456.15 430.5 455.87Q429.65 455.58 428.84 455.41Q428.02 455.24 428.14 454.32Q428.26 453.4 428.92 452.98Q429.58 452.57 430.23 452.78Q430.89 452.99 431.52 453.62Z" fill="#c43c50" fill-opacity="0.08"/>
<path d="M432.83 454.42Q433.22 455.2 432.84 456Q432.47 456.8 431.72 456.71Q430.97 456.62 430.21 456.38Q429.44 456.14 429.34 455.15Q429.24 454.16 430.01 453.51Q430.77 452.87 431.61 453.26Q432.44 453.64 432.83 454.42Z" fill="#c43c50" fill-opacity="0.08"/>
<path d="M430.09 452.38Q430.21 453.14 430.22 454.06Q430.23 454.98 429.36 454.86Q428.5 454.74 427.95 454.31Q427.4 453.88 427.14 453.01Q426.89 452.13 427.7 451.83Q428.5 451.52 429.23 451.58Q429.97 451.63 430.09 452.38Z" fill="#c43c50" fill-opacity="0.08"/>
<path d="M431.82 452.69Q432.19 453.41 431.93 454.29Q431.67 455.18 430.86 455.02Q430.04 454.86 429.54 454.47Q429.04 454.09 428.95 453.37Q428.86 452.65 429.47 452.37Q430.07 452.1 430.76 452.03Q431.44 451.96 431.82 452.69Z" fill="#c43c50" fill-opacity="0.08"/>
<path d="M432.83 455.81Q433.15 456.19 432.99 456.78Q432.84 457.37 432.28 457.26Q431.73 457.14 431.27 456.95Q430.82 456.75 430.88 456.22Q430.94 455.69 431.3 455.29Q431.65 454.9 432.08 455.17Q432.51 455.44 432.83 455.81Z" fill="#f6e4d8" fill-opacity="0.8"/>
<path d="M432.55 452.97Q432.71 453.39 432.67 453.97Q432.64 454.54 432.03 454.74Q431.42 454.93 431.07 454.42Q430.73 453.91 430.73 453.39Q430.74 452.88 431.14 452.62Q431.53 452.36 431.97 452.46Q432.4 452.55 432.55 452.97Z" fill="#f6e4d8" fill-opacity="0.8"/>
<path d="M431.92 453.32Q432.01 453.8 431.91 454.27Q431.81 454.75 431.35 454.76Q430.88 454.77 430.4 454.58Q429.92 454.39 429.87 453.77Q429.81 453.15 430.3 452.77Q430.78 452.38 431.3 452.61Q431.83 452.84 431.92 453.32Z" fill="#f6e4d8" fill-opacity="0.8"/>
<path d="M430.77 454.56Q430.8 455.07 430.8 455.62Q430.8 456.17 430.26 456.17Q429.72 456.17 429.36 455.86Q429 455.56 429.08 455.11Q429.16 454.67 429.43 454.28Q429.7 453.9 430.22 453.98Q430.74 454.05 430.77 454.56Z" fill="#f6e4d8" fill-opacity="0.8"/>
</g></g></g>
<clipPath id="tc11"><path d="M468.56 454.1Q469 455.6 468.5 457.06Q468 458.53 466.52 459.63Q465.04 460.73 463.26 460.06Q461.49 459.4 460.34 458.26Q459.19 457.13 459.12 455.58Q459.04 454.02 460.41 453.13Q461.77 452.23 463.33 451.71Q464.89 451.2 466.5 451.89Q468.11 452.59 468.56 454.1Z"/></clipPath>
<g filter="url(#b05)">
<path d="M468.56 454.1Q469 455.6 468.5 457.06Q468 458.53 466.52 459.63Q465.04 460.73 463.26 460.06Q461.49 459.4 460.34 458.26Q459.19 457.13 459.12 455.58Q459.04 454.02 460.41 453.13Q461.77 452.23 463.33 451.71Q464.89 451.2 466.5 451.89Q468.11 452.59 468.56 454.1Z" fill="#ebc2b0"/>
<g clip-path="url(#tc11)"><g filter="url(#b08)">
<path d="M467.78 452.61Q467.89 453.61 467.37 454.2Q466.84 454.79 465.91 455.36Q464.97 455.93 464.03 455.26Q463.08 454.58 463.53 453.78Q463.98 452.98 464.44 452.04Q464.91 451.1 466.29 451.35Q467.68 451.61 467.78 452.61Z" fill="#c43c50" fill-opacity="0.12"/>
<path d="M466.45 455.6Q466.89 456.17 466.44 456.72Q465.99 457.28 465.14 457.71Q464.29 458.15 463.73 457.48Q463.17 456.8 463.08 456.13Q462.99 455.46 463.69 454.99Q464.38 454.52 465.19 454.78Q466.01 455.04 466.45 455.6Z" fill="#c43c50" fill-opacity="0.12"/>
<path d="M466.02 454.63Q466.87 455.31 466.14 456.1Q465.41 456.89 464.29 457.16Q463.18 457.43 462.34 456.8Q461.5 456.18 461.39 455.27Q461.28 454.36 462.26 453.88Q463.24 453.41 464.21 453.68Q465.18 453.95 466.02 454.63Z" fill="#c43c50" fill-opacity="0.12"/>
<path d="M469.25 457.12Q469.86 458.03 469.22 458.91Q468.58 459.79 467.43 459.77Q466.29 459.76 465.58 459.26Q464.87 458.75 464.83 458.01Q464.79 457.27 465.58 456.92Q466.37 456.58 467.5 456.39Q468.64 456.21 469.25 457.12Z" fill="#c43c50" fill-opacity="0.12"/>
<path d="M464.73 456.94Q465.01 457.45 464.89 458.12Q464.77 458.78 463.85 458.9Q462.92 459.02 462.61 458.44Q462.3 457.86 462.2 457.41Q462.1 456.97 462.5 456.4Q462.91 455.83 463.68 456.13Q464.45 456.43 464.73 456.94Z" fill="#f6e4d8" fill-opacity="0.8"/>
<path d="M468.28 454.39Q468.23 455.05 468.17 455.61Q468.1 456.18 467.3 456.37Q466.49 456.57 466.04 456.06Q465.59 455.55 465.68 455.08Q465.76 454.62 466.18 454.25Q466.59 453.88 467.46 453.8Q468.32 453.72 468.28 454.39Z" fill="#f6e4d8" fill-opacity="0.8"/>
<path d="M466.84 453.05Q467.05 453.56 466.73 453.96Q466.4 454.35 465.85 454.44Q465.3 454.52 464.52 454.38Q463.74 454.24 464.03 453.67Q464.32 453.09 464.75 452.65Q465.18 452.21 465.9 452.38Q466.63 452.55 466.84 453.05Z" fill="#f6e4d8" fill-opacity="0.8"/>
<path d="M463.48 456.17Q463.46 456.84 463.37 457.41Q463.28 457.97 462.55 457.91Q461.81 457.84 461.21 457.62Q460.62 457.39 460.72 456.87Q460.81 456.36 461.29 456.04Q461.77 455.72 462.63 455.61Q463.49 455.5 463.48 456.17Z" fill="#f6e4d8" fill-opacity="0.8"/>
</g></g></g>
<clipPath id="tc12"><path d="M506.86 455.09Q507.16 456.3 506.84 457.5Q506.51 458.69 505.35 459.33Q504.19 459.98 503.05 459.44Q501.91 458.9 501.31 458.08Q500.7 457.26 500.45 456.21Q500.2 455.16 501.01 454.35Q501.82 453.54 503.02 452.98Q504.22 452.43 505.39 453.15Q506.55 453.88 506.86 455.09Z"/></clipPath>
<g filter="url(#b05)">
<path d="M506.86 455.09Q507.16 456.3 506.84 457.5Q506.51 458.69 505.35 459.33Q504.19 459.98 503.05 459.44Q501.91 458.9 501.31 458.08Q500.7 457.26 500.45 456.21Q500.2 455.16 501.01 454.35Q501.82 453.54 503.02 452.98Q504.22 452.43 505.39 453.15Q506.55 453.88 506.86 455.09Z" fill="#efd0b8"/>
<g clip-path="url(#tc12)"><g filter="url(#b08)">
<path d="M505.61 455.79Q505.94 456.52 505.38 457.01Q504.82 457.49 504.17 457.75Q503.52 458 503.05 457.54Q502.58 457.07 502.21 456.37Q501.84 455.67 502.73 455.53Q503.61 455.39 504.45 455.23Q505.29 455.06 505.61 455.79Z" fill="#c43c50" fill-opacity="0.05"/>
<path d="M503.18 456.4Q503.44 457.02 503.15 457.6Q502.86 458.18 502.06 458.53Q501.27 458.87 500.93 458.19Q500.58 457.51 500.56 457.01Q500.54 456.52 500.9 455.81Q501.25 455.1 502.09 455.44Q502.93 455.78 503.18 456.4Z" fill="#c43c50" fill-opacity="0.05"/>
<path d="M503.47 457.68Q504.18 458.18 503.45 458.65Q502.72 459.12 502.08 459.38Q501.44 459.64 500.99 459.17Q500.53 458.71 500.44 458.14Q500.36 457.57 500.87 457.05Q501.39 456.53 502.07 456.86Q502.76 457.19 503.47 457.68Z" fill="#c43c50" fill-opacity="0.05"/>
<path d="M505.58 454Q505.79 454.57 505.73 455.31Q505.67 456.04 504.79 456.03Q503.91 456.02 503.31 455.62Q502.72 455.22 502.63 454.54Q502.54 453.85 503.22 453.45Q503.9 453.06 504.63 453.24Q505.37 453.43 505.58 454Z" fill="#c43c50" fill-opacity="0.05"/>
<path d="M502.65 456.8Q503.03 457.25 502.73 457.78Q502.42 458.31 501.77 458.34Q501.11 458.37 500.74 458.02Q500.38 457.67 500.38 457.25Q500.38 456.83 500.74 456.47Q501.1 456.11 501.69 456.23Q502.28 456.34 502.65 456.8Z" fill="#f6e4d8" fill-opacity="0.8"/>
<path d="M502.74 454.79Q502.94 455.19 502.76 455.6Q502.58 456.01 502.01 456.21Q501.45 456.4 501.05 456.02Q500.65 455.64 500.81 455.25Q500.97 454.86 501.21 454.41Q501.45 453.97 501.99 454.18Q502.54 454.4 502.74 454.79Z" fill="#f6e4d8" fill-opacity="0.8"/>
<path d="M504.62 454.67Q504.79 455.13 504.55 455.52Q504.32 455.9 503.79 456.11Q503.26 456.32 502.99 455.9Q502.72 455.48 502.57 455.07Q502.42 454.66 502.89 454.49Q503.36 454.31 503.91 454.26Q504.46 454.22 504.62 454.67Z" fill="#f6e4d8" fill-opacity="0.8"/>
<path d="M502.4 454.96Q502.58 455.36 502.44 455.81Q502.29 456.25 501.77 456.18Q501.24 456.11 500.79 455.96Q500.34 455.81 500.42 455.4Q500.51 454.99 500.85 454.73Q501.2 454.47 501.71 454.51Q502.22 454.55 502.4 454.96Z" fill="#f6e4d8" fill-opacity="0.8"/>
</g></g></g>
<text x="405.2" y="371" font-size="6.9" font-weight="normal" text-anchor="end" fill="#000" transform="rotate(0.06 405.2 371)" font-family='"Noto Sans CJK SC", "Liberation Sans", sans-serif'>DMSO</text>
<text x="405.2" y="397.6" font-size="6.9" font-weight="normal" text-anchor="end" fill="#000" transform="rotate(0.06 405.2 397.6)" font-family='"Noto Sans CJK SC", "Liberation Sans", sans-serif'>Erastin</text>
<text x="405.2" y="424.2" font-size="6.9" font-weight="normal" text-anchor="end" fill="#000" transform="rotate(0.06 405.2 424.2)" font-family='"Noto Sans CJK SC", "Liberation Sans", sans-serif'>UNC1999</text>
<text x="405.2" y="457.6" font-size="6.9" font-weight="normal" text-anchor="end" fill="#000" transform="rotate(0.06 405.2 457.6)" font-family='"Noto Sans CJK SC", "Liberation Sans", sans-serif'>UNC1999+Erastin</text>
<rect x="622" y="448.82" width="13.9" height="16.68" fill="#1a1aff"/>
<rect x="642.3" y="419.13" width="13.9" height="46.37" fill="#ff2211"/>
<line x1="628.95" y1="448.49" x2="628.95" y2="448.82" stroke="#c8c8c8" stroke-width="0.6"/>
<line x1="625.15" y1="448.49" x2="632.75" y2="448.49" stroke="#c8c8c8" stroke-width="0.6"/>
<line x1="649.25" y1="406.12" x2="649.25" y2="419.13" stroke="#c8c8c8" stroke-width="0.6"/>
<line x1="645.45" y1="406.12" x2="653.05" y2="406.12" stroke="#c8c8c8" stroke-width="0.6"/>
<circle cx="627.95" cy="448.82" r="0.95" fill="#000"/>
<circle cx="628.95" cy="448.82" r="0.95" fill="#000"/>
<circle cx="629.95" cy="448.82" r="0.95" fill="#000"/>
<circle cx="649.25" cy="390.44" r="0.95" fill="#000"/>
<circle cx="649.25" cy="409.12" r="0.95" fill="#000"/>
<circle cx="649.25" cy="415.46" r="0.95" fill="#000"/>
<circle cx="649.25" cy="432.97" r="0.95" fill="#000"/>
<line x1="614.85" y1="465.5" x2="663" y2="465.5" stroke="#222" stroke-width="0.9"/>
<line x1="615.3" y1="381.7" x2="615.3" y2="465.9" stroke="#222" stroke-width="0.9"/>
<line x1="612.3" y1="465.5" x2="615.3" y2="465.5" stroke="#222" stroke-width="0.9"/>
<text x="612.4" y="468.15" font-size="6.4" font-weight="bold" text-anchor="end" fill="#111">0</text>
<line x1="612.3" y1="448.82" x2="615.3" y2="448.82" stroke="#222" stroke-width="0.9"/>
<text x="612.4" y="451.47" font-size="6.4" font-weight="bold" text-anchor="end" fill="#111">1</text>
<line x1="612.3" y1="432.14" x2="615.3" y2="432.14" stroke="#222" stroke-width="0.9"/>
<text x="612.4" y="434.79" font-size="6.4" font-weight="bold" text-anchor="end" fill="#111">2</text>
<line x1="612.3" y1="415.46" x2="615.3" y2="415.46" stroke="#222" stroke-width="0.9"/>
<text x="612.4" y="418.11" font-size="6.4" font-weight="bold" text-anchor="end" fill="#111">3</text>
<line x1="612.3" y1="398.78" x2="615.3" y2="398.78" stroke="#222" stroke-width="0.9"/>
<text x="612.4" y="401.43" font-size="6.4" font-weight="bold" text-anchor="end" fill="#111">4</text>
<line x1="612.3" y1="382.1" x2="615.3" y2="382.1" stroke="#222" stroke-width="0.9"/>
<text x="612.4" y="384.75" font-size="6.4" font-weight="bold" text-anchor="end" fill="#111">5</text>
<line x1="628.95" y1="465.5" x2="628.95" y2="468.1" stroke="#222" stroke-width="0.9"/>
<text x="630.55" y="473" font-size="6.4" font-weight="bold" text-anchor="end" fill="#111" transform="rotate(-45 630.55 473)">DMSO</text>
<line x1="649.25" y1="465.5" x2="649.25" y2="468.1" stroke="#222" stroke-width="0.9"/>
<text x="650.85" y="473" font-size="6.4" font-weight="bold" text-anchor="end" fill="#111" transform="rotate(-45 650.85 473)">UNC1999</text>
<text x="0" y="0" font-size="8" font-weight="bold" text-anchor="middle" fill="#111"></text>
<text x="602.3" y="423.8" font-size="6.9" font-weight="bold" text-anchor="middle" fill="#111" transform="rotate(-90 602.3 423.8)">Relative&#160; ACSL4 mRNA expression</text>
<clipPath id="wa62"><rect x="63" y="555.7" width="99" height="21.2"/></clipPath>
<clipPath id="wg62"><rect x="63" y="591.5" width="99" height="21.2"/></clipPath>
<rect x="62.6" y="555.3" width="99.8" height="22" fill="#fafafa" stroke="#222" stroke-width="0.7"/>
<rect x="62.6" y="591.1" width="99.8" height="22" fill="#fafafa" stroke="#222" stroke-width="0.7"/>
<text x="89.9" y="550.8" font-size="10.7" font-weight="500" text-anchor="middle" fill="#111" font-family='"Noto Sans CJK SC", "Liberation Sans", sans-serif'>DMSO</text>
<text x="134.1" y="550.8" font-size="10.7" font-weight="500" text-anchor="middle" fill="#111" font-family='"Noto Sans CJK SC", "Liberation Sans", sans-serif'>UNC1999</text>
<clipPath id="wa169"><rect x="169.4" y="555.7" width="98.7" height="21.2"/></clipPath>
<clipPath id="wg169"><rect x="169.4" y="591.5" width="98.7" height="21.2"/></clipPath>
<rect x="169" y="555.3" width="99.5" height="22" fill="#fafafa" stroke="#222" stroke-width="0.7"/>
<rect x="169" y="591.1" width="99.5" height="22" fill="#fafafa" stroke="#222" stroke-width="0.7"/>
<text x="200" y="550.8" font-size="10.7" font-weight="500" text-anchor="middle" fill="#111" font-family='"Noto Sans CJK SC", "Liberation Sans", sans-serif'>DMSO</text>
<text x="243.7" y="550.8" font-size="10.7" font-weight="500" text-anchor="middle" fill="#111" font-family='"Noto Sans CJK SC", "Liberation Sans", sans-serif'>UNC1999</text>
<clipPath id="wa275"><rect x="275.8" y="555.7" width="98.2" height="21.2"/></clipPath>
<clipPath id="wg275"><rect x="275.8" y="591.5" width="98.2" height="21.2"/></clipPath>
<rect x="275.4" y="555.3" width="99" height="22" fill="#fafafa" stroke="#222" stroke-width="0.7"/>
<rect x="275.4" y="591.1" width="99" height="22" fill="#fafafa" stroke="#222" stroke-width="0.7"/>
<text x="297.6" y="550.8" font-size="10.7" font-weight="500" text-anchor="middle" fill="#111" font-family='"Noto Sans CJK SC", "Liberation Sans", sans-serif'>DMSO</text>
<text x="342.1" y="550.8" font-size="10.7" font-weight="500" text-anchor="middle" fill="#111" font-family='"Noto Sans CJK SC", "Liberation Sans", sans-serif'>UNC1999</text>
<g clip-path="url(#wa62)">
<rect x="77.5" y="565.4" width="26" height="3.6" rx="1.8" fill="#000" fill-opacity="0.5" filter="url(#b1)"/>
<rect x="77.5" y="561" width="26" height="8" rx="2" fill="#000" fill-opacity="0.18" filter="url(#b2)"/>
<rect x="114" y="557.5" width="28" height="11.5" rx="2" fill="#000" fill-opacity="0.3" filter="url(#b2)"/>
<rect x="114.5" y="564.2" width="27" height="4.6" rx="2.3" fill="#000" fill-opacity="0.42" filter="url(#b1)"/>
<path d="M113.5 568L114.5 555Q127.75 566.5 141 555L142 568Z" fill="#000" fill-opacity="0.3" filter="url(#b2)"/>
</g><g clip-path="url(#wa169)">
<rect x="183" y="565.6" width="27" height="3.6" rx="1.8" fill="#000" fill-opacity="0.42" filter="url(#b1)"/>
<rect x="183" y="561" width="27" height="8" rx="2" fill="#000" fill-opacity="0.15" filter="url(#b2)"/>
<rect x="219" y="558" width="28" height="11.5" rx="2" fill="#000" fill-opacity="0.28" filter="url(#b2)"/>
<rect x="219.5" y="565.6" width="27" height="4" rx="2" fill="#000" fill-opacity="0.25" filter="url(#b1)"/>
<path d="M219 568L220 555.5Q233.25 566.5 246.5 555.5L247.5 568Z" fill="#000" fill-opacity="0.28" filter="url(#b2)"/>
</g><g clip-path="url(#wa275)">
<rect x="292" y="566.6" width="24" height="3.4" rx="1.7" fill="#000" fill-opacity="0.36" filter="url(#b1)"/>
<rect x="292" y="562" width="24" height="8" rx="2" fill="#000" fill-opacity="0.13" filter="url(#b2)"/>
<rect x="328" y="561" width="28" height="10" rx="2" fill="#000" fill-opacity="0.32" filter="url(#b2)"/>
<rect x="328.5" y="566.4" width="27" height="4.6" rx="2.3" fill="#000" fill-opacity="0.55" filter="url(#b1)"/>
<path d="M327.5 570L328.5 556.5Q342 568.5 355.5 556.5L356.5 570Z" fill="#000" fill-opacity="0.4" filter="url(#b2)"/>
</g>
<g clip-path="url(#wg62)">
<rect x="77.5" y="596.2" width="29.5" height="11.4" rx="5" fill="#000" fill-opacity="1" filter="url(#b1)"/>
<rect x="79" y="594" width="9" height="9" rx="4.5" fill="#000" fill-opacity="0.9" filter="url(#b1)"/>
<rect x="98" y="594" width="8" height="9" rx="4" fill="#000" fill-opacity="0.9" filter="url(#b1)"/>
<rect x="76" y="594" width="32" height="15" rx="3" fill="#000" fill-opacity="0.25" filter="url(#b2)"/>
<rect x="114" y="597.6" width="30.4" height="9.8" rx="4.5" fill="#000" fill-opacity="1" filter="url(#b1)"/>
<rect x="116" y="595.4" width="9" height="7.6" rx="3.8" fill="#000" fill-opacity="0.8" filter="url(#b1)"/>
<rect x="127" y="596.6" width="7" height="6.4" rx="3.2" fill="#000" fill-opacity="0.6" filter="url(#b1)"/>
<rect x="113" y="595" width="32.5" height="14" rx="3" fill="#000" fill-opacity="0.22" filter="url(#b2)"/>
</g><g clip-path="url(#wg169)">
<rect x="183.6" y="597" width="28.4" height="8.4" rx="4" fill="#000" fill-opacity="1" filter="url(#b1)"/>
<rect x="182" y="595" width="31.5" height="12.5" rx="3" fill="#000" fill-opacity="0.2" filter="url(#b2)"/>
<rect x="220.6" y="599" width="32.4" height="7.6" rx="3.8" fill="#000" fill-opacity="1" filter="url(#b1)"/>
<rect x="219" y="597" width="35.5" height="11.5" rx="3" fill="#000" fill-opacity="0.2" filter="url(#b2)"/>
</g><g clip-path="url(#wg275)">
<rect x="289" y="596" width="30" height="11.4" rx="4.5" fill="#000" fill-opacity="1" filter="url(#b1)"/>
<rect x="292" y="588" width="14" height="15" rx="4" fill="#000" fill-opacity="1" filter="url(#b1)"/>
<rect x="308" y="592.5" width="9" height="10.5" rx="3.5" fill="#000" fill-opacity="0.95" filter="url(#b1)"/>
<rect x="288" y="592" width="32.5" height="17" rx="3" fill="#000" fill-opacity="0.25" filter="url(#b2)"/>
<rect x="326.6" y="599.6" width="32.4" height="7.6" rx="3.8" fill="#000" fill-opacity="1" filter="url(#b1)"/>
<rect x="325" y="598" width="35.5" height="11" rx="3" fill="#000" fill-opacity="0.2" filter="url(#b2)"/>
</g>
<text x="58.6" y="570.5" font-size="13" font-weight="500" text-anchor="end" fill="#111" font-family='"Noto Sans CJK SC", "Liberation Sans", sans-serif'>ACSL4</text>
<text x="58" y="606.6" font-size="13" font-weight="500" text-anchor="end" fill="#111" font-family='"Noto Sans CJK SC", "Liberation Sans", sans-serif'>GAPDH</text>
<text x="110.5" y="628.1" font-size="13.2" font-weight="500" text-anchor="middle" fill="#111" font-family='"Noto Sans CJK SC", "Liberation Sans", sans-serif'>#1</text>
<text x="213.9" y="626.8" font-size="13.6" font-weight="500" text-anchor="middle" fill="#111" font-family='"Noto Sans CJK SC", "Liberation Sans", sans-serif'>#2</text>
<text x="326.2" y="628.2" font-size="13.6" font-weight="500" text-anchor="middle" fill="#111" font-family='"Noto Sans CJK SC", "Liberation Sans", sans-serif'>#3</text>
<text x="378.4" y="568.7" font-size="8.9" font-weight="500" text-anchor="start" fill="#111" font-family='"Noto Sans CJK SC", "Liberation Sans", sans-serif'>79</text>
<text x="378.4" y="605" font-size="8.9" font-weight="500" text-anchor="start" fill="#111" font-family='"Noto Sans CJK SC", "Liberation Sans", sans-serif'>37</text>
<line x1="464.7" y1="607.56" x2="464.7" y2="611.74" stroke="#cc33ff" stroke-width="0.7"/>
<line x1="462.8" y1="607.56" x2="466.6" y2="607.56" stroke="#cc33ff" stroke-width="0.7"/>
<line x1="462.8" y1="611.74" x2="466.6" y2="611.74" stroke="#cc33ff" stroke-width="0.7"/>
<line x1="493.6" y1="601.72" x2="493.6" y2="609.23" stroke="#cc33ff" stroke-width="0.7"/>
<line x1="491.7" y1="601.72" x2="495.5" y2="601.72" stroke="#cc33ff" stroke-width="0.7"/>
<line x1="491.7" y1="609.23" x2="495.5" y2="609.23" stroke="#cc33ff" stroke-width="0.7"/>
<line x1="522.5" y1="599.63" x2="522.5" y2="606.31" stroke="#cc33ff" stroke-width="0.7"/>
<line x1="520.6" y1="599.63" x2="524.4" y2="599.63" stroke="#cc33ff" stroke-width="0.7"/>
<line x1="520.6" y1="606.31" x2="524.4" y2="606.31" stroke="#cc33ff" stroke-width="0.7"/>
<line x1="551.4" y1="584.18" x2="551.4" y2="599.21" stroke="#cc33ff" stroke-width="0.7"/>
<line x1="549.5" y1="584.18" x2="553.3" y2="584.18" stroke="#cc33ff" stroke-width="0.7"/>
<line x1="549.5" y1="599.21" x2="553.3" y2="599.21" stroke="#cc33ff" stroke-width="0.7"/>
<polyline points="464.7,609.65 493.6,605.48 522.5,602.97 551.4,591.7" fill="none" stroke="#cc33ff" stroke-width="1.1"/>
<path d="M462.56 607.7L466.84 607.7L464.7 611.79Z" fill="#cc33ff"/>
<path d="M491.46 603.52L495.75 603.52L493.6 607.62Z" fill="#cc33ff"/>
<path d="M520.36 601.02L524.64 601.02L522.5 605.12Z" fill="#cc33ff"/>
<path d="M549.25 589.75L553.54 589.75L551.4 593.84Z" fill="#cc33ff"/>
<line x1="464.7" y1="610.9" x2="464.7" y2="613.41" stroke="#ff8822" stroke-width="0.7"/>
<line x1="462.8" y1="610.9" x2="466.6" y2="610.9" stroke="#ff8822" stroke-width="0.7"/>
<line x1="462.8" y1="613.41" x2="466.6" y2="613.41" stroke="#ff8822" stroke-width="0.7"/>
<line x1="493.6" y1="602.97" x2="493.6" y2="607.14" stroke="#ff8822" stroke-width="0.7"/>
<line x1="491.7" y1="602.97" x2="495.5" y2="602.97" stroke="#ff8822" stroke-width="0.7"/>
<line x1="491.7" y1="607.14" x2="495.5" y2="607.14" stroke="#ff8822" stroke-width="0.7"/>
<line x1="522.5" y1="596.29" x2="522.5" y2="602.13" stroke="#ff8822" stroke-width="0.7"/>
<line x1="520.6" y1="596.29" x2="524.4" y2="596.29" stroke="#ff8822" stroke-width="0.7"/>
<line x1="520.6" y1="602.13" x2="524.4" y2="602.13" stroke="#ff8822" stroke-width="0.7"/>
<line x1="551.4" y1="574.58" x2="551.4" y2="586.27" stroke="#ff8822" stroke-width="0.7"/>
<line x1="549.5" y1="574.58" x2="553.3" y2="574.58" stroke="#ff8822" stroke-width="0.7"/>
<line x1="549.5" y1="586.27" x2="553.3" y2="586.27" stroke="#ff8822" stroke-width="0.7"/>
<polyline points="464.7,612.15 493.6,605.06 522.5,599.21 551.4,580.42" fill="none" stroke="#ff8822" stroke-width="1.1"/>
<path d="M462.46 612.15L464.7 609.91L466.94 612.15L464.7 614.4Z" fill="#ff8822"/>
<path d="M491.36 605.06L493.6 602.82L495.84 605.06L493.6 607.3Z" fill="#ff8822"/>
<path d="M520.26 599.21L522.5 596.97L524.74 599.21L522.5 601.45Z" fill="#ff8822"/>
<path d="M549.16 580.42L551.4 578.18L553.64 580.42L551.4 582.67Z" fill="#ff8822"/>
<line x1="464.7" y1="610.07" x2="464.7" y2="612.57" stroke="#55ee33" stroke-width="0.7"/>
<line x1="462.8" y1="610.07" x2="466.6" y2="610.07" stroke="#55ee33" stroke-width="0.7"/>
<line x1="462.8" y1="612.57" x2="466.6" y2="612.57" stroke="#55ee33" stroke-width="0.7"/>
<line x1="493.6" y1="600.88" x2="493.6" y2="605.06" stroke="#55ee33" stroke-width="0.7"/>
<line x1="491.7" y1="600.88" x2="495.5" y2="600.88" stroke="#55ee33" stroke-width="0.7"/>
<line x1="491.7" y1="605.06" x2="495.5" y2="605.06" stroke="#55ee33" stroke-width="0.7"/>
<line x1="522.5" y1="591.28" x2="522.5" y2="599.63" stroke="#55ee33" stroke-width="0.7"/>
<line x1="520.6" y1="591.28" x2="524.4" y2="591.28" stroke="#55ee33" stroke-width="0.7"/>
<line x1="520.6" y1="599.63" x2="524.4" y2="599.63" stroke="#55ee33" stroke-width="0.7"/>
<line x1="551.4" y1="571.24" x2="551.4" y2="581.26" stroke="#55ee33" stroke-width="0.7"/>
<line x1="549.5" y1="571.24" x2="553.3" y2="571.24" stroke="#55ee33" stroke-width="0.7"/>
<line x1="549.5" y1="581.26" x2="553.3" y2="581.26" stroke="#55ee33" stroke-width="0.7"/>
<polyline points="464.7,611.32 493.6,602.97 522.5,595.46 551.4,576.25" fill="none" stroke="#55ee33" stroke-width="1.1"/>
<path d="M462.56 613.27L466.84 613.27L464.7 609.18Z" fill="#55ee33"/>
<path d="M491.46 604.92L495.75 604.92L493.6 600.83Z" fill="#55ee33"/>
<path d="M520.36 597.41L524.64 597.41L522.5 593.31Z" fill="#55ee33"/>
<path d="M549.25 578.2L553.54 578.2L551.4 574.11Z" fill="#55ee33"/>
<line x1="464.7" y1="610.48" x2="464.7" y2="612.99" stroke="#ff2a1a" stroke-width="0.7"/>
<line x1="462.8" y1="610.48" x2="466.6" y2="610.48" stroke="#ff2a1a" stroke-width="0.7"/>
<line x1="462.8" y1="612.99" x2="466.6" y2="612.99" stroke="#ff2a1a" stroke-width="0.7"/>
<line x1="493.6" y1="600.05" x2="493.6" y2="608.4" stroke="#ff2a1a" stroke-width="0.7"/>
<line x1="491.7" y1="600.05" x2="495.5" y2="600.05" stroke="#ff2a1a" stroke-width="0.7"/>
<line x1="491.7" y1="608.4" x2="495.5" y2="608.4" stroke="#ff2a1a" stroke-width="0.7"/>
<line x1="522.5" y1="592.12" x2="522.5" y2="600.46" stroke="#ff2a1a" stroke-width="0.7"/>
<line x1="520.6" y1="592.12" x2="524.4" y2="592.12" stroke="#ff2a1a" stroke-width="0.7"/>
<line x1="520.6" y1="600.46" x2="524.4" y2="600.46" stroke="#ff2a1a" stroke-width="0.7"/>
<line x1="551.4" y1="567.06" x2="551.4" y2="577.92" stroke="#ff2a1a" stroke-width="0.7"/>
<line x1="549.5" y1="567.06" x2="553.3" y2="567.06" stroke="#ff2a1a" stroke-width="0.7"/>
<line x1="549.5" y1="577.92" x2="553.3" y2="577.92" stroke="#ff2a1a" stroke-width="0.7"/>
<polyline points="464.7,611.74 493.6,604.22 522.5,596.29 551.4,572.49" fill="none" stroke="#ff2a1a" stroke-width="1.1"/>
<rect x="462.75" y="609.79" width="3.9" height="3.9" fill="#ff2a1a"/>
<rect x="491.65" y="602.27" width="3.9" height="3.9" fill="#ff2a1a"/>
<rect x="520.55" y="594.34" width="3.9" height="3.9" fill="#ff2a1a"/>
<rect x="549.45" y="570.54" width="3.9" height="3.9" fill="#ff2a1a"/>
<line x1="464.7" y1="609.23" x2="464.7" y2="612.57" stroke="#2222ff" stroke-width="0.7"/>
<line x1="462.8" y1="609.23" x2="466.6" y2="609.23" stroke="#2222ff" stroke-width="0.7"/>
<line x1="462.8" y1="612.57" x2="466.6" y2="612.57" stroke="#2222ff" stroke-width="0.7"/>
<line x1="493.6" y1="593.78" x2="493.6" y2="600.47" stroke="#2222ff" stroke-width="0.7"/>
<line x1="491.7" y1="593.78" x2="495.5" y2="593.78" stroke="#2222ff" stroke-width="0.7"/>
<line x1="491.7" y1="600.47" x2="495.5" y2="600.47" stroke="#2222ff" stroke-width="0.7"/>
<line x1="522.5" y1="581.68" x2="522.5" y2="587.52" stroke="#2222ff" stroke-width="0.7"/>
<line x1="520.6" y1="581.68" x2="524.4" y2="581.68" stroke="#2222ff" stroke-width="0.7"/>
<line x1="520.6" y1="587.52" x2="524.4" y2="587.52" stroke="#2222ff" stroke-width="0.7"/>
<line x1="551.4" y1="539.51" x2="551.4" y2="552.04" stroke="#2222ff" stroke-width="0.7"/>
<line x1="549.5" y1="539.51" x2="553.3" y2="539.51" stroke="#2222ff" stroke-width="0.7"/>
<line x1="549.5" y1="552.04" x2="553.3" y2="552.04" stroke="#2222ff" stroke-width="0.7"/>
<polyline points="464.7,610.9 493.6,597.12 522.5,584.6 551.4,545.77" fill="none" stroke="#2222ff" stroke-width="1.1"/>
<circle cx="464.7" cy="610.9" r="1.95" fill="#2222ff"/>
<circle cx="493.6" cy="597.12" r="1.95" fill="#2222ff"/>
<circle cx="522.5" cy="584.6" r="1.95" fill="#2222ff"/>
<circle cx="551.4" cy="545.77" r="1.95" fill="#2222ff"/>
<line x1="444.45" y1="618" x2="571" y2="618" stroke="#222" stroke-width="0.9"/>
<line x1="444.9" y1="534.1" x2="444.9" y2="618.4" stroke="#222" stroke-width="0.9"/>
<line x1="441.9" y1="618" x2="444.9" y2="618" stroke="#222" stroke-width="0.9"/>
<text x="442" y="620.65" font-size="6.4" font-weight="bold" text-anchor="end" fill="#111">0.0</text>
<line x1="441.9" y1="597.12" x2="444.9" y2="597.12" stroke="#222" stroke-width="0.9"/>
<text x="442" y="599.78" font-size="6.4" font-weight="bold" text-anchor="end" fill="#111">0.5</text>
<line x1="441.9" y1="576.25" x2="444.9" y2="576.25" stroke="#222" stroke-width="0.9"/>
<text x="442" y="578.9" font-size="6.4" font-weight="bold" text-anchor="end" fill="#111">1.0</text>
<line x1="441.9" y1="555.38" x2="444.9" y2="555.38" stroke="#222" stroke-width="0.9"/>
<text x="442" y="558.03" font-size="6.4" font-weight="bold" text-anchor="end" fill="#111">1.5</text>
<line x1="441.9" y1="534.5" x2="444.9" y2="534.5" stroke="#222" stroke-width="0.9"/>
<text x="442" y="537.15" font-size="6.4" font-weight="bold" text-anchor="end" fill="#111">2.0</text>
<line x1="464.7" y1="618" x2="464.7" y2="620.6" stroke="#222" stroke-width="0.9"/>
<text x="466.3" y="625.5" font-size="6.4" font-weight="bold" text-anchor="end" fill="#111" transform="rotate(-45 466.3 625.5)">0h</text>
<line x1="493.6" y1="618" x2="493.6" y2="620.6" stroke="#222" stroke-width="0.9"/>
<text x="495.2" y="625.5" font-size="6.4" font-weight="bold" text-anchor="end" fill="#111" transform="rotate(-45 495.2 625.5)">24h</text>
<line x1="522.5" y1="618" x2="522.5" y2="620.6" stroke="#222" stroke-width="0.9"/>
<text x="524.1" y="625.5" font-size="6.4" font-weight="bold" text-anchor="end" fill="#111" transform="rotate(-45 524.1 625.5)">48h</text>
<line x1="551.4" y1="618" x2="551.4" y2="620.6" stroke="#222" stroke-width="0.9"/>
<text x="553" y="625.5" font-size="6.4" font-weight="bold" text-anchor="end" fill="#111" transform="rotate(-45 553 625.5)">72h</text>
<line x1="449.5" y1="540.2" x2="459.5" y2="540.2" stroke="#2222ff" stroke-width="0.9"/>
<circle cx="454.5" cy="540.2" r="1.66" fill="#2222ff"/>
<text x="464.3" y="541.78" font-size="4.4" font-weight="bold" text-anchor="start" fill="#222">DMSO</text>
<line x1="449.5" y1="551.5" x2="459.5" y2="551.5" stroke="#ff2a1a" stroke-width="0.9"/>
<rect x="452.84" y="549.84" width="3.31" height="3.31" fill="#ff2a1a"/>
<text x="464.3" y="553.08" font-size="4.4" font-weight="bold" text-anchor="start" fill="#222">UNC1999</text>
<line x1="449.5" y1="561.6" x2="459.5" y2="561.6" stroke="#55ee33" stroke-width="0.9"/>
<path d="M452.68 563.26L456.32 563.26L454.5 559.78Z" fill="#55ee33"/>
<text x="464.3" y="563.18" font-size="4.4" font-weight="bold" text-anchor="start" fill="#222">Erastin</text>
<line x1="449.5" y1="571.4" x2="459.5" y2="571.4" stroke="#cc33ff" stroke-width="0.9"/>
<path d="M452.68 569.74L456.32 569.74L454.5 573.22Z" fill="#cc33ff"/>
<text x="464.3" y="572.98" font-size="4.4" font-weight="bold" text-anchor="start" fill="#222">UNC1999+Erastin</text>
<line x1="449.5" y1="581" x2="459.5" y2="581" stroke="#ff8822" stroke-width="0.9"/>
<path d="M452.59 581L454.5 579.09L456.41 581L454.5 582.91Z" fill="#ff8822"/>
<text x="464.3" y="582.58" font-size="4.4" font-weight="bold" text-anchor="start" fill="#222">UNC1999+Erastin+si-ACSL4</text>
<path d="M554 545H566.5V590.2H554M558 545V572H554M562.2 545V573.5H554.8M554 580H558V590.2" stroke="#222" stroke-width="0.65" fill="none"/>
<text x="556.6" y="560" font-size="4.8" font-weight="bold" text-anchor="middle" fill="#222" transform="rotate(90 556.6 560)">****</text>
<text x="560.8" y="560" font-size="4.8" font-weight="bold" text-anchor="middle" fill="#222" transform="rotate(90 560.8 560)">***</text>
<text x="566" y="567.5" font-size="4.8" font-weight="bold" text-anchor="middle" fill="#222" transform="rotate(90 566 567.5)">***</text>
<text x="557.3" y="586" font-size="4.8" font-weight="bold" text-anchor="middle" fill="#222" transform="rotate(90 557.3 586)">*</text>
<text x="508" y="522.8" font-size="8" font-weight="bold" text-anchor="middle" fill="#111">786-O</text>
<text x="420.5" y="576.25" font-size="6.8" font-weight="bold" text-anchor="middle" fill="#111" transform="rotate(-90 420.5 576.25)">OD value at450 nm</text>
<text x="507.5" y="643.6" font-size="6.8" font-weight="bold" text-anchor="middle" fill="#111">time(h)</text>
<rect x="51.8" y="748.38" width="15.9" height="33.32" fill="#1a1aff"/>
<rect x="75.25" y="732.72" width="15.9" height="48.98" fill="#ff2211"/>
<rect x="98.7" y="731.05" width="15.9" height="50.65" fill="#44e022"/>
<rect x="122.15" y="714.39" width="15.9" height="67.31" fill="#c722ff"/>
<rect x="145.6" y="731.72" width="15.9" height="49.98" fill="#f08322"/>
<line x1="59.75" y1="741.05" x2="59.75" y2="748.38" stroke="#c8c8c8" stroke-width="0.6"/>
<line x1="55.95" y1="741.05" x2="63.55" y2="741.05" stroke="#c8c8c8" stroke-width="0.6"/>
<line x1="83.2" y1="727.72" x2="83.2" y2="732.72" stroke="#c8c8c8" stroke-width="0.6"/>
<line x1="79.4" y1="727.72" x2="87" y2="727.72" stroke="#c8c8c8" stroke-width="0.6"/>
<line x1="106.65" y1="725.39" x2="106.65" y2="731.05" stroke="#c8c8c8" stroke-width="0.6"/>
<line x1="102.85" y1="725.39" x2="110.45" y2="725.39" stroke="#c8c8c8" stroke-width="0.6"/>
<line x1="130.1" y1="707.73" x2="130.1" y2="714.39" stroke="#c8c8c8" stroke-width="0.6"/>
<line x1="126.3" y1="707.73" x2="133.9" y2="707.73" stroke="#c8c8c8" stroke-width="0.6"/>
<line x1="153.55" y1="726.72" x2="153.55" y2="731.72" stroke="#c8c8c8" stroke-width="0.6"/>
<line x1="149.75" y1="726.72" x2="157.35" y2="726.72" stroke="#c8c8c8" stroke-width="0.6"/>
<circle cx="59.75" cy="741.05" r="0.95" fill="#000"/>
<circle cx="59.75" cy="747.38" r="0.95" fill="#000"/>
<circle cx="59.75" cy="757.38" r="0.95" fill="#000"/>
<circle cx="83.2" cy="727.72" r="0.95" fill="#000"/>
<circle cx="83.2" cy="732.39" r="0.95" fill="#000"/>
<circle cx="83.2" cy="734.39" r="0.95" fill="#000"/>
<circle cx="83.2" cy="736.72" r="0.95" fill="#000"/>
<circle cx="106.65" cy="726.39" r="0.95" fill="#000"/>
<circle cx="106.65" cy="731.05" r="0.95" fill="#000"/>
<circle cx="106.65" cy="738.38" r="0.95" fill="#000"/>
<circle cx="130.1" cy="708.4" r="0.95" fill="#000"/>
<circle cx="130.1" cy="713.39" r="0.95" fill="#000"/>
<circle cx="130.1" cy="716.73" r="0.95" fill="#000"/>
<circle cx="130.1" cy="721.72" r="0.95" fill="#000"/>
<circle cx="153.55" cy="727.06" r="0.95" fill="#000"/>
<circle cx="153.55" cy="730.05" r="0.95" fill="#000"/>
<circle cx="153.55" cy="733.39" r="0.95" fill="#000"/>
<circle cx="153.55" cy="737.38" r="0.95" fill="#000"/>
<line x1="43.05" y1="781.7" x2="170" y2="781.7" stroke="#222" stroke-width="0.9"/>
<line x1="43.5" y1="698" x2="43.5" y2="782.1" stroke="#222" stroke-width="0.9"/>
<line x1="40.5" y1="781.7" x2="43.5" y2="781.7" stroke="#222" stroke-width="0.9"/>
<text x="40.6" y="784.35" font-size="6.4" font-weight="bold" text-anchor="end" fill="#111">0.0</text>
<line x1="40.5" y1="765.04" x2="43.5" y2="765.04" stroke="#222" stroke-width="0.9"/>
<text x="40.6" y="767.69" font-size="6.4" font-weight="bold" text-anchor="end" fill="#111">0.5</text>
<line x1="40.5" y1="748.38" x2="43.5" y2="748.38" stroke="#222" stroke-width="0.9"/>
<text x="40.6" y="751.03" font-size="6.4" font-weight="bold" text-anchor="end" fill="#111">1.0</text>
<line x1="40.5" y1="731.72" x2="43.5" y2="731.72" stroke="#222" stroke-width="0.9"/>
<text x="40.6" y="734.37" font-size="6.4" font-weight="bold" text-anchor="end" fill="#111">1.5</text>
<line x1="40.5" y1="715.06" x2="43.5" y2="715.06" stroke="#222" stroke-width="0.9"/>
<text x="40.6" y="717.71" font-size="6.4" font-weight="bold" text-anchor="end" fill="#111">2.0</text>
<line x1="40.5" y1="698.4" x2="43.5" y2="698.4" stroke="#222" stroke-width="0.9"/>
<text x="40.6" y="701.05" font-size="6.4" font-weight="bold" text-anchor="end" fill="#111">2.5</text>
<line x1="59.75" y1="781.7" x2="59.75" y2="784.3" stroke="#222" stroke-width="0.9"/>
<text x="61.35" y="789.2" font-size="6.4" font-weight="bold" text-anchor="end" fill="#111" transform="rotate(-45 61.35 789.2)">DMSO</text>
<line x1="83.2" y1="781.7" x2="83.2" y2="784.3" stroke="#222" stroke-width="0.9"/>
<text x="84.8" y="789.2" font-size="6.4" font-weight="bold" text-anchor="end" fill="#111" transform="rotate(-45 84.8 789.2)">Erastin</text>
<line x1="106.65" y1="781.7" x2="106.65" y2="784.3" stroke="#222" stroke-width="0.9"/>
<text x="108.25" y="789.2" font-size="6.4" font-weight="bold" text-anchor="end" fill="#111" transform="rotate(-45 108.25 789.2)">UNC1999</text>
<line x1="130.1" y1="781.7" x2="130.1" y2="784.3" stroke="#222" stroke-width="0.9"/>
<text x="131.7" y="789.2" font-size="6.4" font-weight="bold" text-anchor="end" fill="#111" transform="rotate(-45 131.7 789.2)">UNC1999+Erastin</text>
<line x1="153.55" y1="781.7" x2="153.55" y2="784.3" stroke="#222" stroke-width="0.9"/>
<text x="155.15" y="789.2" font-size="6.4" font-weight="bold" text-anchor="end" fill="#111" transform="rotate(-45 155.15 789.2)">UNC1999+Erastin+si-ACSL4</text>
<path d="M58.95 707.8V703.5H129.5V707.8" stroke="#2a2a2a" stroke-width="0.72" fill="none"/>
<text x="94.22" y="704.2" font-size="4.5" font-weight="bold" text-anchor="middle" fill="#111">***</text>
<path d="M131.3 707.8V703.5H153.55V707.8" stroke="#2a2a2a" stroke-width="0.72" fill="none"/>
<text x="142.42" y="704.2" font-size="4.5" font-weight="bold" text-anchor="middle" fill="#111">**</text>
<path d="M58.95 721.9V717.6H106.65V721.9" stroke="#2a2a2a" stroke-width="0.72" fill="none"/>
<text x="82.8" y="718.3" font-size="4.5" font-weight="bold" text-anchor="middle" fill="#111">**</text>
<path d="M58.95 727.1V722.8H83.2V727.1" stroke="#2a2a2a" stroke-width="0.72" fill="none"/>
<text x="71.08" y="723.5" font-size="4.5" font-weight="bold" text-anchor="middle" fill="#111">**</text>
<text x="106.3" y="687.3" font-size="8" font-weight="bold" text-anchor="middle" fill="#111">786-O</text>
<text x="27.5" y="740.05" font-size="6.8" font-weight="bold" text-anchor="middle" fill="#111" transform="rotate(-90 27.5 740.05)">Relative MDA Level</text>
<clipPath id="fc204"><rect x="204.4" y="690.6" width="109.6" height="109.4"/></clipPath>
<g clip-path="url(#fc204)">
<path d="M204.4 727.27C229.51 727.27 254.61 727.27 279.72 727.27C280.28 727.27 280.85 726.5 281.41 725.44C281.88 724.56 282.35 720.64 282.82 716.99C283.29 713.34 283.76 704.73 284.23 701.49C284.7 698.27 285.16 694.45 285.63 694.45C286.1 694.45 286.57 698.36 287.04 701.49C287.51 704.62 287.98 712.06 288.45 715.58C288.92 719.1 289.39 722.94 289.86 724.03C290.47 725.44 291.08 726.33 291.69 726.56C292.86 727.01 294.04 727.27 295.21 727.27C298.5 727.27 301.78 727.24 305.07 727.13C306.01 727.1 306.95 726.42 307.89 726.42C308.59 726.42 309.3 727.22 310 727.27C311.33 727.36 312.67 727.36 314 727.41L314 727.41L204.4 727.41Z" fill="#e4e4ff" fill-opacity="0.6" stroke="none"/>
<path d="M204.4 727.27C229.51 727.27 254.61 727.27 279.72 727.27C280.28 727.27 280.85 726.5 281.41 725.44C281.88 724.56 282.35 720.64 282.82 716.99C283.29 713.34 283.76 704.73 284.23 701.49C284.7 698.27 285.16 694.45 285.63 694.45C286.1 694.45 286.57 698.36 287.04 701.49C287.51 704.62 287.98 712.06 288.45 715.58C288.92 719.1 289.39 722.94 289.86 724.03C290.47 725.44 291.08 726.33 291.69 726.56C292.86 727.01 294.04 727.27 295.21 727.27C298.5 727.27 301.78 727.24 305.07 727.13C306.01 727.1 306.95 726.42 307.89 726.42C308.59 726.42 309.3 727.22 310 727.27C311.33 727.36 312.67 727.36 314 727.41" fill="none" stroke="#3a3aff" stroke-width="0.8"/>
<path d="M204.4 745.44C230.45 745.44 256.49 745.44 282.54 745.44C283.01 745.44 283.47 744.35 283.94 743.04C284.32 741.98 284.69 738.21 285.07 735.3C285.54 731.66 286.01 726.32 286.48 722.62C286.95 718.92 287.42 712.76 287.89 712.76C288.36 712.76 288.83 716.9 289.3 719.8C289.77 722.68 290.23 728.19 290.7 731.07C291.17 733.97 291.64 736.83 292.11 738.11C292.91 740.28 293.71 741.71 294.51 742.34C295.45 743.08 296.38 743.57 297.32 743.75C298.5 743.98 299.67 744.01 300.85 744.17C302.26 744.36 303.66 744.73 305.07 744.87C308.05 745.16 311.02 745.25 314 745.44L314 745.44L204.4 745.44Z" fill="#ffdede" fill-opacity="0.6" stroke="none"/>
<path d="M204.4 745.44C230.45 745.44 256.49 745.44 282.54 745.44C283.01 745.44 283.47 744.35 283.94 743.04C284.32 741.98 284.69 738.21 285.07 735.3C285.54 731.66 286.01 726.32 286.48 722.62C286.95 718.92 287.42 712.76 287.89 712.76C288.36 712.76 288.83 716.9 289.3 719.8C289.77 722.68 290.23 728.19 290.7 731.07C291.17 733.97 291.64 736.83 292.11 738.11C292.91 740.28 293.71 741.71 294.51 742.34C295.45 743.08 296.38 743.57 297.32 743.75C298.5 743.98 299.67 744.01 300.85 744.17C302.26 744.36 303.66 744.73 305.07 744.87C308.05 745.16 311.02 745.25 314 745.44" fill="none" stroke="#ff3a3a" stroke-width="0.8"/>
<path d="M204.4 763.32C229.98 763.32 255.55 763.32 281.13 763.32C281.69 763.32 282.26 762.49 282.82 761.35C283.29 760.4 283.76 756.12 284.23 752.2C284.6 749.09 284.98 741.87 285.35 739.52C285.73 737.15 286.1 734.89 286.48 734.59C287.04 734.14 287.61 733.89 288.17 733.89C288.64 733.89 289.11 734.48 289.58 735.3C290.05 736.12 290.52 741.94 290.99 745.15C291.55 749 292.12 754.25 292.68 756.42C293.29 758.77 293.9 760.76 294.51 761.35C295.45 762.25 296.38 762.75 297.32 762.9C298.96 763.16 300.61 763.32 302.25 763.32C306.17 763.32 310.08 763.32 314 763.32L314 763.32L204.4 763.32Z" fill="#d8f5d8" fill-opacity="0.6" stroke="none"/>
<path d="M204.4 763.32C229.98 763.32 255.55 763.32 281.13 763.32C281.69 763.32 282.26 762.49 282.82 761.35C283.29 760.4 283.76 756.12 284.23 752.2C284.6 749.09 284.98 741.87 285.35 739.52C285.73 737.15 286.1 734.89 286.48 734.59C287.04 734.14 287.61 733.89 288.17 733.89C288.64 733.89 289.11 734.48 289.58 735.3C290.05 736.12 290.52 741.94 290.99 745.15C291.55 749 292.12 754.25 292.68 756.42C293.29 758.77 293.9 760.76 294.51 761.35C295.45 762.25 296.38 762.75 297.32 762.9C298.96 763.16 300.61 763.32 302.25 763.32C306.17 763.32 310.08 763.32 314 763.32" fill="none" stroke="#2cc04c" stroke-width="0.8"/>
<path d="M204.4 781.49C230.68 781.49 256.96 781.49 283.24 781.49C284.18 781.49 285.12 780.08 286.06 778.96C287 777.85 287.93 776.41 288.87 774.03C289.58 772.23 290.28 768.6 290.99 764.87C291.55 761.89 292.12 755.93 292.68 753.61C293.2 751.48 293.71 748.96 294.23 748.96C294.79 748.96 295.36 751.19 295.92 753.61C296.39 755.61 296.85 762.6 297.32 766.28C297.79 769.99 298.26 774.82 298.73 776.14C299.44 778.12 300.14 779.1 300.85 779.66C301.79 780.4 302.72 780.91 303.66 781.07C305.07 781.31 306.48 781.49 307.89 781.49C309.93 781.49 311.96 781.49 314 781.49L314 781.49L204.4 781.49Z" fill="#e0d8f5" fill-opacity="0.6" stroke="none"/>
<path d="M204.4 781.49C230.68 781.49 256.96 781.49 283.24 781.49C284.18 781.49 285.12 780.08 286.06 778.96C287 777.85 287.93 776.41 288.87 774.03C289.58 772.23 290.28 768.6 290.99 764.87C291.55 761.89 292.12 755.93 292.68 753.61C293.2 751.48 293.71 748.96 294.23 748.96C294.79 748.96 295.36 751.19 295.92 753.61C296.39 755.61 296.85 762.6 297.32 766.28C297.79 769.99 298.26 774.82 298.73 776.14C299.44 778.12 300.14 779.1 300.85 779.66C301.79 780.4 302.72 780.91 303.66 781.07C305.07 781.31 306.48 781.49 307.89 781.49C309.93 781.49 311.96 781.49 314 781.49" fill="none" stroke="#6a3fc0" stroke-width="0.8"/>
<path d="M281.13 800C282.07 798.85 283 797.43 283.94 796.56C284.88 795.69 285.82 795.5 286.76 794.45C287.46 793.67 288.17 792.41 288.87 790.23C289.34 788.77 289.81 784.8 290.28 781.77C290.75 778.74 291.22 774.11 291.69 771.92C292.16 769.73 292.63 766.99 293.1 766.99C293.57 766.99 294.04 770 294.51 773.32C294.84 775.63 295.16 784 295.49 787.41C295.87 791.34 296.24 795.92 296.62 796.56C297.32 797.76 298.03 798.2 298.73 798.39C300.37 798.84 302.02 798.88 303.66 799.1C306.01 799.42 308.35 799.7 310.7 800L310.7 800L281.13 800Z" fill="#f3ead0" fill-opacity="0.6" stroke="none"/>
<path d="M281.13 800C282.07 798.85 283 797.43 283.94 796.56C284.88 795.69 285.82 795.5 286.76 794.45C287.46 793.67 288.17 792.41 288.87 790.23C289.34 788.77 289.81 784.8 290.28 781.77C290.75 778.74 291.22 774.11 291.69 771.92C292.16 769.73 292.63 766.99 293.1 766.99C293.57 766.99 294.04 770 294.51 773.32C294.84 775.63 295.16 784 295.49 787.41C295.87 791.34 296.24 795.92 296.62 796.56C297.32 797.76 298.03 798.2 298.73 798.39C300.37 798.84 302.02 798.88 303.66 799.1C306.01 799.42 308.35 799.7 310.7 800" fill="none" stroke="#c08820" stroke-width="0.8"/>
</g>
<rect x="204.7" y="690.9" width="99.6" height="44" fill="#fff" fill-opacity="0.8"/>
<rect x="204.4" y="690.6" width="109.6" height="109.4" fill="none" stroke="#333" stroke-width="0.7"/>
<line x1="201.8" y1="800" x2="204.4" y2="800" stroke="#333" stroke-width="0.6"/>
<text x="199.2" y="800" font-size="6" font-weight="normal" text-anchor="middle" fill="#000" transform="rotate(-90 199.2 800)">0</text>
<line x1="201.8" y1="780.11" x2="204.4" y2="780.11" stroke="#333" stroke-width="0.6"/>
<text x="199.2" y="780.11" font-size="6" font-weight="normal" text-anchor="middle" fill="#000" transform="rotate(-90 199.2 780.11)">20</text>
<line x1="201.8" y1="760.22" x2="204.4" y2="760.22" stroke="#333" stroke-width="0.6"/>
<text x="199.2" y="760.22" font-size="6" font-weight="normal" text-anchor="middle" fill="#000" transform="rotate(-90 199.2 760.22)">40</text>
<line x1="201.8" y1="740.33" x2="204.4" y2="740.33" stroke="#333" stroke-width="0.6"/>
<text x="199.2" y="740.33" font-size="6" font-weight="normal" text-anchor="middle" fill="#000" transform="rotate(-90 199.2 740.33)">60</text>
<line x1="201.8" y1="720.44" x2="204.4" y2="720.44" stroke="#333" stroke-width="0.6"/>
<text x="199.2" y="720.44" font-size="6" font-weight="normal" text-anchor="middle" fill="#000" transform="rotate(-90 199.2 720.44)">80</text>
<line x1="201.8" y1="700.55" x2="204.4" y2="700.55" stroke="#333" stroke-width="0.6"/>
<text x="199.2" y="700.55" font-size="6" font-weight="normal" text-anchor="middle" fill="#000" transform="rotate(-90 199.2 700.55)">100</text>
<line x1="203.2" y1="800" x2="204.4" y2="800" stroke="#333" stroke-width="0.4"/>
<line x1="203.2" y1="796.02" x2="204.4" y2="796.02" stroke="#333" stroke-width="0.4"/>
<line x1="203.2" y1="792.04" x2="204.4" y2="792.04" stroke="#333" stroke-width="0.4"/>
<line x1="203.2" y1="788.07" x2="204.4" y2="788.07" stroke="#333" stroke-width="0.4"/>
<line x1="203.2" y1="784.09" x2="204.4" y2="784.09" stroke="#333" stroke-width="0.4"/>
<line x1="203.2" y1="780.11" x2="204.4" y2="780.11" stroke="#333" stroke-width="0.4"/>
<line x1="203.2" y1="776.13" x2="204.4" y2="776.13" stroke="#333" stroke-width="0.4"/>
<line x1="203.2" y1="772.15" x2="204.4" y2="772.15" stroke="#333" stroke-width="0.4"/>
<line x1="203.2" y1="768.17" x2="204.4" y2="768.17" stroke="#333" stroke-width="0.4"/>
<line x1="203.2" y1="764.2" x2="204.4" y2="764.2" stroke="#333" stroke-width="0.4"/>
<line x1="203.2" y1="760.22" x2="204.4" y2="760.22" stroke="#333" stroke-width="0.4"/>
<line x1="203.2" y1="756.24" x2="204.4" y2="756.24" stroke="#333" stroke-width="0.4"/>
<line x1="203.2" y1="752.26" x2="204.4" y2="752.26" stroke="#333" stroke-width="0.4"/>
<line x1="203.2" y1="748.28" x2="204.4" y2="748.28" stroke="#333" stroke-width="0.4"/>
<line x1="203.2" y1="744.31" x2="204.4" y2="744.31" stroke="#333" stroke-width="0.4"/>
<line x1="203.2" y1="740.33" x2="204.4" y2="740.33" stroke="#333" stroke-width="0.4"/>
<line x1="203.2" y1="736.35" x2="204.4" y2="736.35" stroke="#333" stroke-width="0.4"/>
<line x1="203.2" y1="732.37" x2="204.4" y2="732.37" stroke="#333" stroke-width="0.4"/>
<line x1="203.2" y1="728.39" x2="204.4" y2="728.39" stroke="#333" stroke-width="0.4"/>
<line x1="203.2" y1="724.41" x2="204.4" y2="724.41" stroke="#333" stroke-width="0.4"/>
<line x1="203.2" y1="720.44" x2="204.4" y2="720.44" stroke="#333" stroke-width="0.4"/>
<line x1="203.2" y1="716.46" x2="204.4" y2="716.46" stroke="#333" stroke-width="0.4"/>
<line x1="203.2" y1="712.48" x2="204.4" y2="712.48" stroke="#333" stroke-width="0.4"/>
<line x1="203.2" y1="708.5" x2="204.4" y2="708.5" stroke="#333" stroke-width="0.4"/>
<line x1="203.2" y1="704.52" x2="204.4" y2="704.52" stroke="#333" stroke-width="0.4"/>
<line x1="203.2" y1="700.55" x2="204.4" y2="700.55" stroke="#333" stroke-width="0.4"/>
<line x1="203.2" y1="696.57" x2="204.4" y2="696.57" stroke="#333" stroke-width="0.4"/>
<line x1="203.2" y1="692.59" x2="204.4" y2="692.59" stroke="#333" stroke-width="0.4"/>
<text x="188.4" y="748.3" font-size="6" font-weight="normal" text-anchor="middle" fill="#000" transform="rotate(-90 188.4 748.3)">Count&#160; (%)</text>
<line x1="204.4" y1="800" x2="204.4" y2="802.4" stroke="#333" stroke-width="0.6"/>
<text x="207.6" y="809.6" font-size="6.1" font-weight="normal" text-anchor="middle" fill="#000">10<tspan dx="0.7" dy="-2" font-size="5.3">1.1</tspan></text>
<line x1="224.4" y1="800" x2="224.4" y2="802.4" stroke="#333" stroke-width="0.6"/>
<text x="224.4" y="809.6" font-size="6.1" font-weight="normal" text-anchor="middle" fill="#000">10<tspan dx="0.7" dy="-2" font-size="5.3">2</tspan></text>
<line x1="246.2" y1="800" x2="246.2" y2="802.4" stroke="#333" stroke-width="0.6"/>
<text x="246.2" y="809.6" font-size="6.1" font-weight="normal" text-anchor="middle" fill="#000">10<tspan dx="0.7" dy="-2" font-size="5.3">3</tspan></text>
<line x1="268.2" y1="800" x2="268.2" y2="802.4" stroke="#333" stroke-width="0.6"/>
<text x="268.2" y="809.6" font-size="6.1" font-weight="normal" text-anchor="middle" fill="#000">10<tspan dx="0.7" dy="-2" font-size="5.3">4</tspan></text>
<line x1="290.1" y1="800" x2="290.1" y2="802.4" stroke="#333" stroke-width="0.6"/>
<text x="290.1" y="809.6" font-size="6.1" font-weight="normal" text-anchor="middle" fill="#000">10<tspan dx="0.7" dy="-2" font-size="5.3">5</tspan></text>
<line x1="314" y1="800" x2="314" y2="802.4" stroke="#333" stroke-width="0.6"/>
<text x="314" y="809.6" font-size="6.1" font-weight="normal" text-anchor="middle" fill="#000">10<tspan dx="0.7" dy="-2" font-size="5.3">6.1</tspan></text>
<line x1="208.81" y1="800" x2="208.81" y2="801.2" stroke="#333" stroke-width="0.35"/>
<line x1="212.67" y1="800" x2="212.67" y2="801.2" stroke="#333" stroke-width="0.35"/>
<line x1="215.41" y1="800" x2="215.41" y2="801.2" stroke="#333" stroke-width="0.35"/>
<line x1="217.53" y1="800" x2="217.53" y2="801.2" stroke="#333" stroke-width="0.35"/>
<line x1="219.27" y1="800" x2="219.27" y2="801.2" stroke="#333" stroke-width="0.35"/>
<line x1="220.73" y1="800" x2="220.73" y2="801.2" stroke="#333" stroke-width="0.35"/>
<line x1="222" y1="800" x2="222" y2="801.2" stroke="#333" stroke-width="0.35"/>
<line x1="223.12" y1="800" x2="223.12" y2="801.2" stroke="#333" stroke-width="0.35"/>
<line x1="230.73" y1="800" x2="230.73" y2="801.2" stroke="#333" stroke-width="0.35"/>
<line x1="234.59" y1="800" x2="234.59" y2="801.2" stroke="#333" stroke-width="0.35"/>
<line x1="237.33" y1="800" x2="237.33" y2="801.2" stroke="#333" stroke-width="0.35"/>
<line x1="239.45" y1="800" x2="239.45" y2="801.2" stroke="#333" stroke-width="0.35"/>
<line x1="241.19" y1="800" x2="241.19" y2="801.2" stroke="#333" stroke-width="0.35"/>
<line x1="242.65" y1="800" x2="242.65" y2="801.2" stroke="#333" stroke-width="0.35"/>
<line x1="243.92" y1="800" x2="243.92" y2="801.2" stroke="#333" stroke-width="0.35"/>
<line x1="245.04" y1="800" x2="245.04" y2="801.2" stroke="#333" stroke-width="0.35"/>
<line x1="252.65" y1="800" x2="252.65" y2="801.2" stroke="#333" stroke-width="0.35"/>
<line x1="256.51" y1="800" x2="256.51" y2="801.2" stroke="#333" stroke-width="0.35"/>
<line x1="259.25" y1="800" x2="259.25" y2="801.2" stroke="#333" stroke-width="0.35"/>
<line x1="261.37" y1="800" x2="261.37" y2="801.2" stroke="#333" stroke-width="0.35"/>
<line x1="263.11" y1="800" x2="263.11" y2="801.2" stroke="#333" stroke-width="0.35"/>
<line x1="264.57" y1="800" x2="264.57" y2="801.2" stroke="#333" stroke-width="0.35"/>
<line x1="265.84" y1="800" x2="265.84" y2="801.2" stroke="#333" stroke-width="0.35"/>
<line x1="266.96" y1="800" x2="266.96" y2="801.2" stroke="#333" stroke-width="0.35"/>
<line x1="274.57" y1="800" x2="274.57" y2="801.2" stroke="#333" stroke-width="0.35"/>
<line x1="278.43" y1="800" x2="278.43" y2="801.2" stroke="#333" stroke-width="0.35"/>
<line x1="281.17" y1="800" x2="281.17" y2="801.2" stroke="#333" stroke-width="0.35"/>
<line x1="283.29" y1="800" x2="283.29" y2="801.2" stroke="#333" stroke-width="0.35"/>
<line x1="285.03" y1="800" x2="285.03" y2="801.2" stroke="#333" stroke-width="0.35"/>
<line x1="286.49" y1="800" x2="286.49" y2="801.2" stroke="#333" stroke-width="0.35"/>
<line x1="287.76" y1="800" x2="287.76" y2="801.2" stroke="#333" stroke-width="0.35"/>
<line x1="288.88" y1="800" x2="288.88" y2="801.2" stroke="#333" stroke-width="0.35"/>
<line x1="296.49" y1="800" x2="296.49" y2="801.2" stroke="#333" stroke-width="0.35"/>
<line x1="300.35" y1="800" x2="300.35" y2="801.2" stroke="#333" stroke-width="0.35"/>
<line x1="303.09" y1="800" x2="303.09" y2="801.2" stroke="#333" stroke-width="0.35"/>
<line x1="305.21" y1="800" x2="305.21" y2="801.2" stroke="#333" stroke-width="0.35"/>
<line x1="306.95" y1="800" x2="306.95" y2="801.2" stroke="#333" stroke-width="0.35"/>
<line x1="308.41" y1="800" x2="308.41" y2="801.2" stroke="#333" stroke-width="0.35"/>
<line x1="309.68" y1="800" x2="309.68" y2="801.2" stroke="#333" stroke-width="0.35"/>
<line x1="310.8" y1="800" x2="310.8" y2="801.2" stroke="#333" stroke-width="0.35"/>
<text x="259.2" y="819.5" font-size="5.9" font-weight="normal" text-anchor="middle" fill="#000">FITC-H</text>
<rect x="206.8" y="692.8" width="12.8" height="3.6" fill="#e4e4ff" fill-opacity="0.55" stroke="#3a3aff" stroke-width="0.6"/>
<text x="223.8" y="696.7" font-size="6" font-weight="normal" text-anchor="start" fill="#000">DMSO</text>
<rect x="206.8" y="701.5" width="12.8" height="3.6" fill="#ffdede" fill-opacity="0.55" stroke="#ff3a3a" stroke-width="0.6"/>
<text x="223.8" y="705.4" font-size="6" font-weight="normal" text-anchor="start" fill="#000">Erastin</text>
<rect x="206.8" y="710.2" width="12.8" height="3.6" fill="#d8f5d8" fill-opacity="0.55" stroke="#2cc04c" stroke-width="0.6"/>
<text x="223.8" y="714.1" font-size="6" font-weight="normal" text-anchor="start" fill="#000">UNC1999</text>
<rect x="206.8" y="718.9" width="12.8" height="3.6" fill="#e0d8f5" fill-opacity="0.55" stroke="#6a3fc0" stroke-width="0.6"/>
<text x="223.8" y="722.8" font-size="6" font-weight="normal" text-anchor="start" fill="#000">UNC1999+Erastin</text>
<rect x="206.8" y="727.6" width="12.8" height="3.6" fill="#f3ead0" fill-opacity="0.55" stroke="#c08820" stroke-width="0.6"/>
<text x="223.8" y="731.5" font-size="6" font-weight="normal" text-anchor="start" fill="#000">UNC1999+Erastin+si-ACSL4</text>
<rect x="392.8" y="748.5" width="15.9" height="33.4" fill="#1a1aff"/>
<rect x="416.25" y="735.14" width="15.9" height="46.76" fill="#ff2211"/>
<rect x="439.7" y="737.14" width="15.9" height="44.76" fill="#44e022"/>
<rect x="463.15" y="715.77" width="15.9" height="66.13" fill="#c722ff"/>
<rect x="486.6" y="726.12" width="15.9" height="55.78" fill="#f08322"/>
<line x1="400.75" y1="744.16" x2="400.75" y2="748.5" stroke="#c8c8c8" stroke-width="0.6"/>
<line x1="396.95" y1="744.16" x2="404.55" y2="744.16" stroke="#c8c8c8" stroke-width="0.6"/>
<line x1="424.2" y1="730.46" x2="424.2" y2="735.14" stroke="#c8c8c8" stroke-width="0.6"/>
<line x1="420.4" y1="730.46" x2="428" y2="730.46" stroke="#c8c8c8" stroke-width="0.6"/>
<line x1="447.65" y1="732.47" x2="447.65" y2="737.14" stroke="#c8c8c8" stroke-width="0.6"/>
<line x1="443.85" y1="732.47" x2="451.45" y2="732.47" stroke="#c8c8c8" stroke-width="0.6"/>
<line x1="471.1" y1="710.09" x2="471.1" y2="715.77" stroke="#c8c8c8" stroke-width="0.6"/>
<line x1="467.3" y1="710.09" x2="474.9" y2="710.09" stroke="#c8c8c8" stroke-width="0.6"/>
<line x1="494.55" y1="724.12" x2="494.55" y2="726.12" stroke="#c8c8c8" stroke-width="0.6"/>
<line x1="490.75" y1="724.12" x2="498.35" y2="724.12" stroke="#c8c8c8" stroke-width="0.6"/>
<circle cx="400.75" cy="744.49" r="0.95" fill="#000"/>
<circle cx="400.75" cy="749.17" r="0.95" fill="#000"/>
<circle cx="400.75" cy="753.18" r="0.95" fill="#000"/>
<circle cx="424.2" cy="730.8" r="0.95" fill="#000"/>
<circle cx="424.2" cy="735.14" r="0.95" fill="#000"/>
<circle cx="424.2" cy="738.48" r="0.95" fill="#000"/>
<circle cx="447.65" cy="732.47" r="0.95" fill="#000"/>
<circle cx="447.65" cy="737.81" r="0.95" fill="#000"/>
<circle cx="447.65" cy="740.82" r="0.95" fill="#000"/>
<circle cx="471.1" cy="710.76" r="0.95" fill="#000"/>
<circle cx="471.1" cy="716.1" r="0.95" fill="#000"/>
<circle cx="471.1" cy="721.11" r="0.95" fill="#000"/>
<circle cx="494.55" cy="724.12" r="0.95" fill="#000"/>
<circle cx="494.55" cy="725.79" r="0.95" fill="#000"/>
<circle cx="494.55" cy="727.12" r="0.95" fill="#000"/>
<line x1="384.05" y1="781.9" x2="511" y2="781.9" stroke="#222" stroke-width="0.9"/>
<line x1="384.5" y1="698" x2="384.5" y2="782.3" stroke="#222" stroke-width="0.9"/>
<line x1="381.5" y1="781.9" x2="384.5" y2="781.9" stroke="#222" stroke-width="0.9"/>
<text x="381.6" y="784.55" font-size="6.4" font-weight="bold" text-anchor="end" fill="#111">0.0</text>
<line x1="381.5" y1="765.2" x2="384.5" y2="765.2" stroke="#222" stroke-width="0.9"/>
<text x="381.6" y="767.85" font-size="6.4" font-weight="bold" text-anchor="end" fill="#111">0.5</text>
<line x1="381.5" y1="748.5" x2="384.5" y2="748.5" stroke="#222" stroke-width="0.9"/>
<text x="381.6" y="751.15" font-size="6.4" font-weight="bold" text-anchor="end" fill="#111">1.0</text>
<line x1="381.5" y1="731.8" x2="384.5" y2="731.8" stroke="#222" stroke-width="0.9"/>
<text x="381.6" y="734.45" font-size="6.4" font-weight="bold" text-anchor="end" fill="#111">1.5</text>
<line x1="381.5" y1="715.1" x2="384.5" y2="715.1" stroke="#222" stroke-width="0.9"/>
<text x="381.6" y="717.75" font-size="6.4" font-weight="bold" text-anchor="end" fill="#111">2.0</text>
<line x1="381.5" y1="698.4" x2="384.5" y2="698.4" stroke="#222" stroke-width="0.9"/>
<text x="381.6" y="701.05" font-size="6.4" font-weight="bold" text-anchor="end" fill="#111">2.5</text>
<line x1="400.75" y1="781.9" x2="400.75" y2="784.5" stroke="#222" stroke-width="0.9"/>
<text x="402.35" y="789.4" font-size="6.4" font-weight="bold" text-anchor="end" fill="#111" transform="rotate(-45 402.35 789.4)">DMSO</text>
<line x1="424.2" y1="781.9" x2="424.2" y2="784.5" stroke="#222" stroke-width="0.9"/>
<text x="425.8" y="789.4" font-size="6.4" font-weight="bold" text-anchor="end" fill="#111" transform="rotate(-45 425.8 789.4)">Erastin</text>
<line x1="447.65" y1="781.9" x2="447.65" y2="784.5" stroke="#222" stroke-width="0.9"/>
<text x="449.25" y="789.4" font-size="6.4" font-weight="bold" text-anchor="end" fill="#111" transform="rotate(-45 449.25 789.4)">UNC1999</text>
<line x1="471.1" y1="781.9" x2="471.1" y2="784.5" stroke="#222" stroke-width="0.9"/>
<text x="472.7" y="789.4" font-size="6.4" font-weight="bold" text-anchor="end" fill="#111" transform="rotate(-45 472.7 789.4)">UNC1999+Erastin</text>
<line x1="494.55" y1="781.9" x2="494.55" y2="784.5" stroke="#222" stroke-width="0.9"/>
<text x="496.15" y="789.4" font-size="6.4" font-weight="bold" text-anchor="end" fill="#111" transform="rotate(-45 496.15 789.4)">UNC1999+Erastin+si-ACSL4</text>
<path d="M399.95 710.5V706.2H470.5V710.5" stroke="#2a2a2a" stroke-width="0.72" fill="none"/>
<text x="435.22" y="706.9" font-size="4.5" font-weight="bold" text-anchor="middle" fill="#111">**</text>
<path d="M472.3 710.5V706.2H494.55V710.5" stroke="#2a2a2a" stroke-width="0.72" fill="none"/>
<text x="483.42" y="706.9" font-size="4.5" font-weight="bold" text-anchor="middle" fill="#111">*</text>
<path d="M399.95 726.1V721.8H447.65V726.1" stroke="#2a2a2a" stroke-width="0.72" fill="none"/>
<text x="423.8" y="722.5" font-size="4.5" font-weight="bold" text-anchor="middle" fill="#111">*</text>
<path d="M399.95 730.5V726.2H424.2V730.5" stroke="#2a2a2a" stroke-width="0.72" fill="none"/>
<text x="412.07" y="726.9" font-size="4.5" font-weight="bold" text-anchor="middle" fill="#111">*</text>
<text x="447.5" y="687.3" font-size="8" font-weight="bold" text-anchor="middle" fill="#111">786-O</text>
<text x="367.5" y="740.15" font-size="6.8" font-weight="bold" text-anchor="middle" fill="#111" transform="rotate(-90 367.5 740.15)">Relative lipid ROS</text>
<rect x="562.2" y="753.93" width="15.9" height="27.77" fill="#1a1aff"/>
<rect x="585.65" y="735.05" width="15.9" height="46.65" fill="#ff2211"/>
<rect x="609.1" y="737.27" width="15.9" height="44.43" fill="#44e022"/>
<rect x="632.55" y="721.17" width="15.9" height="60.53" fill="#c722ff"/>
<rect x="656" y="733.66" width="15.9" height="48.04" fill="#f08322"/>
<line x1="570.15" y1="748.94" x2="570.15" y2="753.93" stroke="#c8c8c8" stroke-width="0.6"/>
<line x1="566.35" y1="748.94" x2="573.95" y2="748.94" stroke="#c8c8c8" stroke-width="0.6"/>
<line x1="593.6" y1="731.72" x2="593.6" y2="735.05" stroke="#c8c8c8" stroke-width="0.6"/>
<line x1="589.8" y1="731.72" x2="597.4" y2="731.72" stroke="#c8c8c8" stroke-width="0.6"/>
<line x1="617.05" y1="730.33" x2="617.05" y2="737.27" stroke="#c8c8c8" stroke-width="0.6"/>
<line x1="613.25" y1="730.33" x2="620.85" y2="730.33" stroke="#c8c8c8" stroke-width="0.6"/>
<line x1="640.5" y1="713.39" x2="640.5" y2="721.17" stroke="#c8c8c8" stroke-width="0.6"/>
<line x1="636.7" y1="713.39" x2="644.3" y2="713.39" stroke="#c8c8c8" stroke-width="0.6"/>
<line x1="663.95" y1="726.44" x2="663.95" y2="733.66" stroke="#c8c8c8" stroke-width="0.6"/>
<line x1="660.15" y1="726.44" x2="667.75" y2="726.44" stroke="#c8c8c8" stroke-width="0.6"/>
<circle cx="569.15" cy="749.77" r="0.95" fill="#000"/>
<circle cx="571.15" cy="749.77" r="0.95" fill="#000"/>
<circle cx="570.15" cy="755.32" r="0.95" fill="#000"/>
<circle cx="570.15" cy="760.32" r="0.95" fill="#000"/>
<circle cx="593.6" cy="731.72" r="0.95" fill="#000"/>
<circle cx="593.6" cy="735.05" r="0.95" fill="#000"/>
<circle cx="593.6" cy="737.27" r="0.95" fill="#000"/>
<circle cx="617.05" cy="728.94" r="0.95" fill="#000"/>
<circle cx="617.05" cy="737.83" r="0.95" fill="#000"/>
<circle cx="617.05" cy="743.38" r="0.95" fill="#000"/>
<circle cx="640.5" cy="710.89" r="0.95" fill="#000"/>
<circle cx="640.5" cy="722" r="0.95" fill="#000"/>
<circle cx="640.5" cy="726.17" r="0.95" fill="#000"/>
<circle cx="663.95" cy="727" r="0.95" fill="#000"/>
<circle cx="663.95" cy="728.94" r="0.95" fill="#000"/>
<circle cx="663.95" cy="740.05" r="0.95" fill="#000"/>
<line x1="553.55" y1="781.7" x2="680.8" y2="781.7" stroke="#222" stroke-width="0.9"/>
<line x1="554" y1="698" x2="554" y2="782.1" stroke="#222" stroke-width="0.9"/>
<line x1="551" y1="781.7" x2="554" y2="781.7" stroke="#222" stroke-width="0.9"/>
<text x="551.1" y="784.35" font-size="6.4" font-weight="bold" text-anchor="end" fill="#111">0</text>
<line x1="551" y1="753.93" x2="554" y2="753.93" stroke="#222" stroke-width="0.9"/>
<text x="551.1" y="756.59" font-size="6.4" font-weight="bold" text-anchor="end" fill="#111">1</text>
<line x1="551" y1="726.17" x2="554" y2="726.17" stroke="#222" stroke-width="0.9"/>
<text x="551.1" y="728.82" font-size="6.4" font-weight="bold" text-anchor="end" fill="#111">2</text>
<line x1="551" y1="698.4" x2="554" y2="698.4" stroke="#222" stroke-width="0.9"/>
<text x="551.1" y="701.05" font-size="6.4" font-weight="bold" text-anchor="end" fill="#111">3</text>
<line x1="570.15" y1="781.7" x2="570.15" y2="784.3" stroke="#222" stroke-width="0.9"/>
<text x="571.75" y="789.2" font-size="6.4" font-weight="bold" text-anchor="end" fill="#111" transform="rotate(-45 571.75 789.2)">DMSO</text>
<line x1="593.6" y1="781.7" x2="593.6" y2="784.3" stroke="#222" stroke-width="0.9"/>
<text x="595.2" y="789.2" font-size="6.4" font-weight="bold" text-anchor="end" fill="#111" transform="rotate(-45 595.2 789.2)">Erastin</text>
<line x1="617.05" y1="781.7" x2="617.05" y2="784.3" stroke="#222" stroke-width="0.9"/>
<text x="618.65" y="789.2" font-size="6.4" font-weight="bold" text-anchor="end" fill="#111" transform="rotate(-45 618.65 789.2)">UNC1999</text>
<line x1="640.5" y1="781.7" x2="640.5" y2="784.3" stroke="#222" stroke-width="0.9"/>
<text x="642.1" y="789.2" font-size="6.4" font-weight="bold" text-anchor="end" fill="#111" transform="rotate(-45 642.1 789.2)">UNC1999+Erastin</text>
<line x1="663.95" y1="781.7" x2="663.95" y2="784.3" stroke="#222" stroke-width="0.9"/>
<text x="665.55" y="789.2" font-size="6.4" font-weight="bold" text-anchor="end" fill="#111" transform="rotate(-45 665.55 789.2)">UNC1999+Erastin+si-ACSL4</text>
<path d="M569.35 712.3V708H639.9V712.3" stroke="#2a2a2a" stroke-width="0.72" fill="none"/>
<text x="604.63" y="708.7" font-size="4.5" font-weight="bold" text-anchor="middle" fill="#111">**</text>
<path d="M641.7 712.3V708H663.95V712.3" stroke="#2a2a2a" stroke-width="0.72" fill="none"/>
<text x="652.83" y="708.7" font-size="4.5" font-weight="bold" text-anchor="middle" fill="#111">*</text>
<path d="M569.35 726.3V722H617.05V726.3" stroke="#2a2a2a" stroke-width="0.72" fill="none"/>
<text x="593.2" y="722.7" font-size="4.5" font-weight="bold" text-anchor="middle" fill="#111">**</text>
<path d="M569.35 730.1V725.8H593.6V730.1" stroke="#2a2a2a" stroke-width="0.72" fill="none"/>
<text x="581.48" y="726.5" font-size="4.5" font-weight="bold" text-anchor="middle" fill="#111">***</text>
<text x="617" y="687.3" font-size="8" font-weight="bold" text-anchor="middle" fill="#111">786-O</text>
<text x="543" y="740.05" font-size="6.8" font-weight="bold" text-anchor="middle" fill="#111" transform="rotate(-90 543 740.05)">Relative Fe<tspan dy="-2.6" font-size="4.6">2+</tspan><tspan dy="2.6"> Level</tspan></text>
</svg>
</body>
</html>
